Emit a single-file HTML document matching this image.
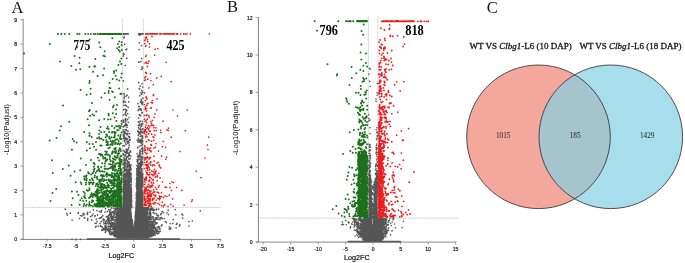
<!DOCTYPE html>
<html lang="en"><head><meta charset="utf-8"><title>Figure</title>
<style>html,body{margin:0;padding:0;background:#fff}svg{display:block}.ss{font-family:"Liberation Sans","DejaVu Sans",sans-serif}.sf{font-family:"Liberation Serif","DejaVu Serif",serif}</style>
</head><body>
<svg width="685" height="263" viewBox="0 0 685 263">
<rect width="685" height="263" fill="#fff"/>
<g id="pa">
<g stroke="#8a8a8a" stroke-width="0.5" stroke-dasharray="1 0.7" fill="none">
<path d="M23.5 207.6 H221"/>
<path d="M122.6 18.8 V239"/>
<path d="M143.4 18.8 V239"/>
</g>
<path d="M23.2 19 V239.5" stroke="#a8a8a8" stroke-width="1.4" fill="none"/>
<path d="M21 239.4 H221" stroke="#5e5e5e" stroke-width="0.8" fill="none"/>
<path d="M141.4 224h0M153 209.2h0M117.3 234.5h0M147 209.4h0M131.6 230.1h0M124.2 226.7h0M136.1 213.5h0M135 227.2h0M129.1 222.7h0M117.3 237.3h0M128.4 216h0M120.4 223.1h0M134.8 229.6h0M120.3 214.9h0M135.2 230.3h0M128.3 225.8h0M142.9 235.1h0M124.8 227.3h0M119 233.2h0M118.6 231.5h0M136.1 216.1h0M172.7 223.4h0M119.3 224.8h0M126 208.2h0M145.6 208.9h0M139.2 217h0M144.8 223h0M135.9 231.1h0M137.7 234.4h0M136.5 208.6h0M121.7 223.8h0M134.9 235.5h0M123 220.4h0M138.9 215.3h0M107.6 219.1h0M115 210.4h0M130.9 237.3h0M132.6 223.4h0M150 225.2h0M123.5 236.8h0M138.6 219.8h0M116.5 212.7h0M153.9 220.4h0M105.4 227.7h0M145.3 213.1h0M127.8 224h0M114.5 223.4h0M125.8 216.1h0M140.9 234.7h0M129 213.8h0M123.3 218.4h0M135.9 214.9h0M131.4 233.5h0M140.3 214.4h0M138.5 233.5h0M126.4 236.4h0M123.9 212.6h0M130.1 212.4h0M128.6 211.8h0M135.1 225.2h0M121 231.2h0M132.7 238h0M123.3 219.6h0M137.4 217.2h0M136.1 213.3h0M128.7 231h0M115.2 231.9h0M142.2 219.8h0M123.2 214.3h0M126.1 208.8h0M130.5 234.6h0M135.9 224.9h0M125.6 211.2h0M126 226.7h0M118 221.5h0M142.7 237.7h0M126.2 218.7h0M126.2 210.4h0M113.6 213.3h0M125.3 211.5h0M140.1 219.1h0M142.2 232h0M121.7 215.5h0M132.1 233h0M138 213.4h0M116.3 236.1h0M127 213.6h0M138.9 234.2h0M142.5 228.2h0M117 229.7h0M121.1 218.1h0M143.5 233.9h0M127.3 227.6h0M135.4 238h0M119.8 231.5h0M143.1 226.8h0M135.7 235.8h0M144.8 220h0M122.1 228h0M125.8 217h0M120 219.4h0M119.3 226.5h0M119.6 212.2h0M132.3 220.1h0M122.5 214.1h0M130.5 229.2h0M123.9 222.9h0M134.5 233.4h0M139 207.7h0M139 232.1h0M139.7 231.7h0M129.3 236.6h0M138.1 231.7h0M127.5 215.7h0M123 217.9h0M117.8 235.1h0M130.1 228.2h0M135 226.8h0M146.1 219h0M126 225.7h0M145 221.6h0M117.5 213.1h0M129.2 216.9h0M154.4 226.8h0M127.5 225.9h0M122.2 228.4h0M120.5 235.7h0M154.3 231h0M144 230.9h0M125.7 230h0M126.7 230.1h0M108.4 220.3h0M128.2 208.5h0M145.5 215.3h0M114.6 214.6h0M141.7 215.8h0M138 221.2h0M145.2 210.4h0M126 218.2h0M134.9 224.3h0M146.2 236.5h0M137 224.7h0M139.1 232.9h0M128.6 235.1h0M129.5 224.1h0M125.8 215h0M133.3 230.6h0M130.8 215.5h0M128.9 223.5h0M109.5 231.6h0M119.7 208.8h0M130.8 227.4h0M143.8 230.6h0M123.4 212.9h0M126.4 235.3h0M130.3 216.7h0M142 233.6h0M148.4 227.6h0M134.9 232.4h0M130.4 213.1h0M123.9 227.7h0M136.7 208.4h0M128.4 220.3h0M135.7 218h0M123.1 223.6h0M143 230.2h0M127.6 227.6h0M118.7 209.6h0M131.6 233.3h0M122 208h0M137.7 215.9h0M145.2 228.7h0M137.7 219.8h0M130.1 228h0M123.6 228h0M126.9 224.2h0M155.1 234.8h0M142.5 224.5h0M122.7 208.6h0M122.6 230.9h0M136.5 216.2h0M132.8 226.1h0M133.4 233h0M138.6 210.9h0M120.7 237.8h0M124.2 230.3h0M141.4 207.6h0M135.8 231.5h0M128.8 212.8h0M130.6 220.9h0M139 214.3h0M136.1 220.1h0M125.7 228.6h0M121.6 215.8h0M141.2 237.6h0M120.6 226h0M152.7 227h0M121.3 225h0M126.2 235.2h0M143.7 232.7h0M146.3 222.3h0M132.9 227.8h0M109.7 214.1h0M130.5 220.9h0M114.7 212.3h0M127 216.7h0M140.9 221.1h0M140.7 230.8h0M135.9 215h0M135.3 231.8h0M139.4 236.5h0M127.6 208.9h0M128.4 223.1h0M143.6 215.3h0M137.8 223.4h0M144.1 220.7h0M137.1 237.5h0M136.7 233.6h0M140.7 218.7h0M139.8 222.1h0M150.5 233.4h0M138.7 209.2h0M127.9 234.5h0M128.3 224h0M122.9 234.8h0M135.7 217.2h0M125.6 231.1h0M119.1 235.1h0M139.7 237.2h0M148 233.9h0M116.3 232.9h0M142.1 223.1h0M135.3 225.9h0M123.1 209h0M125.5 209.2h0M129.5 214.6h0M153.2 218.1h0M136 212.9h0M145.9 209.7h0M126.3 237.7h0M143.9 235.5h0M140.9 228.6h0M125.7 236.1h0M126.6 221.1h0M137.8 231.6h0M116.8 231.1h0M132.3 230.8h0M119.1 236h0M131.3 216.5h0M137.3 219.5h0M139.6 220.9h0M137.1 237.5h0M130.4 226.5h0M126.9 218.3h0M124 234.5h0M126.5 227.9h0M128.2 237.7h0M127.3 236.4h0M134.6 232.8h0M125.8 227h0M117.3 225.5h0M139.3 211.6h0M125.1 229.9h0M114.8 236.4h0M123.7 213.6h0M129.1 236.8h0M130.4 236.1h0M135.9 208.8h0M149.4 216h0M119.6 229.3h0M149.5 234.4h0M134.7 227.8h0M129.3 229.3h0M113.7 211.8h0M129.4 226.9h0M139.7 236.4h0M122.8 210.1h0M118.3 220.4h0M119 235.5h0M134.5 235.6h0M132.7 225.4h0M149.6 235.4h0M127.3 220.1h0M140.5 220.6h0M119.5 237.5h0M129.1 214.2h0M142.6 214.9h0M128.4 210.5h0M138 218.8h0M120.6 218.1h0M122.9 234.3h0M126.8 237.7h0M120.5 236.8h0M127 208.8h0M146.1 219.6h0M128.8 209.4h0M135.4 229h0M146.5 216h0M133 236.8h0M131.2 234.2h0M127.6 231.1h0M143.4 222.7h0M141.6 222.5h0M152.2 223.5h0M152.8 225.5h0M118.5 221.9h0M140 208.7h0M153.1 224.5h0M136.7 213.2h0M134.8 237h0M121.4 227.9h0M143.9 222.4h0M123 220.5h0M134.9 231.9h0M129.3 227.5h0M138 209.4h0M128 219.5h0M128.2 221.6h0M144.2 236.8h0M132.7 237.1h0M142.4 233h0M126.1 235h0M145.3 208.1h0M138.8 238h0M145.2 228.5h0M141.5 236.9h0M118.3 219.8h0M105.3 232.2h0M144.4 236.7h0M128 236.4h0M128.8 231.3h0M124.5 221.9h0M126.8 214.3h0M136.1 231.4h0M142 230.9h0M128.8 213.6h0M113.5 215.9h0M139.2 235.2h0M136.5 214.2h0M126.3 213.4h0M119.5 233.9h0M120.1 220.2h0M145.8 233.4h0M126.6 232.1h0M144.5 224.5h0M129.7 223.6h0M141.6 225h0M123.6 223h0M120 232.9h0M129.6 215.2h0M115.3 230.3h0M120.8 210.6h0M137.8 223.8h0M148.6 230.1h0M134.8 234h0M116.9 224.7h0M122.5 228.2h0M135.3 220.4h0M130.8 224.4h0M158.7 233h0M149 213.3h0M129.8 237.1h0M150.6 213.4h0M123.6 214h0M123.7 210.2h0M146.1 219h0M122.1 234.4h0M127 226.1h0M148.5 226.2h0M128.1 220.1h0M146.4 228h0M139.9 218.6h0M128.6 233.2h0M139.6 228.9h0M143.8 222.9h0M141.3 226.6h0M124.2 235.4h0M141.5 208.8h0M111.8 217.4h0M128.6 213.3h0M133 228.7h0M141.4 209.5h0M145.1 214h0M120.8 208.3h0M127.1 233.4h0M130.9 225h0M127.7 227.9h0M136.9 220.7h0M139.4 231.9h0M140.1 235.9h0M128.8 225.1h0M161.5 217.7h0M121.1 227.9h0M129 208h0M148.2 227.2h0M141.3 230.4h0M140.5 214h0M145.3 225.4h0M131 231.2h0M134.3 230.8h0M143 209.4h0M146.5 208.9h0M120.9 219.6h0M127.9 231.1h0M135.7 217.4h0M142.7 232.8h0M120.9 229.8h0M142.6 223h0M126.3 227.4h0M141.1 228.9h0M136.8 208.5h0M148.9 233.7h0M123.2 220.7h0M139.8 237.4h0M130.5 236.1h0M126.3 233h0M141.7 207.8h0M123.8 216.9h0M140.4 212.1h0M122.4 237.1h0M121.9 218.4h0M140.3 226.2h0M154.3 225.4h0M138.2 217.6h0M123.6 230.2h0M136.9 223.9h0M130 231.6h0M126.3 227.7h0M135.8 223.3h0M138.8 234.4h0M141.4 231.1h0M122.8 226.8h0M148.8 225.1h0M128.9 214.5h0M118 219.7h0M124.4 222.3h0M136.2 212.1h0M124.2 233.4h0M135.2 235.8h0M123.7 227.6h0M143.7 235h0M135.2 222.5h0M129.5 222h0M143.2 235.1h0M123.5 217.3h0M130.4 222.5h0M138.8 226.7h0M137.1 210.4h0M136.1 212.6h0M141.7 232.7h0M127.3 234.2h0M130.5 210.5h0M123.6 234.4h0M130.6 215.9h0M120.9 230.1h0M120.9 228.6h0M131.6 222.6h0M122.9 210.1h0M140.9 238.1h0M142.7 234.3h0M138.5 217.2h0M140.2 227.6h0M137.9 230.8h0M119.5 208.9h0M121.4 231.5h0M136.4 217.4h0M122.6 208.8h0M125.5 215.7h0M130.9 217.5h0M136.3 217.1h0M118.4 214.3h0M132.7 231.3h0M140.9 220.2h0M136.9 214.4h0M145.5 211.4h0M127.1 210.8h0M143.7 210.9h0M155.6 233h0M139.9 228.2h0M142.5 225.7h0M141.8 211.3h0M111.4 225.3h0M125.5 231.5h0M144.5 237.7h0M119.8 230.8h0M136.3 215.1h0M138.6 237.7h0M145.8 234.2h0M131.1 230.1h0M141.2 223.3h0M132.1 228.6h0M146.1 211.6h0M126.1 233.1h0M126.9 222.4h0M137.1 215.2h0M146.6 210h0M136.1 212h0M132.3 235h0M126 214.7h0M142.5 218.6h0M125.5 226.8h0M130 237.6h0M129.7 234.2h0M142.9 216.2h0M123.6 236.3h0M124 230.1h0M134.7 231.7h0M135.8 216.3h0M117.9 228.7h0M123.2 236.2h0M126 228.3h0M133.2 229.6h0M124.2 217.3h0M152.3 228.6h0M135.9 218h0M144.2 223.1h0M136.6 211.5h0M135.7 216.7h0M140 227.2h0M128.7 224.8h0M115 224.7h0M137.4 212h0M124.8 234.9h0M145.4 226.7h0M123.6 223.2h0M134.5 226.3h0M132.4 221.2h0M126.6 224.4h0M128.4 227h0M129.8 218.3h0M134.6 229.6h0M135.7 220.9h0M135.8 216.9h0M132.5 235.1h0M110.3 227.5h0M144.4 209.5h0M139.3 208.7h0M121.4 207.8h0M123.7 237.3h0M114.2 213.4h0M108.8 209.6h0M127.1 211h0M147.6 217.3h0M135.6 218.6h0M135.6 217.2h0M135.4 221.9h0M138.7 214.9h0M131.6 224.3h0M124.3 232.6h0M126.6 236.1h0M139.4 210.8h0M128 216h0M113 232.1h0M138.4 213.7h0M135.3 230.4h0M145.2 220h0M134.8 228.8h0M133 232.9h0M131.7 234h0M124.5 236.6h0M135.8 236.5h0M127.4 236.7h0M121.9 236.2h0M130.2 213.3h0M135.2 223.8h0M136.7 235.2h0M139.6 223.5h0M153.3 222h0M129.6 224.4h0M146.6 233.1h0M132.3 226.4h0M136.2 212h0M141 227.9h0M124.2 224.2h0M130.1 210h0M139.9 232.4h0M119.4 217h0M123.4 224.8h0M127.5 214.9h0M132.1 228.7h0M140.4 223h0M120 228.4h0M144.9 212.2h0M139.6 210.5h0M138.9 220.1h0M116.4 208.2h0M136.6 216.8h0M124.9 213.4h0M139.8 211.2h0M131.7 231.3h0M127.4 208h0M123.5 227.7h0M129.8 224.4h0M139.7 233.8h0M118.2 213.7h0M125.1 229.3h0M129.2 218.2h0M130.7 232.8h0M127.8 228.9h0M135 227.9h0M133.6 232.3h0M110.2 234.3h0M142.2 215.5h0M120.2 209.3h0M144.7 232.6h0M140.8 234.3h0M115.2 228.3h0M133.9 236.3h0M145.3 219.5h0M146.5 228.4h0M135.1 222.3h0M124.9 210.8h0M143.5 212.4h0M119.5 210.3h0M119.7 209.8h0M140.4 221.4h0M120.9 224.3h0M138.8 237.4h0M121.5 235.9h0M126.2 223.6h0M143.1 212.6h0M131.5 226.4h0M139.9 238h0M130.9 232.9h0M127.5 215.8h0M125.7 234.4h0M123.4 233.3h0M137 230.9h0M137.6 220.8h0M147.1 213.2h0M135.8 232.8h0M129.5 221.1h0M138 223.4h0M146.8 226.1h0M119.1 221.8h0M147.3 214h0M124.6 232.8h0M124.7 224.4h0M160.2 231.3h0M143.4 223.9h0M126.8 214.8h0M140.7 207.6h0M146 225.1h0M139.9 230.5h0M143.4 221.8h0M136.7 228.3h0M138.4 235.5h0M121.7 223.5h0M123 214.5h0M135.8 211.3h0M120.9 208.3h0M139.7 228.4h0M131.9 231.8h0M145.4 235.6h0M141.8 226.3h0M127.9 214.2h0M105.2 228.2h0M119.8 212.8h0M135.7 217.4h0M154 231.2h0M135.5 220.1h0M138.8 213.8h0M130.6 209.9h0M105 229.7h0M138.9 213.7h0M129.2 215.3h0M117.6 231.9h0M140 230.6h0M130.3 209.1h0M162 224.8h0M110.4 228.5h0M124.8 217.2h0M133.5 235.1h0M128.6 224.9h0M139.5 228.7h0M141.6 222.9h0M137.9 221h0M135.6 219.8h0M125.8 226.4h0M135.7 211.5h0M141.2 213.2h0M136.3 209.9h0M112.5 224.8h0M147.8 216.8h0M127.6 226.5h0M141.9 231.1h0M127.4 219.4h0M142.4 209.4h0M128.6 214.3h0M147.9 230.9h0M146.3 232.5h0M126.1 215.4h0M107.1 216.4h0M137 212.3h0M122.7 234.7h0M141.8 212.4h0M136.9 226.4h0M129 231.2h0M123.3 229.2h0M124.5 207.8h0M145.2 209.1h0M143.2 236.3h0M130.5 230h0M136.7 217.2h0M142.9 237.4h0M131 237.4h0M113.6 235.4h0M147 212.1h0M129.5 229.4h0M126.6 229.9h0M136 214.7h0M123.3 229.9h0M122.5 216.5h0M135.5 228.4h0M125.7 230.5h0M137.4 227.8h0M137.2 234.2h0M154.1 234.1h0M129 212h0M136.2 212.1h0M127.3 225.6h0M144 218.2h0M138.1 212.3h0M137.1 227.7h0M149.8 217.3h0M136.5 216h0M136 236.5h0M119.4 234.9h0M117.2 216.1h0M127.3 217.6h0M134.1 233.7h0M122.7 213.6h0M123.7 214.4h0M140.7 229.5h0M127.2 229.2h0M127 235.7h0M129.2 226h0M121.6 235.7h0M141.5 222.9h0M146.3 220.3h0M143 221.7h0M149.6 235.9h0M114.8 220.1h0M141.6 216.1h0M131.8 234.8h0M146 221.3h0M126.2 213.8h0M141.6 233.5h0M147.9 210.6h0M139.2 208.5h0M135.4 217.4h0M130 212h0M138.8 231.3h0M130.4 219h0M122.5 210.1h0M140.3 237.2h0M147.7 213.8h0M137.6 232.3h0M143.2 214.4h0M144.8 219.7h0M136 214.4h0M133.3 227.4h0M125.3 225.9h0M136.7 210.2h0M139.1 236.6h0M123.9 234.5h0M129 208.5h0M142.8 210.6h0M126.8 234.7h0M140.4 208.5h0M137.5 231.4h0M129.1 211.3h0M141.6 210.9h0M140.4 237.7h0M133.2 237.9h0M134.9 229.6h0M137.9 210h0M138.7 214.8h0M138.2 227.8h0M140.3 212.5h0M128.5 230.2h0M148.2 229h0M132.7 233.5h0M129.9 209h0M145.1 214.3h0M143.4 225.5h0M114.8 230.5h0M136.4 208.7h0M141.4 227.5h0M139.3 233h0M117.3 226.6h0M126.2 217.2h0M125.7 215.5h0M140.4 235.7h0M141.4 209.4h0M137.6 218.7h0M133.4 236.8h0M125.4 213.2h0M142.8 208.5h0M114.5 213.1h0M139.7 237.9h0M139.7 225.2h0M137.1 221.5h0M136.2 211.5h0M135.5 224.2h0M140.9 236.5h0M126.4 209.9h0M140.4 209.2h0M135.2 224.8h0M134.8 237h0M110.9 212.7h0M121 216.4h0M129.5 208.6h0M126.6 238h0M142.5 226.3h0M118.5 230.9h0M146.3 235.7h0M141.1 216.7h0M135.9 229.2h0M128.4 237.3h0M121.4 235.1h0M122 214.3h0M126 220.9h0M133.4 232.9h0M140 218h0M141 235.1h0M143.5 218.7h0M143.1 219.3h0M126.1 238h0M127.7 224h0M143.3 216.9h0M125.2 215.9h0M142.9 217.6h0M136.2 211.6h0M120.6 215.9h0M138.2 210.3h0M136 227h0M125 237.5h0M108.6 230.6h0M136.5 230.8h0M138.4 237.3h0M142.3 235.7h0M137.9 223.7h0M126.2 231.8h0M116.7 230.5h0M130.8 216.4h0M142.2 212.6h0M130.7 212.3h0M121.3 228.3h0M118.1 217.5h0M111.2 212.3h0M135.6 234.6h0M138.2 233.3h0M113.6 219h0M127.2 231.4h0M148.1 233.4h0M112.4 227h0M149.7 237h0M144.8 226.3h0M142.9 237.2h0M138.7 232h0M138.8 232.8h0M140.1 229.6h0M150.9 234.1h0M122.6 225.2h0M117.3 218.2h0M113.8 228.2h0M136.6 210.1h0M142.7 212.4h0M126.2 230.3h0M138.3 237.4h0M136.4 215.5h0M145.5 232.2h0M141 229.5h0M138 221.8h0M126.3 207.6h0M129.6 230.4h0M142.3 225.3h0M135.8 220.2h0M145.5 218.4h0M127.2 232.9h0M142.7 221.3h0M130.9 222.9h0M138 219.2h0M115.6 234.6h0M140.8 235.3h0M124.6 208.4h0M144 213.7h0M141.4 213.5h0M126.6 209.9h0M145.6 208.9h0M148.3 227.6h0M148.7 216h0M145 219.8h0M129.4 222.4h0M146.7 218.5h0M121.3 229.9h0M129.2 212.3h0M137.3 227.2h0M117.2 234.3h0M146.9 237.9h0M139.9 219.8h0M132.5 232.4h0M115.8 209.1h0M127 233.4h0M141.9 230h0M139.8 208.1h0M124.7 223.7h0M121.8 210.3h0M135.9 215.1h0M121.7 235.4h0M117.3 232.6h0M147.8 227.8h0M136.2 211.7h0M137.5 229.4h0M130.6 225.5h0M143 224.9h0M143.3 229.7h0M130.5 214.9h0M129.2 237h0M129.5 232.6h0M141.8 213.6h0M135.5 220.6h0M121.9 224h0M146.7 228.4h0M134 235.2h0M138.7 225.7h0M145.2 208h0M138.8 221.3h0M141.5 221.9h0M130.5 207.9h0M139.4 211.5h0M141.5 207.6h0M137.9 209.2h0M131.4 218.9h0M131.7 230.3h0M130 220.2h0M136.3 229h0M127.9 214.1h0M139.5 235h0M128.6 225.5h0M142.4 213.1h0M135.1 225.8h0M126.8 221.1h0M138.2 236h0M122.7 230.9h0M156.5 209h0M126.3 219.3h0M131.8 228.5h0M146.7 223.8h0M127.3 215.3h0M124.4 214.9h0M124 213.5h0M144.8 230.7h0M122.2 232.2h0M148.6 219.9h0M139.6 223.5h0M131.3 222.3h0M144.9 232.9h0M133.1 229.9h0M129.5 216.1h0M120.9 228.7h0M120.2 215.9h0M136.1 237.2h0M116.4 209.3h0M117.5 232.9h0M118.5 225h0M130.5 210.3h0M119.2 231.8h0M131.1 232.5h0M152.4 208h0M136.3 210.9h0M149.2 223.1h0M134.5 236.9h0M122.2 221h0M127 231.8h0M126 232.9h0M137.4 209.9h0M139.3 220.5h0M134.7 226.1h0M128.4 236.8h0M124.6 228.3h0M127.5 212.3h0M123.6 230.4h0M124.5 229.8h0M154.8 219.8h0M141.4 231.8h0M122.2 222.5h0M131 215.5h0M135.9 230.8h0M131.3 225.2h0M125.4 221.9h0M136.1 228.6h0M133.7 232.6h0M137.4 235.6h0M143 222.2h0M126.3 209.7h0M134.4 237.8h0M126.8 212.2h0M124 208.9h0M126.6 223h0M136.4 208.7h0M126.3 217.7h0M122.9 222.9h0M124.9 225.5h0M135.1 225.4h0M145.2 218.4h0M145.3 232.3h0M118.1 217.3h0M128.9 224.6h0M138.3 218.7h0M127.4 209.6h0M130.9 232.4h0M123.1 227.3h0M134.2 231.2h0M131.1 237h0M124 220.4h0M137.9 220.2h0M141.5 207.6h0M137.6 221.1h0M121.3 227.6h0M136.1 211h0M140.9 237.8h0M143.6 230.4h0M143.4 216.1h0M142.2 234.3h0M130.4 228.6h0M137.9 212.8h0M139.6 229.1h0M133.3 232.1h0M136.6 211.4h0M121.9 236.5h0M136.4 212.5h0M128.1 230h0M131.1 233.1h0M148.7 224.6h0M135.3 224.8h0M136.5 208.8h0M126.1 216.1h0M118.4 225.6h0M121.1 222.4h0M129.1 229.9h0M128.7 208.2h0M115.1 227.2h0M125.7 211.5h0M131.4 219.3h0M124.6 210.5h0M128.6 228.8h0M135 226.9h0M144.5 228.4h0M136.6 213.5h0M145.1 209.2h0M120.2 213.6h0M145 225.9h0M129.5 213.5h0M141.8 216.8h0M151 223.1h0M142.3 233.7h0M136.9 232.2h0M146.8 217.7h0M127.8 233.3h0M142.5 222.4h0M137 214.3h0M136.9 219.4h0M126.4 220.8h0M136.1 231.7h0M136.5 235.4h0M132.6 237.5h0M136.3 237.2h0M118.8 232.4h0M141.7 222.5h0M129.8 226.7h0M135.2 233.2h0M126.3 230.4h0M128.8 225.5h0M126 214.5h0M144.2 219.3h0M124.1 237.3h0M125.2 224.9h0M131 233.7h0M121.6 212.6h0M123.1 211.6h0M135.3 222.6h0M136.2 216.6h0M140 218.3h0M137.5 213.9h0M124 231.1h0M122.3 232.5h0M142.1 216.3h0M114.9 209h0M134.3 232.5h0M139.4 222.2h0M143.7 222.9h0M146 228.2h0M142.5 216.1h0M152.4 233.4h0M115.1 227.6h0M129.4 226.5h0M136.8 209.2h0M112.6 217.8h0M125 217.5h0M142.6 207.6h0M126 232.5h0M142.2 221h0M139.4 235.7h0M144.9 234.3h0M140.6 218h0M138.3 213.6h0M139.5 219.9h0M124.2 221.8h0M147.2 214.8h0M129 209.1h0M124.8 210.2h0M137.7 214.2h0M119.4 226.4h0M150.6 215.4h0M156.9 229.4h0M143.2 210.9h0M123.7 231h0M137.9 208.2h0M136 230.4h0M127.8 231.5h0M130 229.4h0M137.9 224.8h0M128.3 233.3h0M133.1 231.5h0M136.2 211.6h0M121.9 210h0M130.1 234.5h0M128.9 226.2h0M149.1 226.6h0M135.8 213.5h0M137.9 219.1h0M136.2 227.2h0M136 214.8h0M135.1 220.9h0M132.6 233h0M115.3 214.6h0M135.1 225.4h0M126.8 211.5h0M129.7 219h0M123.9 234.6h0M124.6 215.9h0M135.4 221.7h0M128.5 223h0M134.5 226.8h0M136.4 219.1h0M133.7 236.8h0M135.2 224.2h0M126.9 209.8h0M131.5 233.2h0M140.2 235h0M131.4 227.1h0M139.5 223.7h0M134.6 228.2h0M143.4 224.8h0M124.1 218.7h0M136.9 214.7h0M142.7 237.1h0M125.9 228h0M135.7 220.5h0M137.5 237.7h0M130.3 209.3h0M142.3 219.8h0M137.3 224.8h0M130.7 225.9h0M142.3 234.7h0M137.7 236.7h0M158 217.1h0M119.8 210.2h0M135.9 214.7h0M133.2 237.7h0M133.6 237.3h0M114.5 223.3h0M134.9 222h0M127.3 220.9h0M140 211.9h0M123 211.1h0M146.8 207.9h0M132.4 229.4h0M128 225.3h0M136.9 207.8h0M119.7 217.8h0M122.2 236.9h0M138.8 210.7h0M129.1 220.6h0M133.8 233.5h0M110.7 227.1h0M119.8 221.8h0M117.1 219.4h0M148.5 227h0M129.8 216.3h0M144.6 223.3h0M128.3 208.4h0M141.8 212.6h0M126.8 234.6h0M127.5 235.8h0M129.4 212.6h0M132.4 220.9h0M115.8 208.4h0M131.4 226.3h0M122.4 233.9h0M124.8 237.4h0M128.3 215.5h0M127.8 236.3h0M130.3 219.7h0M142.3 222.3h0M142.3 216.5h0M146.5 209.5h0M125.4 232.3h0M130.4 224.9h0M128.3 216.1h0M127.7 233.2h0M138.7 236.1h0M140 234.9h0M129.6 209.9h0M136 214.8h0M145.1 233.3h0M131.2 237.8h0M142.9 219.9h0M133.1 229.8h0M137.7 232.5h0M151.8 231.9h0M127.4 225.2h0M136.9 229.2h0M143.7 209.6h0M135.2 222.2h0M144.5 211h0M153.4 210h0M145.3 211h0M132.6 224.4h0M125.5 221.7h0M136.1 223.2h0M127.9 237.7h0M125.7 209.4h0M141.2 234.6h0M140.1 222.6h0M118.6 218.4h0M127.7 214.9h0M123.6 223h0M140 219.8h0M137.8 213.5h0M142.5 219.7h0M135.6 218.9h0M138.9 212.6h0M141.2 236.6h0M132.6 223.7h0M143.3 237.6h0M115.4 233.6h0M144.7 237.6h0M121.5 212.2h0M129.8 229.6h0M136.4 223.7h0M135.7 214.9h0M120.7 218.2h0M136.3 210.1h0M112.6 223.6h0M129.9 217.7h0M127.7 212.1h0M148.9 235.3h0M129.7 225.3h0M125.5 236.2h0M125.8 222.5h0M124.5 230h0M131 213.1h0M135.4 225.3h0M149.5 233.7h0M121.3 212h0M138.8 226.6h0M118.1 237.7h0M129.9 231.3h0M143.9 228h0M145.9 237.6h0M141.7 234.9h0M127.2 230.5h0M142.4 229.3h0M147.4 226.3h0M119.3 230.5h0M127.4 229.8h0M135.1 225.5h0M135.7 228.9h0M136.7 216.2h0M129.8 215.1h0M126.2 237.8h0M138.5 234.3h0M125.6 235.9h0M131.1 228.9h0M137.9 228.8h0M137.9 216.2h0M141.3 216.8h0M141.4 211.6h0M140 218.4h0M147.1 221.3h0M121.5 207.8h0M136 219.7h0M135.7 227.8h0M131 230.3h0M133.5 237.4h0M137.6 209.5h0M129 216.1h0M153.2 226.8h0M149.7 211.9h0M128 215.7h0M143.5 225.4h0M141.1 209.1h0M136.7 211.3h0M131.2 226h0M138.9 226.6h0M135.4 234.6h0M128.2 235.9h0M142.4 228.7h0M135.5 232.9h0M145.5 236.7h0M121.6 216.6h0M125.6 208.9h0M106.3 216.8h0M128.3 210.8h0M122.8 212.1h0M139.2 219.6h0M143 223.6h0M134.7 228.7h0M142.1 224.5h0M126.4 229.8h0M120.9 234h0M146.3 224.5h0M142.6 219.1h0M140.4 221.6h0M129 216.6h0M143.4 229.4h0M140 238.1h0M160 228.9h0M106.8 227.4h0M121.6 222.6h0M141.7 227.8h0M140.5 219.2h0M136.7 232.6h0M130.9 225.3h0M126.5 238.1h0M147.9 218.3h0M143.2 212.2h0M137.2 212.5h0M137.8 211.9h0M150.6 232.4h0M123.9 208.2h0M122.2 222.7h0M132.2 233.7h0M122.7 236.1h0M142.6 236.6h0M140.2 219.9h0M140.3 220.2h0M129.7 214.9h0M127 219.2h0M137.7 223.7h0M111.9 232.1h0M119.2 216.7h0M122.5 238h0M120.2 219.1h0M133.3 234.2h0M121.4 234.4h0M139.5 210.8h0M130.1 210.1h0M118.1 217.1h0M108 229.3h0M150.6 224.7h0M136.2 229.1h0M137.5 235.5h0M127.9 232.3h0M122.7 236.9h0M144 208.5h0M121 232.3h0M128.4 227.8h0M132.7 232h0M124.1 219.4h0M127 222.3h0M126.9 215.6h0M127.6 237.9h0M148.5 232.9h0M135.4 221.2h0M142.2 221.9h0M124.2 213.6h0M127 236.4h0M126.3 228.3h0M117.3 227.3h0M132 223.9h0M118.6 228.9h0M121.7 216.7h0M132.7 235.8h0M135.9 236.9h0M124.7 230h0M134.3 236.2h0M144.4 227.7h0M146.2 221.8h0M142.4 236.3h0M129.2 225.6h0M144.8 222.6h0M129.3 222.3h0M129.6 237.5h0M141.7 215.4h0M137 217.1h0M137.9 230.5h0M124.5 225.2h0M129.1 216.5h0M136.7 213.3h0M138.2 231.9h0M138.5 215.5h0M115.6 226.2h0M150.7 209.2h0M140.4 211.8h0M124.6 228.7h0M144.6 228.7h0M131 224.8h0M127.9 208.9h0M150.1 233.9h0M122.2 222.8h0M123.2 219.6h0M124.4 217.2h0M127 236.7h0M162.3 218.7h0M128.2 225.9h0M123 229.3h0M135.9 208.6h0M141.1 235.8h0M144.6 217.5h0M124.4 233.2h0M148.9 209.4h0M135.4 224.3h0M124.5 225.8h0M125.3 231.9h0M138.2 223.3h0M136.2 212.3h0M128.8 236.6h0M135.4 219.2h0M157.7 231.2h0M148 232.5h0M127.5 212.6h0M125.8 236.6h0M142.5 216.8h0M122 236.9h0M115.6 223.7h0M123.6 220.3h0M119.4 234.7h0M119.5 214.4h0M130.5 232.7h0M124.8 225.1h0M129.4 232.2h0M136.9 215.7h0M127.4 231.8h0M118.1 231.5h0M122.9 237.9h0M140.7 211h0M121.3 237.5h0M121.4 230h0M137.3 219.6h0M123.3 229.5h0M123.5 221.2h0M135.6 228.5h0M129.8 211.7h0M127.1 234.4h0M128.4 237.8h0M144.3 235.9h0M136.5 223.6h0M125.7 221.4h0M127.7 213.3h0M146 209.1h0M130.2 227.4h0M137 213.7h0M136.3 227.3h0M127.6 228.3h0M134.8 235.1h0M123.8 212.1h0M130.1 229.4h0M143.8 219.6h0M130.7 223.8h0M145.6 207.7h0M135.3 231.7h0M138.4 222.7h0M136 214.8h0M124.1 233.5h0M142.8 213.7h0M146.4 222.5h0M136.4 235.8h0M136.4 208.7h0M130.3 227.1h0M138.3 225.1h0M142.9 215h0M141.3 208.8h0M135.9 232h0M133.5 235h0M135.4 216.3h0M130.5 218.6h0M122.5 226h0M151.4 219.1h0M124.9 209.5h0M123.8 213h0M146.5 222.1h0M138.3 210.7h0M138.6 210.6h0M127.2 215.4h0M133 235.5h0M140.7 222.4h0M158.1 219.2h0M138.6 211.8h0M135 223.8h0M139.7 220.7h0M135.8 217.3h0M124.9 236.3h0M114.1 235.4h0M138.5 237.5h0M117.8 235.6h0M145.1 231.7h0M127.4 237.1h0M127.7 221.2h0M121.2 222h0M122.1 225.7h0M125.7 237.9h0M136 223.7h0M127.5 235.3h0M130.9 238h0M126.5 214.6h0M137.8 210.7h0M136.6 236.6h0M137.4 219.2h0M121.5 237h0M124.4 221.7h0M119.9 220.3h0M139.4 221.5h0M111.4 207.9h0M146.4 220.7h0M129.2 234.2h0M125.5 209.9h0M134.3 230.5h0M129 223.1h0M128.3 226.4h0M136.7 214.2h0M138.6 236.3h0M126.9 228.4h0M147.8 226.1h0M119.8 221.2h0M140.3 210.8h0M135.1 230.4h0M122 229.1h0M140.7 218.8h0M145.8 233h0M117.3 224h0M138.5 229.9h0M130.4 220.3h0M135.2 221.7h0M117.1 218.3h0M138.7 226.5h0M144.3 232.3h0M135.5 237.8h0M125.4 221.1h0M128.9 232.6h0M135.9 238h0M130.1 228.2h0M118.7 231.2h0M121.2 218.4h0M117.4 230.4h0M132.3 228.4h0M148.7 217h0M144.7 218.7h0M130 234.4h0M129.6 221.5h0M141 209.9h0M139.1 210.7h0M143.6 212.8h0M137 231h0M127.5 209h0M138.5 233.3h0M149.6 227h0M135.4 235.6h0M151.7 221.6h0M123.9 217.1h0M128.7 218.2h0M135.2 238h0M129.6 208.2h0M141.9 230.1h0M136.4 216.4h0M139.1 210.1h0M145.9 215.1h0M121 223.6h0M129.2 223.1h0M153.5 232.7h0M129 228h0M122.5 213.7h0M124.2 218.5h0M121.6 219h0M130 218.4h0M135.4 229h0M136.7 208.2h0M140.2 229.4h0M131 233.6h0M140.5 218.9h0M144.1 234.1h0M120.3 208.4h0M122.8 221.9h0M137.5 235.4h0M120 237.7h0M142.8 221.1h0M126.2 237.3h0M125.9 237.1h0M135 227.1h0M154.9 224.3h0M122 213.5h0M132.1 235.2h0M125 212.1h0M138.4 227.3h0M129.6 212.7h0M131.9 234.6h0M137.5 237.1h0M129.7 226.3h0M132.8 232.9h0M137.9 225h0M130.5 213.8h0M128.6 211.5h0M123.3 236.2h0M136.8 231.7h0M134.7 230.3h0M131.1 234h0M126 225.4h0M127.4 237h0M122.6 233.4h0M151.3 235.4h0M138.8 225.7h0M148.9 209.7h0M114.7 233.3h0M118.6 211.5h0M135.6 230h0M129.5 216.3h0M127.1 213h0M126.1 221h0M129 217.2h0M109.1 218.8h0M152.1 209.9h0M128.3 215.2h0M130 226.8h0M142.1 230.7h0M130.8 234.5h0M136.3 223.9h0M139.9 232.5h0M140.6 232.3h0M138.3 211.7h0M143 217.8h0M143.6 223.1h0M136.1 213h0M138.7 223.5h0M127.8 227.6h0M141 218.3h0M120.9 220.8h0M119.2 233h0M125.6 229.9h0M138.6 222.4h0M127.5 232.8h0M128.8 210.5h0M147 237.2h0M147.3 211.9h0M150.6 208.2h0M144.1 220.6h0M140.7 233h0M139.1 214.1h0M123.1 226.2h0M136.1 217.4h0M132.6 229.8h0M144.7 232.7h0M139.2 209.2h0M124.2 236.5h0M131 236.9h0M139.3 215h0M136.3 215.3h0M127.6 230.1h0M142.4 228.2h0M116.6 218.2h0M139.4 221.1h0M125 219.5h0M119.1 226.4h0M128.6 208.2h0M145.2 234.7h0M118.5 220.1h0M131.5 233.1h0M133.5 229.4h0M128.5 230.5h0M128 213.6h0M130.9 221.8h0M135.3 229.5h0M146.8 223.2h0M106.7 223.1h0M136 222.9h0M142 232.2h0M115.7 227.7h0M139.3 225.6h0M143.3 236.3h0M128.7 237.8h0M136 221.3h0M127 233.1h0M121.4 214.4h0M127.2 237.6h0M126 232.6h0M141.8 220.1h0M126.4 235.1h0M139.6 226.8h0M141.9 230.5h0M144.9 231.4h0M133.5 232.3h0M138.2 208.4h0M125 229.9h0M122.4 235.5h0M146.3 210.5h0M144.1 234.4h0M123.1 216.6h0M124.3 219.2h0M148.1 217.2h0M136.6 215.4h0M145.1 233.8h0M149.1 236.9h0M131 226.5h0M142.1 226.1h0M121.2 232.3h0M130.9 214.1h0M141.5 235.7h0M146.2 224.4h0M132.6 223.4h0M138.9 237.9h0M124.7 214.1h0M142.2 228.7h0M120.2 225.6h0M129.4 234.3h0M131.1 227.5h0M123.7 225.8h0M126.6 221h0M129.7 237.4h0M142.4 226.6h0M139.3 224.7h0M137 209.2h0M136.9 221.3h0M137.2 218.3h0M123.5 226.2h0M129.1 224.5h0M129 208.2h0M140.5 227h0M136.8 207.8h0M138.5 220.8h0M122.2 210.5h0M147.6 221.9h0M126.1 213.7h0M123.4 213.7h0M132.9 227.9h0M135.8 229.6h0M129.2 209.7h0M147.4 229.6h0M126.8 215h0M127.9 233.9h0M119.9 224.7h0M145.6 228.1h0M129 231.1h0M128.7 232.2h0M117.4 208.8h0M124.3 218.9h0M127.1 225.4h0M136.8 222h0M141.1 212.9h0M143 218.6h0M124.9 235.2h0M134.9 233h0M145.6 211.3h0M139.1 222.5h0M140.8 221.4h0M146.2 234.3h0M138.7 235h0M134.1 232.8h0M158.2 226.7h0M119.2 222.4h0M135.8 228.3h0M139.9 218.6h0M135 226.5h0M135.2 223.9h0M128.3 209.2h0M145.4 237.3h0M116.9 219.9h0M122.6 216.6h0M119.2 233.8h0M126 212.4h0M127.7 235.3h0M137.3 214.2h0M143.5 233.5h0M124.9 226.6h0M134.9 227.6h0M152.4 221.3h0M140.9 220h0M116.5 236.7h0M140.4 214h0M134.8 223.5h0M136.3 210.4h0M137.1 234.1h0M141.7 226.1h0M137 209.1h0M142.8 220h0M137.3 224.1h0M142.2 225.3h0M139 210.5h0M124.3 238h0M120.4 207.9h0M151.3 224.5h0M124.8 213.7h0M122.7 224.9h0M142.7 213.5h0M145.2 236h0M131.1 226.6h0M144.8 215.5h0M127.1 207.7h0M129 223.9h0M119 236.5h0M151 216h0M135.3 219.5h0M141 234.6h0M117.2 232.7h0M138.5 224.3h0M115 233.1h0M126.3 210.5h0M139.9 207.9h0M146.3 216.1h0M147.2 213h0M133.6 229.5h0M120.1 235.8h0M137.8 216.9h0M128.3 214.7h0M140.7 218h0M138.8 233.9h0M152.7 235.6h0M140.1 222.6h0M132.5 234.6h0M138.6 230.6h0M130.3 225.1h0M129.1 231.9h0M127.1 209.9h0M131.1 229.8h0M127.2 222.4h0M136.5 208.5h0M119.7 218.8h0M128.7 227.9h0M139.4 216.1h0M125.8 233.5h0M123 235.8h0M152.9 235.3h0M127.8 218.9h0M149.3 219.1h0M131.5 218.8h0M138.6 218.7h0M142 221.7h0M126.5 209.6h0M125.5 225.6h0M134.5 235.3h0M133 231.9h0M141.1 227.2h0M128.2 220.7h0M126.7 228.7h0M136.1 226.3h0M125.9 230.6h0M124.3 216.9h0M137 212.9h0M129.2 229.3h0M121.1 214.5h0M142.3 233.4h0M129.3 208.4h0M111.1 227h0M125.5 219.1h0M142.8 221h0M133.4 236.4h0M126.2 221.6h0M135.7 237.2h0M126.3 224.8h0M129.1 223.1h0M137.5 209.2h0M123.4 233.8h0M152.6 235.2h0M109.4 219h0M117.6 230.1h0M141.8 222.7h0M136.6 231.7h0M149.8 218h0M140.1 235.3h0M144.1 223.9h0M139.8 215.4h0M129.7 211.3h0M115.4 228.9h0M129.7 222.8h0M137.9 209.2h0M136 234.9h0M124.2 213.4h0M142.1 216.7h0M127.9 208.7h0M123.4 224.7h0M135.1 225.7h0M131.8 222.9h0M121.5 228.6h0M123.1 236.9h0M135.5 222.1h0M150.5 227.1h0M109.7 222.5h0M111.7 217.2h0M126 227.6h0M128.8 234.3h0M140.7 213.4h0M119.1 209.5h0M136.1 232.3h0M137 220.8h0M142.2 228.1h0M126.6 217.8h0M124.8 237h0M129.3 210.4h0M127.3 212.6h0M128.2 234.9h0M127.8 219.8h0M140.7 229.5h0M130.9 233h0M129.9 212.8h0M139.4 216.1h0M130 221.9h0M136.3 220.5h0M120.2 212.1h0M134.7 229.2h0M135.2 224.5h0M127.2 232.5h0M127.8 225.8h0M125.1 234.1h0M145.2 229.1h0M131.1 219.7h0M126.5 231.1h0M126.7 219.4h0M124.2 214.6h0M136.2 220.2h0M135.3 225.3h0M125.3 227.7h0M125.8 236.6h0M136.6 215.6h0M122.8 209.1h0M148 232.1h0M135.4 217.9h0M127.5 221h0M136.4 214h0M116.7 218.4h0M138.9 233.4h0M127.2 235h0M142.7 229.3h0M142.3 233.7h0M125.3 221h0M148.7 235.9h0M129.4 218.6h0M129.3 215h0M144.6 237.3h0M141.8 211.5h0M126.6 213.8h0M135.3 237.3h0M127.1 222.8h0M123.6 237.6h0M126.4 225.1h0M137.4 236.4h0M116.4 221.8h0M135.8 236.5h0M124.9 236.2h0M128.8 208.6h0M143.9 214.2h0M137.7 218.7h0M128.5 214.9h0M151.1 231.8h0M116.8 235.3h0M133.1 229.8h0M141.8 215.8h0M120.9 216h0M138 217.2h0M130.2 226.9h0M148.3 224h0M141.2 216.5h0M138.7 221.5h0M118 232.7h0M129.8 225.3h0M146.6 209.8h0M140.3 208.9h0M125.7 236.5h0M130.9 235.4h0M114.2 235.4h0M134.7 224.2h0M123.5 211.1h0M119.3 223.9h0M123 229.5h0M140.2 211.7h0M117.5 232h0M106.8 220.7h0M150.3 211.5h0M127.5 212h0M128.2 235.1h0M121.3 230.3h0M144.2 227.2h0M139.5 215.4h0M140.2 218.3h0M137.8 223.2h0M141.8 228.1h0M137.3 230.8h0M130.3 221.7h0M142.1 214.3h0M135.5 228.9h0M127.4 230.9h0M136.8 237.9h0M112.9 233.7h0M134.5 235.1h0M126 226.4h0M119.3 215.3h0M138.8 227.3h0M153.5 232.7h0M145.8 234.2h0M138.9 209.2h0M125.1 220.5h0M118.8 230.5h0M128.4 212.9h0M125.7 209.4h0M135.7 222.8h0M149.4 225.5h0M141.2 227.8h0M136.7 228.2h0M137.3 212.3h0M118.9 217.4h0M139.8 210.6h0M135.1 237.5h0M125.4 235.1h0M131.5 223.5h0M130.2 221.5h0M139.1 226.5h0M127.7 223.8h0M142.9 211h0M135.4 222.3h0M128.1 231.5h0M146.4 224.3h0M131.2 230.5h0M135.5 220.1h0M122.7 221.5h0M143.8 217.6h0M130.5 208.5h0M138.7 224.4h0M130.2 237.4h0M136.2 224.5h0M120.7 224.1h0M127.7 214.8h0M121.5 210.1h0M129.8 234.3h0M140 211.5h0M127.8 234h0M131.2 221.4h0M135.2 238h0M147.1 212.9h0M141.1 227.1h0M116.5 232.3h0M144.3 209.4h0M115.3 235.2h0M118.3 228.9h0M135.4 225.4h0M148.6 231.2h0M124.8 228.7h0M121.7 213h0M129.5 233.4h0M135 222.5h0M146.6 232.9h0M135.5 220.5h0M128.8 231.9h0M128.5 230h0M135.3 223.5h0M137.7 231.8h0M123.2 216.8h0M130.8 232.6h0M139.8 213.2h0M152.2 217.3h0M137.7 235.2h0M111.7 222.5h0M126.6 236.7h0M136.9 234h0M129.1 230.1h0M143.5 217.6h0M129.3 220.5h0M138.2 223.3h0M137.7 233.8h0M128 230.5h0M127 218.3h0M128.6 224.6h0M121.7 229.8h0M133.2 236.7h0M125.4 237.2h0M130.6 210.2h0M122.1 226.9h0M146.2 211.3h0M138 232.1h0M145.5 221.4h0M126.2 231.7h0M127.9 211.6h0M137.7 232.6h0M136.5 222.9h0M136.6 208.7h0M140.4 216.8h0M137.9 222.6h0M144 228.5h0M127.1 223.4h0M143.6 238h0M95.6 227.1h0M136.1 231h0M130.1 237.2h0M127.8 232.2h0M132 226.8h0M130.1 212.5h0M137.1 210.4h0M122 237.7h0M126.5 225.6h0M136.9 218.4h0M127 216.1h0M128.4 234.4h0M138.4 238h0M134.8 231.9h0M127 230h0M124.8 233.6h0M138.2 232.7h0M140.1 219.1h0M139 232.7h0M138 233.6h0M129.8 231.3h0M124.5 225.7h0M132 233.3h0M130.5 224.5h0M126 209.8h0M135.9 213.7h0M157.1 215.2h0M126.9 209.6h0M128 210.3h0M139.6 222.6h0M125.3 218.1h0M128.2 228.9h0M127.8 223.1h0M130.1 210.3h0M140.6 224.1h0M138 226.8h0M119.4 219.2h0M129 225.4h0M122.2 236h0M135.9 228.1h0M127.5 235h0M142 210.5h0M149.3 216.4h0M129.2 226.2h0M134.6 236.6h0M140.6 235.6h0M125.7 231.5h0M118.6 223.6h0M137.6 235.8h0M135.8 228.6h0M113.4 232.2h0M131.6 235.8h0M127.2 235.4h0M125.8 235.4h0M130.9 213.4h0M117.7 233.7h0M117.9 235.6h0M143.3 213.4h0M138.6 208.9h0M130.2 216.7h0M133.5 236.6h0M135.5 235h0M132.7 234.8h0M156.8 232.6h0M126.4 224.9h0M138.8 237h0M121.8 214.6h0M138.7 227.1h0M150.2 232.6h0M131.9 236.1h0M124.8 222.1h0M118.1 215.2h0M143 221.7h0M125.5 232.2h0M135.5 214.4h0M139.4 223.9h0M123.3 221.6h0M136.3 210.8h0M144.8 218.6h0M123.9 235.5h0M128.8 218h0M132.6 230.7h0M118.3 214.8h0M127.9 222.3h0M141.2 223h0M153.4 232.8h0M122.8 237.6h0M136.5 208.4h0M136.5 237.5h0M129.7 237.1h0M126.5 225.6h0M129 209.7h0M127.9 223h0M124.6 207.8h0M129.3 217.3h0M129.9 213.8h0M113.4 213.6h0M136.4 209.5h0M129.1 208.6h0M133.6 229.6h0M115 217.3h0M151.1 223.5h0M130.5 208.3h0M117.7 221.4h0M143.2 227.4h0M139.5 237.5h0M126.8 216.9h0M145.9 237.9h0M138.4 219.5h0M122.7 231.5h0M125.9 218.6h0M137.4 207.8h0M148.8 228.8h0M127.9 222.5h0M145.9 222.5h0M134.6 234.3h0M125.4 216.6h0M144.8 217.7h0M124 215.4h0M130.9 232.7h0M110.6 233.8h0M129.2 227.6h0M141.3 235.5h0M120.3 231.1h0M116.5 237.1h0M147.9 227.4h0M139.3 228.6h0M125.3 229.7h0M131.7 227.9h0M153.3 235.1h0M121.2 226.4h0M142 219.4h0M138.4 229.7h0M136.8 222.2h0M130.5 214.4h0M140.5 223.5h0M124 210.1h0M135.9 215.5h0M145.7 222.5h0M131.2 236.3h0M134.8 225.3h0M142.5 237.4h0M118.8 209.1h0M110.6 234.2h0M147 233.1h0M136.2 233.8h0M138.1 212.4h0M127.6 210.8h0M135.8 217h0M140.4 212.6h0M132 231.6h0M126.7 211.2h0M123.6 235.9h0M117.8 230.2h0M112.3 212.2h0M128 218.1h0M127.3 209.9h0M153.1 212.5h0M126.5 233h0M121.5 226.9h0M147.8 207.9h0M125.3 217.7h0M128.4 214.7h0M143.3 236.3h0M141.8 209.2h0M142.7 222.7h0M139.9 234.5h0M123.7 222h0M126.1 210.5h0M128 222.9h0M139.2 207.8h0M129 210.1h0M143.6 224.4h0M136.6 208.7h0M137.1 215.6h0M110.8 229.5h0M135.2 236h0M122.4 237.6h0M142.1 223.6h0M130.4 216h0M141.2 235.1h0M140.3 233.2h0M127 208.5h0M126 214.2h0M144.2 229.8h0M144.7 209.6h0M125.4 225h0M117.3 231.6h0M142.3 229.1h0M119.1 231.2h0M135.7 218h0M113.1 227h0M143.8 221.8h0M137.7 220.5h0M129.1 224.2h0M121.4 225.8h0M105.8 225.6h0M132.7 232.3h0M140.8 236.1h0M136.4 217.9h0M119.6 237.8h0M140.6 216.7h0M137.4 216h0M119.2 214.3h0M117.6 219.8h0M124.1 209.2h0M145.7 228h0M127 225.6h0M151.3 229.7h0M147.4 237.9h0M117.2 226.2h0M130.5 224.4h0M165.3 221.5h0M133.8 237.4h0M141.2 234.4h0M137.5 231.2h0M130.6 227.2h0M126.3 233.1h0M136.8 228.5h0M138.3 230.8h0M140.2 235.7h0M141.5 211.9h0M122.9 220.9h0M124.5 208.1h0M141.1 221h0M135.8 220.6h0M114.6 227.7h0M124.1 214.3h0M156.4 223.6h0M128.8 213.7h0M130.3 225.4h0M137.5 216.5h0M138.5 219.1h0M119.8 227.5h0M126.2 236.1h0M149.5 231.8h0M123.7 226.2h0M134.6 225.1h0M148.4 232.7h0M132.4 231.6h0M132.5 229.7h0M124.4 222.8h0M125.5 236.2h0M144.7 227.2h0M139.3 218.4h0M136.8 213.2h0M128.1 223.8h0M147 209.3h0M149.1 216.6h0M135.9 214.8h0M124.8 235h0M122.7 224.2h0M158.1 233.3h0M156.5 217.7h0M126.8 229.7h0M136.3 211.7h0M112.3 233h0M124.9 236.5h0M152.3 226.5h0M141.8 234.4h0M141.7 222.7h0M129.7 226.4h0M122.3 237.7h0M130.1 232.1h0M145.3 234.6h0M137.5 233.9h0M139.6 208h0M140 221.8h0M125.7 215.2h0M134.9 227.9h0M124 233.8h0M122.6 229.4h0M138.4 218h0M120.2 227h0M149.8 237.1h0M136 222.6h0M120.1 224h0M127 218.4h0M121.6 237.6h0M141.9 211.4h0M139.2 225.5h0M134.8 228.6h0M150.2 230h0M136.1 212.8h0M130.7 231.5h0M123.9 230.4h0M122.1 211.4h0M137.5 225.3h0M142.3 237.1h0M132.5 235.4h0M136.8 216h0M134.2 229.7h0M150.6 229.5h0M135.8 230.6h0M143.3 208.5h0M130.9 224.8h0M124.7 211.2h0M119 214.7h0M122.7 214.9h0M137.7 215.2h0M123 230.3h0M143 213.6h0M128.7 224.6h0M113.7 232.4h0M134.9 231.8h0M127.6 223.4h0M151 224.3h0M139.6 208h0M123 220.5h0M135.5 220.4h0M117.7 236.9h0M116.4 236h0M131.9 230.4h0M138.4 226h0M127 210h0M145.4 237.1h0M116.3 217h0M138.6 220.4h0M135.5 232h0M119.6 210.4h0M137.4 228h0M128.6 213.2h0M145 231.2h0M117.9 222.2h0M139.5 215.2h0M128.7 212.3h0M148.1 228.7h0M159.6 229.1h0M128.4 219.3h0M129.2 219.8h0M131.9 237.2h0M131 221.1h0M141.8 209.6h0M127.1 232h0M125.1 220.2h0M130.3 210.5h0M132.3 227.9h0M145.5 213.8h0M126.7 211.2h0M126.4 237.1h0M138.8 230.6h0M138.2 232.1h0M123.1 210.7h0M128.5 221.1h0M118.3 235.3h0M140.4 228h0M124.2 231.3h0M125.5 207.7h0M127.6 211.7h0M123.6 212.7h0M133.1 235.7h0M141.4 228h0M135.7 226.2h0M153.9 228.1h0M136.2 211.5h0M116.2 225.4h0M130.7 215.7h0M126.2 221.7h0M141.9 227.4h0M130.3 236.2h0M136.7 212.5h0M118.9 224.9h0M125 236.6h0M135.1 225h0M128.9 237.2h0M132.4 229.9h0M146.4 211.1h0M120 229.1h0M120.3 229.5h0M145.8 230.3h0M135.3 222.1h0M125.4 224.4h0M136.6 228h0M141.2 212.7h0M125.1 225.3h0M141.2 213.2h0M130.7 227.3h0M146.6 228.9h0M109.7 231.1h0M152.7 234.8h0M130.8 222h0M144.5 228.8h0M126.6 234.7h0M138 223.5h0M143.1 217.2h0M135.5 220.1h0M128.6 237.8h0M125.4 228.3h0M125.4 218.8h0M140.8 227.6h0M123.2 226.2h0M139.7 214.8h0M133.3 234.5h0M130.5 234.1h0M125.6 215.6h0M127.3 210.3h0M111.8 232h0M139.6 236.9h0M127.4 213.9h0M144.5 222.2h0M124.9 232.1h0M124.2 237.2h0M131.3 222.7h0M128.7 234.6h0M122.1 211h0M115.5 210.8h0M124.3 216.6h0M125.9 208.1h0M139.9 230.3h0M140.6 235.5h0M122.8 219.7h0M140.7 232h0M122.8 218h0M125.5 236.6h0M128.2 229.2h0M123.9 219.2h0M139.9 209.8h0M149.3 235.7h0M122.6 225.8h0M137.2 209.4h0M132.7 237h0M137.9 225.7h0M126.6 216.2h0M145 225h0M139.3 212.7h0M138.5 227.3h0M153.6 228.6h0M125.5 237.6h0M131.6 224.6h0M139.7 208.2h0M142.1 210.6h0M133.9 238.1h0M140.3 237.5h0M148.8 236.5h0M129.6 212.4h0M130.1 228.5h0M133.2 231.1h0M111.2 215.8h0M139 229.3h0M138.6 228h0M150.6 217.6h0M120.5 211.3h0M136.3 233.9h0M137.4 233.2h0M140.2 233.3h0M122 209.5h0M104.2 219.9h0M136 213.8h0M135.7 233.6h0M136.4 212.3h0M126 230.5h0M124.5 220.5h0M131.9 232.8h0M123.5 223.9h0M123.6 216h0M135.8 233.9h0M138.5 208.8h0M122.5 212.8h0M116.2 217.7h0M123 216h0M139.9 230.9h0M129.6 236.1h0M139.9 229.7h0M139.4 235.1h0M144.5 229.4h0M128.4 215.6h0M134.2 234.1h0M142.2 236.5h0M127.7 214.2h0M123.5 209.9h0M143.8 227.1h0M148.4 232.7h0M124.3 211.6h0M138.7 236.9h0M137.6 229h0M135.9 214.3h0M128.2 216.8h0M124.5 215.8h0M121.2 224.9h0M142.1 217.7h0M132.6 230.3h0M138.7 212.2h0M116.7 214.9h0M141.7 209.6h0M141.8 215.6h0M136.4 216.9h0M154.3 231.3h0M135.6 222.1h0M134.7 236.5h0M123.8 210.4h0M126.1 214.5h0M137.8 223.2h0M136.7 213.3h0M143.2 212.1h0M126.8 228.7h0M138.1 218.7h0M123.3 235.1h0M131 237.1h0M126.1 215.4h0M109.9 230.1h0M140.7 227.3h0M123.6 224.7h0M124.1 209.5h0M135.9 215.2h0M121.4 222.8h0M123.5 214.2h0M106.4 228.3h0M132.5 236.3h0M139.2 231.7h0M127.7 221.3h0M143.7 229.4h0M144.8 208h0M139.5 222.7h0M128.9 222.1h0M139.7 216.4h0M139.9 223.8h0M134.1 234h0M144.1 233.2h0M137.3 225.8h0M120.5 231.8h0M130.1 233.1h0M134.9 228.4h0M121.2 214.4h0M119.7 212.2h0M133.5 231.5h0M137.6 233.3h0M121.7 237.4h0M138.1 237.9h0M122.8 228.4h0M120 233.5h0M141.4 224.2h0M134.1 235.1h0M115.6 220h0M117 222.5h0M136.3 210.6h0M123.8 214.1h0M123.4 235.4h0M119 222.8h0M129.4 228.4h0M157.1 233.6h0M116.8 222.7h0M146.1 208.4h0M123.1 234.8h0M119.3 238h0M141.1 233.3h0M129.4 226.5h0M129.4 231.5h0M142.8 218h0M152.4 230h0M136.8 212.3h0M121 235.2h0M121 234.5h0M129.3 208.6h0M142.9 236.6h0M136.9 216h0M135.2 236.3h0M143.8 234.4h0M111.9 219.5h0M140.6 213.6h0M132.3 220.6h0M130.1 207.7h0M137.1 208h0M129.2 234.6h0M121.6 225.4h0M112.9 224.3h0M135.8 233.7h0M120.7 219.2h0M129.8 212.1h0M116.9 216.5h0M130.4 214.8h0M137.3 231.6h0M128 222.2h0M136.6 233.9h0M124.9 215.7h0M126.7 210h0M134.8 224.4h0M131.7 223.8h0M137.6 216.5h0M136.2 211.3h0M143 236.1h0M147.2 216h0M139 211.2h0M142.6 233.1h0M136.6 230.6h0M122.4 225.3h0M141.1 221.3h0M141.5 225.6h0M122.1 222h0M130.8 227.8h0M117.7 226.8h0M136.3 230.1h0M146.6 219.4h0M136.4 209.7h0M125.5 208.1h0M143.7 228h0M138.6 237.2h0M135.5 220h0M140.5 209.2h0M129.1 209.2h0M143 218.3h0M112.1 226.7h0M138.6 236.3h0M124.6 225.5h0M137 219.3h0M124.9 217.1h0M117.7 219.1h0M138.2 214.9h0M118.7 235.6h0M109.7 222.2h0M129.9 225.8h0M145.4 224.3h0M149.8 225h0M147 221h0M112.7 233.7h0M132.2 237.9h0M122.8 226.3h0M135.2 221.5h0M114 225.8h0M139 223.9h0M134.9 227.4h0M144.1 214h0M143.6 214.1h0M133.7 234.6h0M117.5 220.3h0M138.6 223.6h0M125.6 237h0M133.2 236.2h0M143.3 214h0M115.2 217.1h0M129.7 234.4h0M122.8 221.5h0M135.8 211.3h0M137.4 223.6h0M136.3 221.1h0M137.1 218.6h0M124.4 223.4h0M126.1 211.8h0M131.6 231.7h0M134.6 232.6h0M131.4 235.9h0M123.2 226.1h0M129 229.7h0M134.7 224.3h0M120.7 234h0M123.2 224.9h0M137.7 224.4h0M155.5 228h0M136 214.3h0M121.6 224.2h0M147.4 221.3h0M138.3 209.2h0M122.9 211.8h0M136.1 219.6h0M137.1 238h0M142.5 219.7h0M123.2 230.3h0M143.4 232h0M128.1 220.9h0M135.6 233.9h0M121.1 216.6h0M143.8 215.3h0M135 235h0M123.5 234.6h0M137.5 210.2h0M140.5 237.5h0M141.5 214.5h0M140.7 216.3h0M115.5 217.6h0M120.9 237.5h0M129.9 209.6h0M134.4 233.1h0M121.1 212h0M143 224.3h0M137.3 229.7h0M113.8 232.5h0M119.2 237.9h0M144.5 232.3h0M113.1 233.7h0M155.1 235h0M147.4 219h0M121.2 208.4h0M136.7 223.9h0M141.9 213.8h0M120.1 208.6h0M111.8 234h0M147 226.7h0M129.2 226.8h0M114.5 230.8h0M142.3 217.2h0M142.5 222.6h0M136.4 234.2h0M129.3 209.5h0M121.5 235.4h0M113.6 235.3h0M139.4 216h0M136.9 226.6h0M118 219.4h0M121.6 237.6h0M122.7 236.4h0M126.6 230.9h0M130.2 229.6h0M145.6 223.4h0M131.9 229.9h0M142.8 232.4h0M130.3 209.3h0M141.9 235.1h0M129.5 224.2h0M141.1 232.6h0M124.1 214.1h0M115.4 220.2h0M141.8 220.4h0M118.8 226.3h0M120.2 225.6h0M144.4 207.8h0M127.8 226.7h0M131.2 219.2h0M134.5 236.2h0M137 223.5h0M141.2 216h0M128.5 225.3h0M122.5 216.9h0M141.2 219h0M130.3 235.7h0M126.2 225h0M138.6 237.5h0M139.2 236.1h0M135.6 218.7h0M109.8 230h0M154.2 234.6h0M130.5 225.3h0M118.4 217.9h0M137.4 231h0M145.4 233.5h0M143.8 232.4h0M136.1 237.7h0M137 237.3h0M114.2 224.8h0M103.1 228h0M144.2 226.6h0M136.3 210.6h0M136 214.3h0M117.8 213.6h0M146.1 210h0M125.2 218.9h0M140 226.3h0M116.3 235.9h0M112.2 216.6h0M133.9 235.6h0M137 230.3h0M119.9 231h0M151.7 209.7h0M125.8 212.2h0M146 231.8h0M143.2 228.2h0M117.6 225h0M137 237.2h0M122.5 237.8h0M135.4 222.1h0M130.1 224.3h0M141.7 220.2h0M124.6 211.8h0M138 234.9h0M139.6 211.2h0M143.8 233h0M124.1 210.3h0M139.7 234.4h0M139.9 227.5h0M142.4 216.6h0M107.5 229.7h0M111.6 233.1h0M111.8 229.5h0M126.3 229.4h0M120.3 211.5h0M127.3 231.9h0M128.4 218.4h0M141.7 213.3h0M141.9 237.9h0M126.5 231.2h0M128.7 210.9h0M115 221.3h0M125.3 234.1h0M129.1 224.5h0M126.3 227.4h0M148.7 213.3h0M109.8 214.1h0M125.5 229.7h0M129.5 208.1h0M140.9 237.2h0M136.2 210.7h0M113.4 234.2h0M122 222.6h0M136.9 226.9h0M131.1 213.7h0M142.8 224.9h0M137.7 231h0M128.7 217.4h0M127.9 228h0M139.1 226.7h0M124.6 213.9h0M128.7 228.8h0M143 223.4h0M126.8 214.2h0M137 213.6h0M108.5 217.2h0M123.8 217.5h0M131.8 236h0M137.4 222.9h0M129.4 221.2h0M132.4 234.9h0M123.5 211.4h0M129.9 218.6h0M140 235.8h0M121.7 235.4h0M117 235.4h0M142.3 234.8h0M148.9 221.4h0M146.8 236h0M125 227.2h0M129 230.8h0M127.1 219.4h0M137.8 217.4h0M139.9 219.9h0M124.5 221.3h0M138.4 222.5h0M136.5 215.6h0M146.3 224.3h0M130.4 232.9h0M135.6 235.7h0M115.5 220.9h0M127.1 214.3h0M138.6 217.2h0M120.1 217.6h0M123.9 215.2h0M131.6 236.4h0M127.7 212.7h0M122 237.5h0M126.1 222.4h0M137.7 227h0M147 235.1h0M141.2 222h0M135.4 235.5h0M146.9 237.1h0M118.1 217.5h0M142.5 211.3h0M132.8 226.2h0M129.9 214.2h0M125.5 209.2h0M130.7 216.8h0M137 226.8h0M125.3 209.5h0M122.6 232h0M136.7 232.2h0M146.4 218.8h0M142.7 213.6h0M143.7 231.6h0M125.5 230h0M127.1 237.6h0M128.2 236h0M151.3 228.6h0M127.5 236h0M145.1 237.7h0M140.2 215.5h0M124 211.6h0M137.2 235h0M146.1 229.2h0M140 237.8h0M135.5 226.8h0M144.2 235.4h0M119.1 222.1h0M127 218.6h0M135.8 217.3h0M140.4 235.8h0M143.8 214.5h0M126 213.2h0M133.4 231.3h0M143.2 208.5h0M144.3 229.3h0M126.3 231.7h0M123 234.4h0M127.8 208.9h0M137 208.1h0M111.6 214.6h0M146.9 230.4h0M130.5 233.7h0M142.1 213.9h0M145.6 213.8h0M127.8 218.1h0M116.7 237.3h0M114.6 234.8h0M148.1 222h0M125.5 237.3h0M130.5 213.9h0M120.5 208.3h0M126.6 208.3h0M136.1 213.5h0M138.2 237.4h0M132.3 235.6h0M122.9 208.3h0M129.6 223h0M129.5 235.6h0M145.7 238h0M126.2 235.5h0M121.1 211.8h0M136.7 230.5h0M123.5 216.3h0M143.8 209.7h0M145.6 228.8h0M127.6 210h0M127.6 211.7h0M139.4 235.4h0M115.4 234.2h0M141.9 211h0M144.2 213.2h0M135.8 213.6h0M135.6 218.9h0M125.7 209h0M123.9 226.8h0M137 213.8h0M136.4 215.3h0M126.5 226.3h0M142.9 230.7h0M128.8 235.5h0M141.4 209.2h0M123.1 213.8h0M136.5 216.4h0M139.1 231.8h0M141.9 213.8h0M129.7 233.4h0M135.5 220h0M134 234.3h0M143.6 225.8h0M123.9 220.8h0M129.5 217.2h0M117.4 210.4h0M146.3 209h0M135.5 215.8h0M129.2 237.2h0M131.2 227.8h0M140.2 216.9h0M128.4 212.1h0M135.7 237.7h0M118.5 227.5h0M121.2 209.8h0M143 210.1h0M136.2 211.6h0M115.9 233.8h0M134.8 229.8h0M140 210.1h0M145.8 210.4h0M124.8 208.8h0M135.2 217.8h0M124.5 217.5h0M115.4 231h0M123 217.5h0M131.9 231.5h0M126.6 213h0M129.3 221h0M127.4 230.9h0M134.8 234.7h0M156.2 232.2h0M138.5 234.6h0M141.7 210.5h0M152.1 227.3h0M119.3 222.2h0M119.9 234.7h0M124.5 211.2h0M121.1 207.8h0M143.2 223.9h0M121.8 209.3h0M125.6 208.6h0M141.8 218.6h0M123.8 234.8h0M135.8 219.1h0M141.2 233.8h0M125.7 211.2h0M143.2 211.3h0M139.6 233.8h0M137.2 228.8h0M130.2 218.4h0M122.9 232.2h0M149.2 213h0M126.8 224.1h0M129.3 219.6h0M131 225.7h0M129.8 214.2h0M138.6 214.8h0M124.9 214.3h0M132.1 228.5h0M142.5 228.7h0M121.9 232.1h0M130.5 211.1h0M119.6 235.5h0M131 228.8h0M135.4 237.5h0M124.4 219.3h0M148.2 209h0M119.1 223.2h0M145.5 237.4h0M130.9 228.9h0M136.5 219.1h0M122.6 234.3h0M138.9 223.7h0M137.2 229.3h0M115.2 236.1h0M129.8 215h0M130.3 230.7h0M141.5 233.8h0M121 219.2h0M140.2 226.2h0M136.3 229.7h0M149 235.4h0M121 208h0M142.1 221.3h0M106.6 223.5h0M120.2 221.5h0M129.1 225.8h0M121.8 214.8h0M139.9 212.2h0M127.4 230.4h0M136.3 210h0M132 230.6h0M139.6 219.9h0M125.3 209.5h0M142.3 217.9h0M130.7 237h0M137.4 220.4h0M138.9 212.6h0M138.3 237h0M124.8 233.3h0M126.9 227.1h0M126.6 227.8h0M136.2 208.2h0M135 236.3h0M110.2 231.2h0M113.7 219.5h0M140.9 235.6h0M121.7 220.5h0M137.5 220.1h0M124.7 222.7h0M136.9 226.8h0M135.8 225.3h0M122.1 228.3h0M144.3 227.8h0M144.5 229h0M138.4 230.3h0M113.9 232.6h0M125.2 222.3h0M137.8 220.9h0M141.9 222.9h0M124.4 224.1h0M110.7 213.6h0M123 210.6h0M139.9 236.8h0M124.5 227.3h0M146.7 225.3h0M129.4 235.9h0M148.9 229.2h0M121.3 226.9h0M132.4 237.3h0M140.4 226.4h0M123.4 235.9h0M166.3 222.6h0M145.4 233.3h0M128.4 235.9h0M138.1 236.8h0M128.9 223.9h0M130.6 238h0M145.7 227.5h0M134.9 236.9h0M148 218.2h0M131 219.5h0M142.1 234.5h0M139.1 228.5h0M143.7 217h0M129.5 235.2h0M137.7 214h0M137.3 219.1h0M120 209.6h0M140.9 221.1h0M136.2 237.2h0M124.8 227.2h0M139.7 218.2h0M142.1 225.3h0M128.3 228.3h0M137.9 231.9h0M145.6 218.2h0M136.6 234.5h0M135.9 215.7h0M130.9 231h0M123.5 221.8h0M142.1 210.3h0M130.5 221.3h0M123.8 212.1h0M101.7 230.1h0M131.8 224h0M125.8 219.3h0M130.5 234.3h0M131.4 218h0M129.5 219.2h0M137.1 225.6h0M141.8 214.7h0M128.1 238h0M136.6 210.1h0M127 236.1h0M140.3 215.5h0M130.4 234.5h0M130 237.9h0M136.2 221.2h0M132.5 222.8h0M126.3 216.4h0M136 212.4h0M139.7 225.4h0M131.3 223.5h0M126.7 221.5h0M144.5 229.4h0M136 214.4h0M124.3 215.7h0M123.3 234.4h0M129.6 218.1h0M144.4 232.9h0M145 230.9h0M139.7 221.9h0M120.9 226.2h0M128.4 221.8h0M146 232.3h0M140.6 215.9h0M135.4 235.6h0M141.6 238h0M130.2 233.1h0M136.8 224.2h0M138 212.7h0M124.8 229.3h0M143.7 236.2h0M128 208h0M139.5 218.4h0M123.1 230.9h0M147.7 232.5h0M156 231.7h0M127.4 235.6h0M139.8 217.2h0M123.4 235.5h0M149.8 218.3h0M120 227.4h0M129 220.2h0M127.7 228.4h0M151 234.3h0M122 238.1h0M137.1 213.3h0M142.7 213.6h0M136.2 235.2h0M128.3 231.2h0M136.3 225.7h0M127.1 209.8h0M139.6 228.4h0M138.7 222.5h0M135.5 238h0M142.9 236.9h0M127.9 216.6h0M129.4 223.9h0M135.6 236.7h0M138.5 217.1h0M128.4 233.2h0M138.6 211h0M138.9 208h0M136.4 209.3h0M131.4 233.8h0M127.6 221.4h0M144.1 211.8h0M125.3 220.3h0M150 235.8h0M129.4 231.6h0M119.1 218.8h0M139.5 228.1h0M134.4 234.3h0M127.8 222.2h0M129.8 212.6h0M129.5 218.5h0M139.6 231.5h0M120.9 233.5h0M122.2 235.7h0M144.9 231.2h0M138.2 221.4h0M129.2 210.7h0M147.8 231.3h0M127.1 216.3h0M149.4 209.3h0M125.4 228.5h0M136.3 215.3h0M136.1 207.8h0M147.8 232.1h0M139.1 222.8h0M138.1 211.9h0M139.7 234.9h0M143.2 236.5h0M142.7 219.9h0M126.6 221.3h0M127.1 210.8h0M135.9 219.2h0M119.1 210.8h0M116.9 223.6h0M136.3 220.3h0M137.3 213.7h0M128.8 227.1h0M124.9 227.3h0M123.9 217.9h0M134.8 236.9h0M149.1 225.3h0M129 234.7h0M137 225.4h0M131.7 237.9h0M129.9 237.1h0M140.4 223.2h0M117.1 230.1h0M126.7 217.6h0M136.3 222.4h0M135.2 224.8h0M118.7 212.5h0M151.1 235.8h0M151.8 209.7h0M126.3 236.3h0M142.7 237.1h0M137.8 208.9h0M133.8 234.3h0M119.8 225.5h0M139.8 228.5h0M136.4 231.3h0M123.5 223.9h0M141.6 211.7h0M126.4 226.7h0M143.2 220.1h0M136.4 209.1h0M128.1 225.9h0M153.3 228.2h0M146.4 224.8h0M139.7 214.6h0M124 218.2h0M127.8 208.9h0M138.6 229.3h0M126.8 209.8h0M126.2 228h0M137.7 237.8h0M136.3 219.7h0M121.3 209.7h0M141.3 232.2h0M136.3 211.1h0M150.1 213h0M132.2 229.9h0M130.2 215h0M125.6 229.7h0M139.1 220.2h0M129 224.3h0M134 233.1h0M143.3 226.5h0M146.5 227.4h0M135.7 236.4h0M128.9 211.8h0M131.3 230.6h0M122.6 229.8h0M144.3 209.2h0M139.3 227.5h0M120.1 227.6h0M121.8 213.1h0M126.3 229.1h0M145.9 209.2h0M119.3 225.1h0M131.5 228.1h0M134.6 229.9h0M122.1 230.1h0M128.4 208.4h0M147.2 224.7h0M145.2 236.7h0M117.7 236.3h0M137.3 215.2h0M130.7 211.1h0M142.4 209h0M120 236.6h0M133.7 231.8h0M139.5 213.5h0M122.4 213.7h0M130.6 213.6h0M132.2 234h0M137.3 215.7h0M126.4 216.5h0M153.7 210.7h0M139.4 226h0M122.5 219.5h0M124.7 233.2h0M122.4 216.3h0M133.9 237.8h0M136.1 212.5h0M139.9 218.7h0M136.1 230h0M126 233.3h0M128 225.2h0M138.7 216.4h0M139.9 210.1h0M121.3 208.8h0M127.4 223h0M141.1 230.5h0M126.4 235.3h0M135.8 216.9h0M124.3 221.3h0M144.4 232.8h0M129.2 223.2h0M128 227.6h0M137.8 214.7h0M131.5 236.3h0M135.9 233.5h0M145.8 233.8h0M132.7 224.9h0M134.3 229.6h0M147.2 221.4h0M131.2 224.8h0M131.1 229.2h0M141.9 218.3h0M121.5 222h0M145.9 235.3h0M131.5 228.1h0M126.5 220.9h0M128.3 220.4h0M125.9 225.6h0M140.6 233.7h0M126.7 213.5h0M113.6 222.7h0M126.2 219.8h0M139.5 212.2h0M130.5 237.2h0M126.3 235.4h0M122.6 216.8h0M144.9 235.9h0M126.8 238h0M138.7 208.3h0M111.5 234.6h0M128.6 212.4h0M124.2 208.2h0M129.6 227.7h0M135.5 220.4h0M128.3 235.6h0M137.2 207.7h0M142.6 211.2h0M133.1 230.7h0M120.5 236.5h0M141.7 215.3h0M125.5 207.6h0M132.6 234.7h0M142.2 211.2h0M136.2 212.4h0M131.2 233h0M130.6 233.7h0M120.3 233.3h0M128.4 231h0M120.6 226.8h0M137.2 233.1h0M127.9 229.8h0M131.7 222h0M142.7 221.2h0M140.2 207.6h0M136 234.6h0M140.5 211.1h0M140.1 232.1h0M132.8 233.1h0M139.1 211.5h0M145.8 222h0M129.2 217.9h0M136.2 211.1h0M118.5 215.6h0M124.5 216h0M134.8 229.3h0M128.5 229.9h0M135.6 224.3h0M129.7 227.8h0M131 233.5h0M130.9 216.8h0M126.3 215.3h0M139.3 210.6h0M125.5 219.4h0M132.6 223.9h0M145.3 228.7h0M134.5 227.4h0M126.3 213.7h0M127.1 216.7h0M138.9 235.9h0M139.5 221.4h0M125.6 211.3h0M126.2 212.9h0M152.3 226.9h0M124.5 213.6h0M145.9 213h0M135.4 220.5h0M126.1 211.8h0M130.4 234.7h0M128.1 209.8h0M128.2 212.8h0M136.8 227.3h0M117.7 214.5h0M143.1 224.2h0M137.7 214.8h0M124.7 229.7h0M118.3 219.3h0M150.8 235.5h0M119.2 208.2h0M136.4 217.4h0M138.5 210.8h0M121.4 219.2h0M143.9 218.5h0M119.2 211h0M117.9 207.7h0M120.3 228.3h0M124.3 230.5h0M145.2 216.1h0M120.8 224.9h0M147.8 207.6h0M135.1 222.3h0M143.4 235.7h0M138.4 237.2h0M125.1 216.1h0M129.5 229.1h0M137.5 231.1h0M137.3 218.6h0M153.1 230.4h0M123.5 228.2h0M119.4 228.1h0M121.3 215.1h0M120.3 217.2h0M129.3 210.3h0M136.1 231h0M148.3 207.7h0M135.3 223h0M126.3 228.6h0M136.4 209.6h0M153.5 231.9h0M126.8 208.9h0M123.3 237.7h0M137.8 234.4h0M140 223h0M140.2 231.3h0M139 216.9h0M142.4 221.4h0M151.4 230.7h0M150.6 225.3h0M144.1 237.8h0M137.2 210.8h0M124.2 237.1h0M126.4 229.9h0M120.5 210.8h0M126.8 223.8h0M134.9 222.9h0M140.9 219.5h0M121.4 217.8h0M146.5 229.8h0M130.9 235.5h0M115.4 220.2h0M136.4 225.3h0M123.5 220.8h0M124.2 209.1h0M131.1 222.1h0M121.3 233.4h0M133.5 229.3h0M136.2 211.8h0M144.1 231.6h0M123.2 230.3h0M121.7 209.5h0M157.1 223h0M126.1 218.3h0M144.2 209.9h0M129.8 212.5h0M128.8 237.7h0M153.1 223.2h0M141 218.4h0M128.3 235h0M130.3 233.9h0M139.9 215.3h0M130.1 216.6h0M138.4 208.2h0M129.5 237h0M131.4 237.1h0M136.5 207.9h0M130 217.7h0M118.6 236h0M135.6 219.1h0M123.2 219.6h0M128.2 218.3h0M127.5 213.5h0M122.7 216.8h0M150.6 222.2h0M117.9 228.2h0M145.1 233.3h0M121.6 208.1h0M127.6 226h0M141.8 231.3h0M135.6 219.5h0M135.6 218.7h0M150.4 221h0M139.3 211.8h0M144.6 220.9h0M135.2 228h0M133.7 236.1h0M133.4 235.4h0M148.5 224.5h0M100.7 226.2h0M137.1 234.8h0M138.2 213.4h0M116.5 225.5h0M135.9 216.9h0M129.1 212.7h0M122.6 237h0M135.9 209.1h0M121.7 222.6h0M147.5 229.6h0M120.2 224.8h0M120.6 232.6h0M128.1 229.5h0M131.5 220.8h0M139.4 233.5h0M136.1 225.9h0M133.6 230.9h0M110.3 214.5h0M128.1 232.2h0M130.5 216.8h0M143 237.9h0M122.4 226.3h0M136.9 225.2h0M128.4 227.2h0M124.6 223.7h0M130.7 212.9h0M129.9 223.6h0M136 213.9h0M130.6 216.8h0M141.9 233.4h0M141 230.5h0M121.7 234.4h0M146.1 215.2h0M147.4 236h0M140.8 212.5h0M135.3 222.6h0M151.6 225.7h0M128.6 222.3h0M135.8 223.1h0M123.5 220.5h0M135.4 223h0M144.9 230.3h0M127.8 211.1h0M140.8 220.6h0M123.9 207.7h0M138.5 235.1h0M146.7 209.6h0M129.8 220.3h0M130.9 218.5h0M142.7 209.6h0M144.1 236.8h0M132.6 233.6h0M135.9 222.1h0M133.7 230.5h0M143.5 237.8h0M139.8 230.7h0M136.5 218.1h0M125.6 218.4h0M117.1 237.2h0M114.2 228.7h0M137.7 212.5h0M160.2 217.6h0M139.3 220.5h0M141.3 208.5h0M132.2 229.6h0M137.5 236.3h0M122.9 220.5h0M135.6 219.8h0M121.6 222.8h0M139 209.2h0M121.3 218.5h0M144.1 236.7h0M135.6 219.6h0M140.7 236.7h0M137.7 222.1h0M119.6 224.2h0M119.7 238h0M144.2 233.4h0M137.7 226.9h0M141.7 229.9h0M155.4 232.3h0M140.4 220.6h0M146.8 209.5h0M132 237.3h0M126.6 215.5h0M135.7 228.9h0M134.9 231.3h0M137.2 214.7h0M140.8 209.9h0M141.2 208.2h0M144.4 209.9h0M129.5 235.3h0M126.7 237.9h0M138.4 216.2h0M141.3 215.7h0M137 234.7h0M136.8 222h0M150.6 219.4h0M138.8 228h0M122.9 234.1h0M128.3 229.3h0M150.3 230.2h0M143 238h0M119.4 231.1h0M124.5 231.9h0M137.5 218.6h0M129.2 219.9h0M138.4 218.6h0M122.5 230.6h0M132.4 221.3h0M136.6 235.4h0M139.6 215.7h0M136.4 209.7h0M135.9 215.6h0M131.1 216.8h0M138.9 222h0M140 215.7h0M126.3 225.5h0M125.7 231.7h0M135.4 215.2h0M122.6 223.8h0M129.2 210.2h0M155 220.4h0M138.4 223.2h0M128.3 237.4h0M128 232.7h0M126.1 217.2h0M122.6 226.2h0M128.9 210.1h0M140.3 220.6h0M142.7 231.5h0M141.3 232h0M113.2 229.3h0M135.7 232.8h0M125.2 223.3h0M134.6 236.3h0M131.2 221.8h0M129.1 226.5h0M121.5 211.8h0M130.1 211.4h0M132.4 230.5h0M137.8 233.5h0M132.8 226.8h0M123.8 224.1h0M146.3 217.5h0M146.2 208.6h0M128.5 211.2h0M119.8 227.5h0M154.4 221.6h0M148.1 221.7h0M140.1 211.8h0M116.4 235.1h0M147.7 213.9h0M144.1 231.5h0M126.4 235.7h0M113.4 208.2h0M147.4 229h0M126.4 216.2h0M134.7 228.5h0M140.1 230.7h0M143.9 222.9h0M130.9 232.4h0M140 232h0M136.7 237.1h0M130.4 217.3h0M138.8 210.3h0M131.1 238h0M131 230.8h0M130 212.1h0M118.5 221.1h0M126.4 235.2h0M121.7 232.2h0M140.2 233.1h0M116.6 236.8h0M153.2 233.2h0M134.8 235.2h0M131.8 224.2h0M121 215.5h0M127.5 223.7h0M147.8 219.3h0M136.2 211.6h0M118.4 215.1h0M142 235.9h0M150.8 236.4h0M127.3 210h0M132.2 231.6h0M146.2 212.3h0M107.6 230.4h0M143.7 211.8h0M126.1 226.2h0M137.5 237.6h0M143.4 207.9h0M141.7 235.5h0M138.9 237.7h0M144.5 214.4h0M126.3 229.7h0M135.1 237.5h0M125 237.9h0M136.7 227.2h0M127.9 235.8h0M123.5 228.9h0M123.7 218.3h0M141.5 209.3h0M115.1 229.8h0M119.9 221.9h0M115.7 217.6h0M121.1 214.7h0M114.5 223.9h0M120.1 214.8h0M120.4 225.5h0M146 216.4h0M131.6 220h0M123.8 225.4h0M115.6 212h0M124.3 230.1h0M145.6 228.7h0M127.5 224.9h0M141.1 236.9h0M135.8 221.4h0M132.5 237.7h0M128 212.2h0M130 229h0M127.3 211.4h0M124.5 234.7h0M130.9 217.3h0M141.8 221.6h0M137.7 222.2h0M118.5 210.8h0M138.2 236.2h0M136.6 210.4h0M126.2 231h0M140.8 231.8h0M138.4 218.3h0M150.3 226.5h0M109.5 231.9h0M139.5 222.5h0M121.9 211.9h0M133.5 237.9h0M137.5 227.4h0M147.4 233.9h0M135.7 217.5h0M124.1 214.9h0M140.6 234.9h0M137.6 212.9h0M143.8 230.1h0M108.7 215.3h0M132.7 235.2h0M103.5 222h0M135.4 219.5h0M131.1 224.5h0M123.9 218.2h0M136.9 215.3h0M136.3 210.1h0M142.4 219.5h0M147 233.9h0M135.9 215.5h0M129.8 226.7h0M124.5 217.9h0M143.8 218.2h0M129.8 211.5h0M129.4 221.5h0M138.8 232.5h0M126.2 227.2h0M129.3 220.4h0M131.4 222.1h0M142.4 233.5h0M122.4 213.6h0M121 221.8h0M125.9 221.9h0M125.2 233.1h0M124.3 224.6h0M139.9 231.3h0M127.1 229.4h0M150.4 228.5h0M141.7 220.9h0M132.2 228.3h0M129.5 211h0M139.2 216.1h0M151.4 208.2h0M137.2 220.7h0M122.9 226.5h0M132.4 227.7h0M169.2 229h0M123.4 217.7h0M129.3 230h0M133.1 237.7h0M126.4 210.6h0M146.3 232.3h0M125.7 236.1h0M130.2 216.5h0M138 215.4h0M138.4 215.4h0M129.4 220.6h0M134.2 237.6h0M131 223.2h0M105.5 208.7h0M140 225.7h0M134.9 230.5h0M130.3 222.5h0M141.4 220.1h0M114.4 229.5h0M144 215.3h0M126.2 213h0M122.3 237.7h0M121.7 235.9h0M136.7 224.3h0M125.8 236.9h0M140.2 233.4h0M119.8 212h0M143 207.6h0M129.1 213h0M151.7 232.8h0M137.3 214.3h0M127.8 221.7h0M128.5 207.7h0M113.3 229.6h0M128.8 211h0M119 237.8h0M125.8 232.7h0M150.3 210.8h0M122.1 224h0M138.5 233.1h0M138.1 217.8h0M129.4 229.9h0M130.6 221.5h0M125.7 227h0M152.1 234.7h0M138.7 236.8h0M142 210.6h0M117.1 212.1h0M130.4 225.6h0M121.3 232.2h0M144.3 235.1h0M128.3 209h0M124.6 223h0M133.7 238h0M135.5 220.3h0M130.3 215.9h0M148.7 230.1h0M141.5 208.3h0M134.9 236.9h0M139.2 235.6h0M128.4 221h0M118.7 225.5h0M132 228.4h0M111.1 217.2h0M141.1 210h0M127.4 212.4h0M115.2 216.8h0M134.7 230.7h0M159.7 226.8h0M125.5 233.9h0M129.6 211.9h0M137.8 218.6h0M121 221.9h0M149.3 236.1h0M127.9 212.8h0M136.3 234.8h0M141.3 224h0M129.7 209.8h0M140.2 228.7h0M117.3 225.6h0M120.2 209.5h0M135 230.5h0M125.7 225.8h0M126.3 228h0M132.3 227.2h0M139.2 226.5h0M144 207.9h0M149.6 214.2h0M148.7 237h0M142.3 220.8h0M124 237.9h0M123.7 236.4h0M121.1 221.7h0M128.3 220.4h0M135.9 234.1h0M153.3 226h0M125.9 228.6h0M139.8 217.7h0M127.7 226.8h0M132.4 227.9h0M117.5 213.6h0M155.3 217.9h0M136.2 235.6h0M135.3 223.1h0M134.3 232.6h0M118.9 231.3h0M142.1 220.7h0M137.8 212.2h0M143 228.7h0M149.3 223.4h0M142.7 236.5h0M128.1 215.3h0M130.9 234h0M119.5 227.5h0M158.5 227.9h0M120.2 223.7h0M146.7 230.4h0M124.9 225.3h0M137.1 226.2h0M135.5 220.7h0M124.2 218.2h0M143.2 223.3h0M141.3 216.4h0M136.4 211.1h0M143 225.7h0M153.7 235.1h0M123 215.6h0M128.7 225.6h0M121.2 215.1h0M125.9 212.6h0M131 236.5h0M130.8 227.5h0M135.5 216.5h0M150.1 225.4h0M142.8 225.9h0M129.5 225h0M139.3 208h0M128 232.2h0M144.3 234.3h0M128.5 215.6h0M130.6 213.1h0M118.7 237.2h0M127.9 220.7h0M150.5 212.4h0M110.5 216.4h0M132.5 234.7h0M126.7 234.2h0M127.5 226h0M145.9 228.2h0M125.2 234.1h0M117.9 223.7h0M130.8 233.6h0M131.6 236.5h0M139.6 224.6h0M144.9 209.7h0M140.6 234.6h0M141.8 233.3h0M125.9 224h0M124.2 209.4h0M136 225.8h0M138.5 233h0M141 221.9h0M138.2 229.8h0M126.9 235.5h0M125.4 220.2h0M144.8 226.4h0M140.9 209.1h0M114 227h0M138.3 234.6h0M137.3 229.7h0M124.4 225h0M119.9 230.7h0M141.3 226.7h0M137.6 217.6h0M120 215.6h0M131.1 221.4h0M144.6 224.9h0M128.2 235.6h0M148.3 218.9h0M118.6 232.4h0M144.8 216.5h0M128.9 209.1h0M123.4 212.6h0M129.4 231.2h0M141.5 225.5h0M119.8 226.1h0M143.2 215.5h0M139.9 226.9h0M108.8 226.4h0M136.2 221.5h0M144.5 222.1h0M125.1 213h0M110.6 209.9h0M140.6 212.5h0M142.1 207.9h0M147.4 221.9h0M122.8 227h0M122.2 217.6h0M126.3 212.1h0M144.6 217.4h0M122.9 221.8h0M133.4 234.3h0M117.1 217h0M145.6 210.7h0M131.9 225.6h0M136.2 212.1h0M164.4 218.5h0M143.6 231.4h0M138.8 208.2h0M135.8 216.4h0M129.1 208.3h0M118.1 220.8h0M141.4 216.4h0M130.3 231.2h0M130.1 223.4h0M116.7 227.7h0M144.7 218.3h0M136.4 209.6h0M135.2 222.5h0M127.5 238h0M138.9 230h0M141.9 223.1h0M139 214.7h0M122.1 221.6h0M114.2 232h0M130.7 220.8h0M138.2 211.8h0M108.4 221.8h0M123.5 212.9h0M126.9 223.2h0M133.2 236.8h0M142.7 208.5h0M128.1 237.2h0M142.2 231.1h0M128.6 219.5h0M141.9 214h0M125.9 232.9h0M130.7 212h0M141.3 217.7h0M132.7 236.2h0M108.6 224h0M128.1 211.4h0M137.5 226h0M136.2 212.3h0M121 233.1h0M126.5 212h0M139.8 217.9h0M142.5 237.6h0M137.7 235.8h0M125.1 216.6h0M123.2 213.1h0M154.3 226.6h0M120.8 231.4h0M143.1 208.5h0M136.1 212.9h0M138.5 207.7h0M136.6 234h0M129.3 224h0M139.7 236h0M123 218.5h0M128.5 227.3h0M134.7 236.3h0M104.2 229.7h0M144.5 210.7h0M129.2 211.8h0M128.2 209.1h0M122.2 211.2h0M129.6 223.2h0M118.1 223.8h0M121.6 221.5h0M124.7 215.6h0M132.1 233.3h0M130.9 226h0M124.8 227.5h0M126.2 214.8h0M138.5 237.2h0M124.3 219.8h0M148.5 235.9h0M138.7 223h0M125.1 232.7h0M119.9 208.3h0M133.2 235.1h0M142.8 229.8h0M133.4 233h0M133.1 231.6h0M117.9 218.5h0M140.9 236.7h0M121.1 220.4h0M147.2 223.7h0M132.6 237.2h0M146.1 209.4h0M139.1 224.8h0M110.5 234h0M130.4 223h0M138.4 227.9h0M147.6 235.8h0M129.5 215.2h0M137.7 211.5h0M116.5 217.8h0M134.6 225.7h0M128.9 213.5h0M139.1 237.7h0M131.3 232.8h0M129.2 221.7h0M130.9 233.5h0M138.8 219.2h0M146.4 224.8h0M141.1 213.8h0M142.3 208.2h0M121.5 237h0M119 216.6h0M120.5 236.9h0M121.7 223.2h0M138.1 228.7h0M130.5 225h0M128.6 216.4h0M157.7 233.9h0M128.9 220.1h0M141 211.8h0M136.2 211.4h0M121.5 224h0M116.5 219.5h0M126.2 234.5h0M137 233.1h0M138.2 208.3h0M146.7 237.4h0M138.3 210.7h0M152.1 230.1h0M125.3 223.3h0M125.5 232.3h0M141.5 236.2h0M129.7 212.3h0M143.3 220.1h0M146.9 211.8h0M137.2 220.1h0M128.6 217.2h0M106 231h0M130.2 238h0M136.3 236.2h0M120.4 212.7h0M137.9 237.5h0M135.9 236h0M135.2 235.8h0M143.4 236.8h0M148.9 229.3h0M122.7 221.2h0M129.8 210.5h0M136.6 234.1h0M150.6 236h0M136.4 208.8h0M140.2 234.9h0M135.3 216.5h0M136.4 210h0M136.1 227.1h0M143.3 208.1h0M139 230.1h0M143.3 234.2h0M135.6 212.4h0M129.5 219.3h0M132.4 230.4h0M144.3 237.3h0M134.5 230.5h0M118.4 220.3h0M138.2 222.1h0M121.1 231.2h0M110.6 225.2h0M131.6 229.3h0M151.6 235h0M141.3 219.8h0M139.2 223h0M124.4 212.1h0M122.2 214.3h0M122.1 227.3h0M127.8 215.6h0M124.9 220.4h0M136.3 210.5h0M135.1 232.6h0M123.2 230.4h0M138.1 224.9h0M109 231.7h0M126.2 221.8h0M126.7 227.6h0M124.7 216.5h0M129.1 214.3h0M130 236h0M136.2 207.7h0M137 215h0M116.6 216h0M142 232.1h0M137.2 231.7h0M143.8 211.8h0M148.6 236.8h0M151.6 233.9h0M145.2 221h0M132.7 232.3h0M147.2 223.7h0M135.3 223.4h0M129.1 227.4h0M136 214.5h0M152.4 231.7h0M143.2 216h0M135.3 227h0M136.3 210.9h0M124 234.5h0M142.9 232.5h0M96.1 223.4h0M134.4 233.1h0M129.5 230.3h0M126.7 227.9h0M141.4 215.2h0M129.2 218h0M146.6 215h0M120.7 222.7h0M155 228.5h0M126.9 234.8h0M140 209.2h0M126.9 220.3h0M127 233h0M133.1 230.2h0M140.5 222.1h0M127.4 225.5h0M125.3 237.2h0M127.4 230.2h0M120 222.1h0M120.9 214.1h0M134.8 233.5h0M141.6 232.3h0M141 226.8h0M132 230.7h0M135.7 213.4h0M108.6 221h0M124 232.8h0M127.7 224.6h0M137.2 223.7h0M137.3 231.4h0M130.6 221.2h0M135.9 215.4h0M155.7 230.2h0M123.8 230.4h0M133.5 234.5h0M127.9 229.9h0M125.7 215.1h0M128.5 216.3h0M136.3 210.2h0M124.9 227.8h0M152.9 234h0M130.9 234.2h0M130.3 223.9h0M149.5 235h0M146.9 217.8h0M146.1 230.4h0M144.1 225.1h0M114.2 226.2h0M127.1 228.2h0M128.7 213.1h0M124.5 237.3h0M145.7 211.8h0M143.1 236.1h0M123.4 235.3h0M118.2 233.4h0M118.3 212.4h0M121.1 208.3h0M134.1 234.4h0M138.9 222.9h0M126.4 221.3h0M148.3 233.2h0M129.2 217h0M136.9 225.6h0M120.6 232.1h0M129.4 232.1h0M120 220.3h0M132.9 237.4h0M140.4 214h0M129.3 214.4h0M130.4 222.9h0M145.6 237.6h0M127.5 217.9h0M143.8 228.2h0M136.1 236.7h0M125.8 230.1h0M123.6 227.6h0M134.9 235.3h0M141.2 209.4h0M130.1 226.6h0M120.5 214.1h0M126.8 221.2h0M142.2 228h0M136.3 223.9h0M129.7 224.1h0M131.6 228.1h0M154.1 233.2h0M109.9 212.8h0M120 224.2h0M143.4 224.2h0M139.5 225.9h0M137.2 226.8h0M124.4 210.5h0M141.2 210.2h0M124.6 216.5h0M126.4 237.2h0M123.4 227.9h0M138.5 218.3h0M120.5 222.7h0M138.4 214.1h0M126.7 230.9h0M139.3 212.4h0M127.8 230.3h0M148.7 225.4h0M129.4 231.7h0M130.1 216.6h0M126.8 234.5h0M126.2 214.6h0M130.6 218.1h0M134.2 233.5h0M117.8 215.8h0M124.7 236.5h0M135 226.5h0M124.6 213.9h0M131.9 231.7h0M140.7 220.9h0M141.5 224.5h0M146.1 238.1h0M138.4 226.7h0M144.4 207.7h0M115 235.8h0M125.9 234h0M121.9 237.8h0M126.2 223.3h0M140.1 231.4h0M131.6 237.2h0M111.5 233.6h0M152.8 234.5h0M141.2 218.8h0M133.3 235.3h0M126.8 209h0M122.9 224.2h0M121 230.3h0M121.5 210.9h0M139.4 215h0M116.7 228.8h0M138.8 221.6h0M144.4 220.1h0M129.9 209.8h0M143.1 208.8h0M139.6 216.8h0M132.7 234.4h0M131.3 221.3h0M151.3 235h0M150.5 225.9h0M120.8 215.9h0M136 213.8h0M116.7 228.4h0M128.6 230.9h0M144.4 217h0M135.9 210.7h0M125.3 213.5h0M140.4 218.3h0M140.1 228.4h0M139.3 229.9h0M142.1 216.2h0M136.2 219.2h0M135.8 237.8h0M138.3 224.1h0M139.3 208.3h0M158 227.6h0M122.6 208.9h0M123.4 214.1h0M123.2 222.7h0M113.2 232.6h0M122.4 224.7h0M121.5 209.2h0M140.5 238.1h0M141.9 228.9h0M117.8 229h0M129.4 214.2h0M117.2 236.8h0M124.2 231.9h0M136.3 210.8h0M128.1 215.7h0M129.1 231h0M144.6 215.2h0M137 210.2h0M124.2 208.5h0M123.6 208.2h0M117.1 223.1h0M130.1 235.7h0M144.7 223.6h0M143 234.3h0M128.4 223h0M119.7 236.5h0M125.8 217.7h0M115.6 235.8h0M105.3 227.2h0M110 212.1h0M132.8 235.8h0M123.2 233.1h0M115.5 227.9h0M139.2 229.1h0M138.8 214h0M146.2 236.5h0M131.3 226.7h0M124.4 214.1h0M138.8 214.8h0M121.3 210.5h0M127.2 237.6h0M141.8 207.8h0M120 227.3h0M130.3 210.9h0M126.7 207.9h0M118.8 226.3h0M148.1 223.9h0M119.2 225.3h0M124.3 207.6h0M129.6 224.3h0M141.8 218.8h0M135.8 226.5h0M123.8 217.1h0M123.1 217.9h0M138.9 216.9h0M129.9 222h0M129.3 225.4h0M131.6 230h0M135.1 223h0M128.5 222.8h0M143.8 220.8h0M153.9 234.6h0M122.5 235.9h0M127.4 216.5h0M139.7 216.3h0M136.1 235.2h0M126.6 215.6h0M123.4 209.3h0M125.2 209.3h0M139 222.4h0M141.3 234.8h0M123 215.1h0M135.3 223.8h0M121.6 210.9h0M143.9 223.1h0M128.3 233h0M126.2 235.5h0M121.2 237.7h0M138.1 211.3h0M141.1 210.3h0M117.4 235.8h0M142.8 218.4h0M123.9 230.6h0M127.3 211.9h0M124.5 208.7h0M142 225.9h0M151.3 227.1h0M125 211h0M142.6 231h0M128.4 211.3h0M146.8 209.1h0M135.2 232.7h0M126.8 227.5h0M146.7 215.8h0M134.6 232.1h0M137.1 218.1h0M142.1 226.6h0M127.5 208.7h0M137 212.4h0M137.6 209.4h0M137 221.7h0M116.7 216h0M132.3 231.7h0M141 217.6h0M141.5 235.4h0M128 230.7h0M135.6 218.7h0M126.2 212h0M126.5 233.8h0M120 231.4h0M134.1 236.1h0M140.9 237.8h0M134.7 231.2h0M140.3 225.9h0M134.7 237.2h0M136.3 234.8h0M135.7 218.4h0M135.8 212.3h0M121.1 237.3h0M129.2 215.8h0M122.1 230.2h0M121.1 227h0M148.4 209.1h0M124.4 228.8h0M121.8 233.4h0M101 212.2h0M131.3 232.8h0M131.4 220.4h0M112.8 220.2h0M130.2 234.4h0M138 214.7h0M121.7 219.7h0M142.3 236h0M130 216.5h0M137.5 228.4h0M123.9 229.1h0M135.8 216.3h0M138.4 237.4h0M140.1 215.3h0M126.2 221.7h0M126.7 217.4h0M143.2 215.5h0M126.2 212.4h0M126.4 212.6h0M131.8 230.9h0M122.3 222.5h0M143.1 223.4h0M118.4 216.9h0M125 213.8h0M137.7 228.3h0M131.1 222.7h0M122.1 220.8h0M139.5 234.9h0M137.3 211.2h0M135.4 222.1h0M123.2 235.2h0M136 232.1h0M111.1 234.7h0M141.3 230.5h0M139.4 234.6h0M116.6 214h0M118.8 215.8h0M122.7 231.3h0M130.6 222.5h0M148.4 231.3h0M129.4 237.7h0M144.8 228h0M137.5 218.8h0M130.6 221.5h0M122.5 222.4h0M142 226.6h0M138 215h0M120.2 209.1h0M125.1 236.4h0M145.4 235.6h0M124.4 217.5h0M141.4 215.3h0M136.4 224.5h0M136.8 235.1h0M129 229.4h0M132.7 225.3h0M144.5 219.3h0M139.7 228.6h0M105.4 221.5h0M123.9 216.5h0M143 218.2h0M119 231.6h0M127.7 233.1h0M124.3 222h0M143.6 212.6h0M122.9 208.7h0M138.8 235.4h0M138.2 216.7h0M150.5 230.7h0M138.5 231.5h0M134.9 223.3h0M136.9 209.9h0M132.2 230.7h0M131.7 235.3h0M141.9 229.8h0M112.9 228.7h0M122 211.4h0M137.2 219h0M146.7 217h0M135 226.4h0M128.4 222.5h0M128.6 216.3h0M117.6 237.1h0M136.5 213h0M142.7 217.1h0M140.8 237.3h0M138.1 217.9h0M144.8 228.6h0M131.1 236.5h0M138.7 217.6h0M135.7 218h0M123.3 220.4h0M129.8 230.1h0M132.3 235.2h0M148.3 233h0M136 227.3h0M134.6 230.9h0M146.7 227.8h0M117.8 230h0M119 210.2h0M131.8 224.4h0M138 211.9h0M136 235.8h0M138.3 214.6h0M137 215.1h0M111.2 218.8h0M131.3 226.2h0M123.1 211h0M141 217.7h0M140.7 225.6h0M122.8 211.2h0M127.6 207.7h0M122.5 218.9h0M149.9 228.8h0M137.3 235.2h0M148 229.9h0M142.4 209.8h0M131.4 222.2h0M135.6 229.7h0M121.7 213.4h0M132 226.8h0M129.4 217.9h0M124.3 207.8h0M117.4 219h0M137.8 216.8h0M123.2 230.9h0M105 212h0M128.6 228.4h0M142.7 217.6h0M144 236.9h0M136.5 226.6h0M126.2 217h0M132.3 232.4h0M137 223h0M123.4 221.6h0M123.4 218.6h0M124.8 222.3h0M129.8 226h0M130 229.8h0M124 223h0M135.9 235.8h0M133.2 231.3h0M140.1 211.3h0M117.6 235.3h0M145.6 224.7h0M113.3 211.3h0M136 214.3h0M137.9 231.7h0M142 226.5h0M138.7 230.1h0M153.1 230.5h0M129.5 229.8h0M118.8 211.2h0M111.2 212.7h0M127.6 222.5h0M128.8 222.3h0M118 225.7h0M140.4 217.9h0M141.7 214.4h0M135.1 226.1h0M135.9 215.4h0M120.7 209.2h0M137.4 218.7h0M142.9 215.9h0M128.2 236.2h0M129.2 231.8h0M121.5 229.7h0M138.2 228.1h0M123.4 215.9h0M135.7 234h0M121.1 232h0M127.7 225.1h0M136.8 213.3h0M129 225.7h0M131.1 215.1h0M127.7 229.4h0M118.7 227.3h0M140.9 225h0M112.6 232.3h0M128.1 229.4h0M138.8 229.4h0M128.4 221.8h0M135.7 235h0M121.6 215.7h0M137.8 216.1h0M144.2 218.4h0M134.5 230.3h0M120.3 212.6h0M124.6 229.2h0M148.4 229.3h0M139.7 234h0M128.3 237.2h0M126.9 219.5h0M134.8 225.2h0M132.7 232.4h0M140.6 228.3h0M136.4 226.1h0M138.1 231.6h0M149.2 231.4h0M128.5 236.4h0M118.4 233.5h0M126.8 237.9h0M143.9 228.4h0M133.1 234.2h0M128.7 224.2h0M128.3 209.6h0M113.6 224.2h0M131.7 227.3h0M122.1 210.7h0M147.7 222.3h0M123 222.5h0M122.3 231.6h0M126.1 212.2h0M139.2 207.7h0M120.4 236.4h0M133 229.3h0M122.8 212.7h0M157.7 230.6h0M140.9 216.7h0M130.1 217h0M128.8 219.8h0M136.3 229.4h0M118.8 219.3h0M135.2 220.3h0M146.5 217h0M117.8 227.4h0M120.1 220h0M118.4 237.8h0M135.2 236.7h0M126.6 233.4h0M134.2 236.6h0M145.3 225h0M137 217.5h0M128.7 237.9h0M143.7 222.2h0M120.2 214.5h0M126.9 224.7h0M140.7 217.5h0M130.5 212.6h0M152.3 225.9h0M115.9 235.8h0M122 232.9h0M132.7 237.6h0M133.5 231.4h0M141.6 213.1h0M137.3 220.1h0M139.9 215.3h0M139.2 214.6h0M122 219.1h0M129.6 230.4h0M127.5 227.2h0M153.8 228.3h0M134.1 233.4h0M142.7 217.6h0M130.9 235.3h0M136 216.8h0M138.6 220h0M125.2 211.6h0M126.3 227.8h0M137.5 212.7h0M137.8 214.4h0M143.6 224.5h0M127 218.4h0M141.3 228.3h0M144 237.6h0M128.4 221.6h0M125 230.3h0M125.4 215.5h0M137.1 238h0M111.1 233h0M147.1 231.3h0M112 225.4h0M124.2 216.5h0M127.2 210.7h0M131.6 225.8h0M125.1 213.7h0M119.1 219.3h0M128.3 235.1h0M149.9 234.1h0M130.6 231h0M141.6 211.2h0M121.8 238h0M138.2 238h0M146.8 212.6h0M135.7 215.9h0M122.8 212.8h0M143.2 217.7h0M144.2 214.2h0M144.4 236h0M128.9 221.8h0M131.1 228.8h0M128.5 223.2h0M127.4 230h0M108 229.5h0M139 233.7h0M131.6 235.6h0M116.4 227.7h0M139 213.4h0M116.9 221.9h0M137.3 230.5h0M139.5 210.8h0M146.7 228.5h0M117.6 226h0M129.5 215h0M137.1 227.1h0M123.3 231.7h0M140.4 227.4h0M126.7 222.8h0M142.6 210.6h0M135.9 215.9h0M141.7 211.2h0M138.3 224h0M126.1 225.2h0M135.5 227.2h0M137.8 234.2h0M137 213.7h0M143.3 236h0M137.9 230.7h0M143 232.6h0M125.7 222.3h0M145.4 221h0M138 231.3h0M128.7 233.9h0M133.8 232.3h0M123.2 229.4h0M125.7 227.8h0M141.1 214.9h0M141.9 210.8h0M129.4 219.3h0M111.7 234.5h0M122.8 225.5h0M139.9 225.3h0M137.4 211.3h0M137.4 229.8h0M121.8 217.2h0M128.4 214.8h0M136.2 223.9h0M137.9 224.6h0M128.3 235.4h0M130.6 236.8h0M136.9 208.5h0M125.1 222.3h0M122.7 231.4h0M139.3 214.3h0M133.8 237h0M121.3 209.5h0M145.1 234.1h0M145.6 208.1h0M138.5 230.6h0M129 210.7h0M134.5 237.3h0M137.6 234.8h0M127.7 237.4h0M136.8 230.8h0M124.4 216h0M131.8 234.5h0M118.7 235.1h0M126.6 217.4h0M128.5 222.4h0M110.4 233.9h0M133.3 230.9h0M136.4 216h0M139.6 222.8h0M138.3 209.5h0M135.9 215.4h0M121.3 216.5h0M143.5 214.1h0M129.8 236.3h0M114.5 228h0M123.5 214h0M130.3 230.5h0M136.2 226h0M135.5 220.4h0M147.2 235.6h0M118.5 217.9h0M129.8 227.6h0M120 211.8h0M121.4 224.7h0M143.3 237.5h0M131.2 216.1h0M148.8 218.1h0M143.3 209.3h0M141 214.1h0M139.8 222.2h0M124.8 215.1h0M126.8 233.4h0M128.6 210.8h0M125.8 215.6h0M130.8 224.5h0M152.1 235.6h0M136.7 227h0M129.4 228.8h0M127.4 219.1h0M136.5 208h0M146.3 230h0M136.3 209.9h0M128.4 218.4h0M147.9 234.3h0M128.7 218.6h0M123.7 222.6h0M126.7 231.2h0M127.6 235.1h0M123.8 234.2h0M135.6 212.1h0M148.7 225h0M130.4 222.2h0M117.4 216.6h0M137.1 233h0M139.4 231.9h0M125.2 215.2h0M124 230.2h0M140.9 234.6h0M150.8 214h0M128 230.3h0M154 233h0M147.6 220.1h0M137.3 231.6h0M129.2 234.8h0M114 230.5h0M136 220.2h0M122.9 230.6h0M145.9 236.3h0M128.8 224.5h0M143.6 230.7h0M126.4 234.5h0M139.3 224.1h0M128.5 229h0M141.2 221.9h0M121.1 216.1h0M126.4 225.3h0M124.8 212.4h0M111.4 220.6h0M109.7 233.2h0M113.3 217.7h0M109.4 223.4h0M94.8 216.1h0M102.8 230h0M109.3 231.8h0M108.9 230.7h0M103.4 219.1h0M93.1 214.1h0M67.4 214.9h0M102.6 230.1h0M104.2 228.7h0M105.9 225.2h0M87.5 214.3h0M100 223.2h0M78.3 212.7h0M101 211.1h0M110 226.4h0M111.8 223.7h0M101.3 221.4h0M110.2 223.5h0M94.9 216.3h0M90.1 212h0M90.5 216.5h0M105.2 223.2h0M100.9 217.9h0M109.5 211.3h0M101.9 226.9h0M87.8 218.6h0M97.5 214.9h0M96.3 219.1h0M72.1 220.1h0M108.2 226.1h0M97.1 221.4h0M81.9 215.9h0M107.1 222.9h0M112.8 216.8h0M108 218.1h0M108.1 216.7h0M108.1 229.4h0M101.7 210.6h0M100.5 217.6h0M105.8 226.3h0M107.3 211.3h0M101.8 216.9h0M93.3 209.8h0M113.1 222.6h0M87.2 213.8h0M111.3 223.3h0M79.5 218.5h0M102.8 215.6h0M100.4 225.4h0M66.8 213.3h0M80.5 215.5h0M104.2 219.7h0M110 229.6h0M99.3 211.5h0M113 219.3h0M112.5 223.5h0M109.5 214.9h0M104.9 226h0M95.1 215.6h0M111.9 225.2h0M84.8 218h0M104 223.8h0M110.1 220.6h0M83.9 213.3h0M95.2 223.3h0M84.3 217.5h0M70.4 213.2h0M87.6 220.2h0M106.8 227.4h0M65.3 209.2h0M92 215.7h0M87.7 212.4h0M106.3 229.2h0M99.2 218.3h0M98.2 226.1h0M108.4 220.3h0M103.2 219.9h0M108.5 228.4h0M108.1 229h0M96.9 210.5h0M113.3 212.8h0M91.7 219.9h0M103 229h0M111.4 226.7h0M103.1 219.4h0M106 221h0M83 213.9h0M96.1 226.3h0M109.5 218.3h0M78.3 213.3h0M83.8 214.9h0M156.9 219.2h0M182.6 218.1h0M152.7 230.1h0M169.2 227h0M158.4 215.5h0M176.8 224.2h0M153.4 219.3h0M179.4 226.1h0M152.5 224.6h0M158.6 209.2h0M152.9 222.6h0M179.9 224.7h0M156.2 209.8h0M162.2 211.5h0M182 214h0M161.2 213.4h0M151.5 233.5h0M170.7 227.9h0M151.7 236.2h0M156.6 230.8h0M154.6 213.3h0M155.3 219.6h0M155.4 223.2h0M170.1 223.5h0M158.9 231.5h0M156.3 222.6h0M155.8 227.6h0M167 212.8h0M168.5 214.6h0M160.7 214.6h0M168.2 210.2h0M175.2 209.6h0M160 218.1h0M154.7 221.3h0M177 223.4h0M176.3 224.3h0M159.9 219.7h0M154.8 221.1h0M154.4 213.5h0M156.5 213.7h0M161.7 225.8h0M188.9 226h0M176.1 227.8h0M155.4 229h0M152.9 216.6h0M158.9 232.6h0M163.4 212.7h0M175.9 214.8h0M154.2 209.7h0M153.5 225.7h0M161.3 217.9h0M155.2 223.2h0M170.4 229.1h0M173.2 219.6h0M182.8 215h0M200.3 210.8h0M192.3 221h0M188.9 221.5h0M76 239.3h0M72 239.3h0M80.6 239.3h0M142.3 201.4h0M140.1 181.4h0M130.9 169.2h0M124.7 181h0M124.9 200.8h0M139.4 156.2h0M142.5 195.9h0M127.4 190.4h0M138.4 170.3h0M139.9 201.1h0M131.4 200.8h0M138.6 157.6h0M126.1 189h0M138.9 177.4h0M128.6 187.3h0M136.8 204.9h0M139.8 207.1h0M142.5 199.5h0M127.9 192h0M141.2 185.8h0M136.8 177.4h0M140.5 199.1h0M124.8 152.1h0M129.4 190.9h0M124 198.8h0M139.2 203.7h0M142.5 182h0M141.2 187.9h0M141.3 196.6h0M140.2 196.9h0M141.7 206.3h0M141.2 204h0M126.6 173h0M141.8 200.3h0M126.4 205.3h0M131.3 202.2h0M126.8 202.4h0M139.3 177.4h0M139.8 185.1h0M127.7 206.2h0M127.1 176h0M140.7 162.3h0M127.4 151h0M124.7 206h0M136.9 193.8h0M136.9 182.3h0M140.1 202.9h0M129.7 167.7h0M140.1 203.4h0M141.2 193.3h0M125.9 178.8h0M126.3 189.1h0M124.3 194h0M124.6 188h0M128 171.3h0M142.3 194.8h0M130.9 206.7h0M127.6 163h0M137.4 199.8h0M138.6 202.1h0M125.2 183.4h0M141.9 189.9h0M130.8 195.4h0M125.4 181.6h0M137.8 196.3h0M140.4 196.7h0M136.4 203.1h0M139.9 191h0M129.9 197.8h0M142.4 202.9h0M139 191.6h0M137.5 205h0M126.2 190.4h0M125.4 195.2h0M141.5 175.2h0M127.7 199.9h0M141.1 160.1h0M124 193.8h0M127.7 197.8h0M123.4 180h0M142.7 193.1h0M138.6 207.1h0M130.7 165.8h0M137.3 196.9h0M138.4 204.3h0M142.4 192.3h0M126.4 199.1h0M142.8 178.4h0M137.3 204h0M129 158.9h0M137.3 196.9h0M130 198.3h0M128.3 197.6h0M140.7 198.8h0M128.1 162.7h0M123.4 174.5h0M141.4 168.4h0M124.1 183h0M130.7 194.6h0M129.3 197h0M128.6 136.4h0M141.7 196h0M141.5 183.9h0M139.8 175.9h0M141.7 169.9h0M129.3 186.2h0M141.7 199h0M136.7 196.2h0M128.4 174h0M139.6 194.7h0M124.2 161.9h0M128.6 207.1h0M141.1 169.1h0M138.7 189.2h0M139.6 175.2h0M128.9 200.4h0M140.3 186.2h0M131.3 179.6h0M126 153.3h0M140.5 128h0M124.6 197.2h0M138.7 198.8h0M123.9 160.2h0M123.4 127h0M128.8 172.4h0M126.8 169.3h0M136.9 171.1h0M128.4 192.3h0M141.3 185.6h0M124.2 184.7h0M124 181.7h0M139.1 192h0M131.5 206.2h0M138.9 177.5h0M140.9 194.4h0M138.2 207h0M125 189.4h0M126.9 196.5h0M127.1 185.9h0M137.1 206.1h0M141.5 198.5h0M128.5 163.5h0M125.4 191.9h0M140 205.3h0M127 172.6h0M141.6 165.3h0M140.4 153.8h0M129 163h0M126.5 203.6h0M124.1 177.9h0M125 175.6h0M136.2 198.6h0M131.7 207.5h0M124.3 201.9h0M126 139.7h0M141.9 206h0M141.9 145.5h0M142.4 204.2h0M141.7 206.5h0M124.9 202.8h0M124 204.9h0M141.3 201.8h0M129.2 202.6h0M141.3 203.1h0M130.9 195.1h0M140.9 192.4h0M125.3 206.4h0M128.6 185.9h0M137.5 204.4h0M123.8 167.3h0M138 206.2h0M131.2 174.6h0M136.5 184.1h0M141.6 160h0M138.3 205.6h0M137.2 206h0M138 181.1h0M124.9 190.3h0M140.4 198.8h0M138.4 206.3h0M141.9 206.5h0M141.7 194.6h0M128.2 198h0M131.6 204.5h0M125 206.3h0M123.9 205.2h0M141.9 192.4h0M129.2 199.3h0M141.8 163.4h0M140.4 200.2h0M140.2 206.7h0M130.2 201.6h0M139.5 200.1h0M128.1 187.3h0M141.2 197.5h0M129.8 205.9h0M127.8 205.8h0M124.8 193.7h0M142.6 176.7h0M140.5 187.2h0M130.5 191.8h0M141.7 191.7h0M141.5 181.7h0M125.6 166.4h0M131 173.7h0M123.6 163.6h0M123.7 179.2h0M130.1 201.2h0M142.2 197.5h0M139.1 181h0M131.1 205.2h0M129.8 206.8h0M140.6 172.7h0M142.6 197.8h0M142.6 181.4h0M127.5 185.5h0M138.8 171.9h0M124.8 131.5h0M129.5 201.7h0M138.7 195.2h0M126.7 192.4h0M125.4 176.7h0M126.2 158.4h0M131.6 201.3h0M126.6 192.5h0M142.7 147.8h0M136.3 204.8h0M139.1 185.5h0M131.3 189.1h0M128.2 186.2h0M137.9 178.6h0M137.6 156.4h0M141.2 202.4h0M131.2 187.7h0M142.1 132h0M140.8 175.3h0M124.3 192.7h0M137.8 142h0M129.5 206.5h0M139.8 179.8h0M127.6 202.4h0M131.6 206.9h0M139.4 188.5h0M128.4 165.5h0M142.1 204.4h0M137.9 198.7h0M130.9 179.9h0M137.4 195.1h0M138.3 190.8h0M138.1 186.1h0M126.8 196.5h0M128 149.7h0M130.2 186.9h0M137.3 197.2h0M129.3 153.1h0M142.4 206.3h0M141.2 176.3h0M141.7 206.4h0M131.3 207.4h0M128 203.1h0M126.9 206.9h0M127.7 205.9h0M131 202.6h0M129.4 198.5h0M127 171.3h0M125.4 165.9h0M138.9 183.2h0M140 197.3h0M141 190.4h0M123.9 178.7h0M141 199.6h0M138.6 179.6h0M130.4 197.9h0M129.5 205.1h0M126.3 194.3h0M129.5 152.8h0M123.8 184.4h0M130.4 187.1h0M129.7 204.4h0M137.5 196.3h0M137.9 202h0M139.3 197.1h0M123.4 186.2h0M141.8 206.1h0M127.8 183h0M139 177h0M126 193.3h0M126.3 201.8h0M141.2 201.5h0M128.3 178.2h0M130.1 192.1h0M142.3 205.4h0M136.7 174.1h0M136.3 195.4h0M128 196.3h0M126.8 160.1h0M136.5 206.9h0M140.2 182.7h0M137.9 204.3h0M138.2 170.4h0M126.7 198.5h0M125.1 198.2h0M138.6 198.3h0M125.2 201.7h0M125.5 187h0M131.1 177.9h0M137.1 169.4h0M140.6 188.8h0M136.8 168.7h0M137.1 171.4h0M129.1 184.1h0M128.7 190.5h0M124.4 197.1h0M141.4 199.5h0M140.8 131.6h0M137.3 206.6h0M130.9 173.2h0M125.7 206.1h0M128.9 201.1h0M130.8 205.1h0M141.8 201.5h0M142.7 192.9h0M140 202.2h0M131.5 205h0M129.1 195.8h0M128.8 191h0M125.5 162.2h0M141.5 203.8h0M130.5 185.5h0M141.8 204.7h0M128.1 179.3h0M136.2 206.5h0M138.6 192.4h0M130.3 176.2h0M139.1 201.1h0M129.5 205.2h0M140.6 191.9h0M139.6 201.7h0M141.7 195.4h0M128.3 161.9h0M127.9 201.4h0M130.2 173.4h0M142.3 191.6h0M141.2 142.9h0M130.3 192.9h0M125.7 192.5h0M130.9 205.2h0M137 181.3h0M129.4 155.2h0M131.7 207.5h0M138.3 193.9h0M123.3 206.3h0M130.3 207.5h0M142.1 206.3h0M140.1 150.2h0M124 202h0M129.2 201.4h0M124.2 182.8h0M136.2 202.2h0M129.4 188.1h0M125 183.8h0M136.9 186.8h0M138.3 201.5h0M129.1 205.7h0M128.9 186.3h0M124 202.3h0M125.6 143h0M136.7 184.7h0M131.3 190.5h0M138.2 198.6h0M138.1 194.8h0M125 205.1h0M140.6 195.6h0M138.1 204.8h0M136.6 203.3h0M125.3 139.7h0M124.4 206.6h0M137.1 205.9h0M129.4 202.2h0M139.2 178.4h0M127.1 189h0M123.3 153.7h0M142.5 185.4h0M141.3 204.3h0M126.2 205.3h0M136.8 181.5h0M125.1 192.4h0M124.4 169.9h0M127.3 176.1h0M125.8 194.3h0M129.8 190.2h0M131 181h0M131.2 203.3h0M142.5 206.2h0M142.2 207.2h0M141.4 203.3h0M130.4 203.2h0M129.8 203.8h0M129.6 193.1h0M137 177.7h0M142 193.8h0M129.1 201.2h0M128 173.8h0M126.2 200.9h0M131.4 198.7h0M138.6 203.6h0M130.9 201.6h0M127.8 207.1h0M125.3 182.6h0M142.2 206.8h0M140.4 196.6h0M130.2 191.8h0M137.2 198.2h0M137.2 172.5h0M137.5 198h0M139.3 200.9h0M141.5 165.1h0M140.4 196.3h0M127.3 156.8h0M130 186.2h0M123.9 190.8h0M138.3 200.1h0M129.6 195.1h0M128.8 207h0M123.3 130.1h0M128.8 147.3h0M140.4 200h0M130.2 199.3h0M138.7 190.5h0M137.6 180.7h0M130.9 197h0M142 191.6h0M138.8 204.5h0M129.2 207.5h0M123.6 202.7h0M126.2 194.1h0M130.9 188.2h0M137.3 198.4h0M139 187.4h0M141.2 145.6h0M127.7 192h0M139.7 195.9h0M140.3 194h0M138.7 204.2h0M128.4 197.8h0M130.5 199h0M127.8 205.2h0M123.9 201.8h0M140.3 186.2h0M128.6 195.8h0M130 180.6h0M142.1 202.4h0M126.9 206.8h0M129.5 203.3h0M139.9 198.6h0M142.5 205.4h0M123.7 188.1h0M127 195.5h0M127 197.3h0M126.9 198.7h0M127.2 167.4h0M123.3 182.5h0M127.8 180.7h0M142.6 180.6h0M130.7 201.7h0M125.1 200.6h0M138.1 204.8h0M142.3 201.8h0M141.2 202.3h0M142 184.4h0M128.9 200.1h0M131.2 190.9h0M141.1 189.3h0M138.3 207h0M126 179h0M130.3 193.6h0M128.8 203.8h0M139.8 186.8h0M140.8 198.6h0M140.7 206.5h0M130 206.7h0M139.9 192.4h0M137.1 191h0M137 182.9h0M125.8 203.2h0M139.5 192.1h0M140.9 194.6h0M140.2 200.1h0M128.4 181.1h0M138.9 188.2h0M129.4 140.2h0M125.2 200.5h0M129.4 183.3h0M139.7 189.5h0M139.5 204.8h0M131 202.8h0M140.7 130.3h0M124 186.3h0M142.3 199h0M129.5 204.6h0M128.4 202.1h0M126.5 185.4h0M139 200.4h0M126.3 195.8h0M128.1 131.3h0M126.5 152.5h0M126.9 139.7h0M139.5 202.4h0M127.1 203.6h0M126.1 200.8h0M126.8 199.6h0M126 197h0M127.2 139.5h0M125 189.7h0M138.3 204.1h0M137.7 190.8h0M138.7 166.5h0M137.2 203.5h0M139.6 203.1h0M130.9 195.6h0M124.9 189.9h0M125.7 189.2h0M130.1 187.5h0M130 167.5h0M125 194.7h0M136.4 202.6h0M129.2 201.9h0M124.9 203.1h0M131.1 192h0M123.7 176.5h0M141 192.2h0M130.2 206.9h0M137.4 207.1h0M130.7 206.5h0M141.4 196.7h0M123.9 190.5h0M123.5 197.4h0M137.8 172.4h0M124.3 174.6h0M126.9 201.7h0M136.8 186.6h0M129.8 198.8h0M130.4 198.4h0M141.1 179.6h0M125.3 206.7h0M141.9 202.5h0M130.4 195.4h0M141.7 170.3h0M140.2 185.5h0M137.9 178.6h0M127.4 164.1h0M136.6 179.7h0M142.6 195.2h0M127.7 202.1h0M128.8 205.2h0M127 198.8h0M142.1 201.8h0M141 166.3h0M129.9 193.1h0M127.9 153.3h0M130.4 203h0M139.5 194.8h0M124.3 173.8h0M131 193.6h0M142.7 153.1h0M124.6 203.6h0M129.6 189.7h0M127 141.7h0M126.7 205.4h0M137.5 190h0M125.1 202h0M141.3 126.3h0M140.8 207.2h0M123.3 207.5h0M138.8 190.6h0M127.8 204.4h0M127.9 195.7h0M141.3 156.8h0M125.9 189.1h0M137.2 200.6h0M123.8 200.5h0M140.1 198.8h0M140.3 199.1h0M142.6 181.2h0M129.3 193.5h0M137.6 166.6h0M140.1 202.5h0M142.4 178.4h0M136.8 201.4h0M130.9 193.7h0M125.7 188.9h0M126.4 194.6h0M128.1 193.6h0M125.3 197.7h0M142.7 184.8h0M136.8 195.5h0M126.4 202.9h0M126.1 138h0M128.4 171.2h0M130.7 206.1h0M131.4 200.7h0M126 188.5h0M127.9 191.9h0M128.3 203.4h0M141.5 199.7h0M131.4 203.1h0M131.6 206.5h0M140.5 162.6h0M138.1 197.7h0M128 206.3h0M127.1 195.8h0M141.1 194.8h0M139.8 180.6h0M141.9 193.4h0M130.4 186.3h0M127.8 204.6h0M140 189.7h0M141.1 195.4h0M125 177.5h0M129.2 145h0M127.3 190.9h0M123.6 199.1h0M128.6 203.7h0M136.6 206.5h0M128.3 206.3h0M137.3 200.7h0M141 186.2h0M123.5 186.6h0M141.9 204.1h0M140.8 205.2h0M142.8 186h0M129.1 206.4h0M126 169h0M139.9 189.5h0M126.5 196.1h0M127.7 182.3h0M142.4 202.8h0M137.3 188.8h0M141.6 148.6h0M127 205h0M127.9 196.1h0M129.5 197.4h0M139.6 159h0M127.1 134.8h0M123.7 190.8h0M137.9 202h0M127.5 187.6h0M142.2 206h0M128.2 201h0M126.9 198.4h0M123.7 163.7h0M141.4 196.2h0M142.5 183.4h0M125.4 169.3h0M124.6 199.2h0M140.9 197.2h0M138.5 202.6h0M124.4 203h0M139.1 189.9h0M127 157.4h0M125.6 194h0M141.4 206.2h0M139.5 198.9h0M129.2 193.3h0M123.4 155h0M127.7 152.8h0M129.5 198.2h0M123.4 202.7h0M140.5 151.8h0M136.4 186.7h0M136.7 206.1h0M139.2 198.1h0M140.7 194.7h0M139.7 196.6h0M137.2 206.8h0M126.8 203.6h0M130.3 199.5h0M142.2 205.8h0M139.5 196.3h0M124.1 198.9h0M142.1 207.2h0M140.4 176.9h0M138.9 201.5h0M129.2 172h0M129.1 204.7h0M140.9 198.9h0M126.6 169.9h0M131.2 201.1h0M137.3 199.3h0M123.7 198.5h0M141.5 206.7h0M124.6 206.9h0M129.8 172.6h0M139.7 125.4h0M129 201.4h0M141.5 156.5h0M126.1 196.4h0M129.2 179.2h0M124.4 201.1h0M128 192.2h0M142.6 198.4h0M130 205.3h0M126.2 197.8h0M138.8 184.4h0M141.3 201.6h0M140.5 189.4h0M138.1 180.4h0M125.1 199.8h0M126.3 181.5h0M139.3 207.3h0M136.8 174.8h0M130.8 207.1h0M123.6 206.2h0M140.6 195.6h0M130.1 198.7h0M138.8 164.4h0M137.4 188.1h0M129.4 190.1h0M140.2 203.7h0M127.4 200.7h0M142.3 181.8h0M130.6 204.2h0M141.2 185.1h0M140.7 196.8h0M142.8 203.6h0M127.3 161.3h0M127.3 203.7h0M128.8 203.9h0M141.4 166.2h0M123.3 180.9h0M140.7 176.1h0M136.5 204.9h0M141.3 204.3h0M123.5 202.4h0M139.1 186.5h0M130.2 191.7h0M124.7 193.3h0M141.7 201.3h0M123.6 200.7h0M127.3 203.1h0M139.5 152.2h0M124.8 200.2h0M140.6 195.9h0M138.6 207.4h0M138.1 190.7h0M129.7 206.6h0M137.8 173.8h0M136.4 192.8h0M129.2 203.9h0M136.9 205.9h0M125 187.4h0M128.3 188.5h0M138.4 207h0M125 200.1h0M128.6 197.8h0M129.3 199.7h0M142.4 200.1h0M126.5 207.4h0M137.6 187.1h0M137.4 174.4h0M127.8 206.7h0M136.5 183.2h0M139.7 194.6h0M142.3 183.2h0M129.6 165.4h0M125.3 174.6h0M129.8 181.2h0M141.3 196.5h0M141.7 198.8h0M142.5 183.8h0M141.3 180.8h0M140 202.1h0M137.2 197.8h0M129.4 181.6h0M127.7 192.3h0M127.2 185.7h0M138.6 206.6h0M126.8 205.8h0M124.8 167.5h0M139.2 199.3h0M125 206.1h0M138.8 206.1h0M125.5 192.1h0M123.7 204.1h0M142.6 203h0M140.2 192.9h0M138.2 205.5h0M136.1 203.9h0M128.9 184.9h0M139.7 207.2h0M140.5 190.5h0M126.8 172.4h0M137.1 207.2h0M139.3 199.8h0M138.4 202.1h0M142.7 197.8h0M129.7 206.5h0M123.8 205.1h0M123.6 181.5h0M126.5 201.5h0M139.1 155.1h0M140.4 180.5h0M142.2 199.8h0M141.1 200.8h0M125.6 176.4h0M130.2 205.9h0M142.7 196.5h0M139.6 188h0M138.7 174h0M128.7 165.9h0M141.2 197.2h0M129.3 164.4h0M129.3 177.3h0M124.5 158.9h0M139.1 187.3h0M139.8 191.8h0M126.6 207h0M126.1 196.2h0M128.4 182.9h0M137.4 180.9h0M125.5 180.7h0M140 175.3h0M123.5 192.6h0M124.6 165.5h0M131 184h0M130.4 178.3h0M124.2 183.9h0M123.8 196.5h0M125.5 180.9h0M141 193.8h0M142.7 183.3h0M129.2 165.8h0M131.4 191.6h0M130.7 197.6h0M137.4 192.3h0M123.3 203.6h0M124.4 191.6h0M137 195.7h0M129.2 201.4h0M142.3 206.6h0M136.7 203.8h0M142.7 207.3h0M141.7 194.7h0M136.6 186.3h0M138.6 197h0M125 199.9h0M128.7 198.7h0M142.3 176.1h0M123.2 191.7h0M129.7 190h0M139.3 204.5h0M136.8 204.8h0M131.2 189h0M142 206.2h0M142.8 157h0M127.3 202.7h0M128.3 204.4h0M123.9 206.6h0M126.1 152.1h0M139.3 190.8h0M139.2 169.8h0M131.4 207.2h0M136.7 179.8h0M128.8 189.6h0M140.4 191.7h0M142.2 206.3h0M142.3 154.1h0M136.1 206.1h0M140.8 205.5h0M137.6 188.9h0M141.6 169.5h0M141.1 196.2h0M137.5 203.4h0M126.2 204.3h0M141 180h0M136.9 204.9h0M123.7 196.5h0M130.1 195.4h0M126.4 205.2h0M128.6 202.9h0M129.7 193.5h0M137.8 198.7h0M139.1 200.7h0M127.6 195h0M126.4 169.2h0M141.5 202.9h0M128 188.5h0M141.2 200.6h0M137 207h0M142.5 195.2h0M142.5 183.4h0M129.1 142.6h0M141.7 141.7h0M124.6 193.4h0M130.6 194.3h0M139.7 154.7h0M124.1 206.6h0M127.1 201.1h0M125.4 201.9h0M141.6 206.2h0M130.5 199.5h0M136.9 202.5h0M123.7 194.6h0M123.5 188.2h0M139.9 173.8h0M142.7 151.2h0M137.5 178.9h0M137.9 179.9h0M130 199.2h0M136.7 184.4h0M139.6 202.2h0M141.5 140h0M128.5 182.2h0M128.4 195.6h0M139.6 206.8h0M123.6 198.4h0M124.1 179.7h0M128.1 166.5h0M137.3 204.9h0M138.5 201.8h0M136.2 202.7h0M136.8 177.8h0M128 195.7h0M139.7 172.4h0M139.2 181.6h0M127.2 191.2h0M124.6 190.9h0M130.4 197.7h0M136.8 171.6h0M124.8 190.3h0M129.5 190h0M142.4 204.5h0M138.3 188.9h0M126.1 149.3h0M141.6 206.5h0M140.3 193.5h0M138.4 201.9h0M137.4 183h0M140.2 194.1h0M138.1 200.4h0M140 185.1h0M125.2 189.4h0M141.9 202.1h0M128.4 176.3h0M128.6 189.7h0M130.4 199.1h0M137 189.9h0M137.3 189.2h0M127.2 200.9h0M128.3 186.7h0M140 203.8h0M129.3 205.8h0M130.4 185h0M138.8 193.3h0M123.4 175h0M129.5 201.6h0M129.7 190.1h0M124.4 182.3h0M141.8 196.8h0M124.9 160.5h0M137.2 198.9h0M141.4 174.6h0M141.2 140.3h0M126.8 190.1h0M123.8 195.9h0M141.9 201.9h0M131.2 195h0M129.5 192.7h0M124.5 194.6h0M126.7 151.8h0M130.2 205.6h0M137.3 193.5h0M142.2 197.3h0M130 204h0M137.9 181.1h0M137.9 204.1h0M127.9 207.4h0M139.2 198.7h0M139.5 178.9h0M127.1 205.6h0M124.1 132.4h0M130.5 194.6h0M126.6 149.8h0M142.4 196.5h0M140.6 191.7h0M127.4 206.5h0M139 191.7h0M137.2 198.6h0M137.2 192.2h0M141.8 195.4h0M140.7 205.3h0M125.2 202.4h0M124.5 196.4h0M126.4 201.3h0M139.2 183.3h0M138.5 199.3h0M142.1 201.9h0M138.1 200.4h0M124.4 140.5h0M123.5 205.1h0M128.2 198h0M126.2 171.9h0M139.9 207.1h0M126.4 202.9h0M129.5 166.5h0M124.2 195.2h0M141.2 183.7h0M137.2 161.6h0M123.2 172.1h0M137.2 180.1h0M139.8 201.6h0M140.8 156.3h0M136.6 180h0M136.9 203.6h0M141.9 182.1h0M129.3 197.8h0M141.5 202.7h0M123.6 196.9h0M130.1 191.4h0M131.1 207.3h0M128 169.5h0M128.6 180h0M138 204.1h0M136.2 202.5h0M140.9 189.3h0M129.2 201.1h0M136.7 188.8h0M129.6 169h0M124.9 183.8h0M139.6 199.3h0M137.7 179.7h0M124.5 196.1h0M123.8 196.6h0M130.8 206.6h0M126 183h0M126.3 183.7h0M126.6 201.3h0M141.4 178.3h0M137.6 130.8h0M123.6 163.4h0M130.6 155.9h0M140.2 177h0M140.8 202.2h0M137.8 166.2h0M130.3 167.4h0M141.3 199.3h0M137.9 180.5h0M137.7 206.1h0M141.7 204.2h0M138.3 202.5h0M142.4 195.5h0M137.3 201.9h0M131.4 203.1h0M131 207.4h0M136.8 205.9h0M137.4 198.9h0M131.4 194.4h0M138.6 203.1h0M138.2 204.4h0M127.7 204.5h0M141.6 188.3h0M139.7 174.2h0M123.3 164.4h0M124.4 188.9h0M139.3 197.4h0M137 199.1h0M124.9 197.9h0M123.6 198.1h0M125.6 183.6h0M126.7 173.6h0M137.3 180.1h0M136.7 203.9h0M137.1 197.5h0M137.6 189.3h0M140.4 203.4h0M141.7 207.5h0M136.4 197.4h0M140 201.8h0M128.6 156.6h0M123.6 195.1h0M139.5 205.2h0M137.1 171.1h0M139.4 205.2h0M140.2 201.8h0M128.2 195.4h0M141.7 203h0M125.6 194.7h0M140.9 187.4h0M127.4 205.8h0M123.4 205.5h0M137 174.2h0M141.1 164.2h0M139.2 200.7h0M140 178.6h0M142 207.5h0M138.3 203.2h0M131 164.8h0M130.2 192.5h0M141.3 198.7h0M141.3 185.6h0M130.8 179.6h0M129.5 187.2h0M140.8 186.4h0M139 180.9h0M127.1 199.8h0M129.1 199h0M141.8 207.5h0M124.1 159.8h0M130.7 203.7h0M142.5 192.6h0M140.6 165.3h0M126 201.5h0M127.2 205.7h0M141.9 142.2h0M129.8 174.1h0M130.9 188.3h0M138.5 180.2h0M127.4 189.1h0M131.3 200.2h0M123.8 190.4h0M140.7 161.7h0M141.5 204.9h0M141.5 198.2h0M142.1 129.5h0M140.1 142.3h0M124.8 205.9h0M142.7 205h0M126 187.9h0M139.7 203h0M138.3 203.4h0M126.6 175.2h0M140.4 173.5h0M128.7 201.6h0M127 127.3h0M124.9 187.8h0M127.8 197.3h0M137.1 172.3h0M140.3 201.7h0M126.2 151.3h0M127.6 169.5h0M138.3 135.4h0M141.5 183.8h0M139.4 201h0M137.3 176.1h0M139.8 201h0M140.2 197h0M127.5 185.3h0M142.3 205.9h0M129.3 163.8h0M139.6 154.1h0M126.7 156.9h0M138.1 171.2h0M129.5 192.1h0M138.6 202.4h0M130.7 206.4h0M139.8 206.4h0M137.5 195.5h0M141.5 190h0M141.7 206.6h0M136.6 185.4h0M137.6 184.5h0M126.9 187.6h0M129.1 197h0M137.8 194.6h0M125.4 163.7h0M137 199.9h0M127.9 196.4h0M128.7 180.5h0M136.7 200.3h0M138.6 201.9h0M137.1 173.5h0M131 202.6h0M137.7 189.5h0M127.6 161.2h0M138.9 203.9h0M141.4 141.6h0M136.9 165.3h0M141.1 192.1h0M138 182.7h0M140 186h0M127.4 207.3h0M123.5 194.9h0M142.6 150.2h0M142.8 196.4h0M129.7 200.2h0M142 187h0M137.7 200.2h0M129.1 183.7h0M137.7 201.7h0M123.6 200.9h0M137 196.7h0M140.5 164.9h0M131.4 203.1h0M137.9 179.8h0M125.1 185.2h0M124 195.6h0M127.1 188.5h0M140.8 205.9h0M136.8 188.4h0M141.9 206.7h0M130.6 199.3h0M129.2 177.4h0M138.6 176.8h0M138.3 187.7h0M140.2 174h0M137.1 187.1h0M136.6 185.5h0M124 191.9h0M141.4 184.1h0M127.9 204.6h0M136.5 183.5h0M141.5 204.1h0M123.7 201.4h0M137.5 203.4h0M141.6 186.9h0M123.6 195.2h0M123.6 205h0M129.3 171.5h0M126.5 191.1h0M141.9 195.3h0M130.4 205.4h0M131 203.9h0M137.3 204.2h0M123.8 203.5h0M127.8 184.5h0M138.3 200.4h0M129.2 199.1h0M127.7 188.7h0M124.4 184.8h0M136.5 202h0M127.5 201.3h0M141.1 199h0M128.7 207.5h0M127.6 204.8h0M126.9 194.6h0M126.7 198.5h0M138.2 205.5h0M138.9 176.6h0M141.1 206.4h0M139 193.7h0M127.7 188.1h0M138.7 201.9h0M139.2 170.4h0M139.4 155.7h0M137.8 205.8h0M131.2 206.8h0M130.7 206.6h0M140.5 183.4h0M136.2 204.9h0M124.2 203.4h0M140.1 201.2h0M124.8 181.9h0M129.4 169.2h0M125.6 201.9h0M136.7 205.5h0M123.7 192.7h0M124.5 199.7h0M138.4 193.1h0M126 177.7h0M141.6 181h0M127.3 193.6h0M129 161.8h0M126.9 204.8h0M137.8 187.6h0M126.4 191.7h0M141.8 199.2h0M129.2 196h0M141 177.7h0M136.9 203h0M131.4 190.3h0M139.3 203.3h0M142.4 196h0M123.8 203.9h0M137 204h0M137.5 200.6h0M139.3 169.1h0M125 173.6h0M124.4 168.1h0M142 187.3h0M137.5 185.3h0M138.5 174.9h0M142 204.3h0M137.5 205.7h0M127.9 194.8h0M128.2 205.9h0M124.5 187.3h0M141.8 206.1h0M128.3 197.6h0M138.9 141.7h0M139 203.8h0M125.7 182.3h0M142.4 194.9h0M123.9 178.5h0M141.3 190.7h0M138.6 187.7h0M129.1 188h0M125.1 205.9h0M139.2 199h0M140.3 133.8h0M123.6 126.3h0M141.5 162.1h0M123.7 193.2h0M137.1 153.7h0M140.9 189.8h0M141.6 195h0M141.7 183.9h0M128 191.2h0M140.7 172.4h0M136.6 192.5h0M129.9 207.5h0M139.3 207.1h0M128.6 201.8h0M131.4 200.2h0M138.8 191.2h0M130.2 158.6h0M127.4 194.7h0M138.7 199h0M123.8 203.3h0M140.4 203.2h0M138.8 167.7h0M125.9 182.7h0M139.4 184.5h0M138.8 175.3h0M129.2 140.2h0M126.6 204.6h0M142.6 174h0M126.6 201h0M130.9 176.1h0M129.9 204.3h0M138.6 183.5h0M141.7 205.2h0M123.3 206.9h0M127.7 202.5h0M140.2 193.4h0M137.6 194.1h0M127 196.4h0M140.1 197.6h0M140.2 136.4h0M124.1 171.4h0M137.1 174.1h0M127.6 202.2h0M124.6 207.5h0M129.7 167.4h0M136.4 197.3h0M126.2 166.2h0M141.7 200.1h0M126.1 144.6h0M124.9 165.4h0M130.2 192.3h0M138.2 200.9h0M137 200.9h0M125.3 205.3h0M139 190.6h0M137.6 147.7h0M126.8 189.6h0M128 200.9h0M126.2 170.3h0M141.9 197.1h0M131.1 203.4h0M142.1 190.7h0M127.8 189.6h0M125.2 201.6h0M129.1 196.2h0M140 180.9h0M141.5 196.9h0M125.9 189h0M126.3 200.7h0M128.5 176.2h0M139.2 204.2h0M126 203.7h0M142 169.6h0M130.6 188.3h0M128.7 206.3h0M137.7 175.4h0M123.8 191.7h0M124.3 185.3h0M137.8 168.5h0M140.7 184h0M130.2 196.3h0M138.4 157.6h0M138 184.3h0M140.4 191.6h0M130.6 151.8h0M141.7 170.2h0M128.7 202.4h0M136.7 206.6h0M124.4 195.4h0M126.5 201.9h0M130.9 201.7h0M137.2 183.1h0M141.5 202.2h0M141.6 197.9h0M125.2 205.1h0M130.8 201.2h0M130 192.8h0M137.1 183.4h0M129.1 194.9h0M140.3 199.1h0M127.3 125.2h0M136.6 201.5h0M125.1 187.9h0M127.3 187.9h0M124.6 195.2h0M125.1 202.6h0M136.1 206.8h0M142.3 198.5h0M140.1 198.3h0M142 149.2h0M129.6 200.1h0M138.3 138.3h0M124.5 185.1h0M136.6 198.5h0M129.1 201.5h0M128.5 203.1h0M129.5 202.3h0M142 169.2h0M126.3 182.1h0M137.1 188.4h0M142.2 199h0M125.7 186.4h0M137.4 161.9h0M138 207.3h0M139.7 188.8h0M125.3 204.9h0M139.2 146.6h0M124.1 193.5h0M138.9 166.5h0M124 201.9h0M136.8 186.9h0M141.2 171.9h0M137.8 207.5h0M128.2 197.8h0M140.4 195.2h0M127.9 204.5h0M127.2 205.9h0M125.1 156h0M138.4 156.7h0M123.3 194.7h0M141.5 206.3h0M123.9 164.8h0M137.4 202.8h0M139.7 206.1h0M139.8 203.6h0M128.1 203.9h0M127.1 204.3h0M140.9 198h0M140.9 198.8h0M138 201.8h0M131.4 204.6h0M129.7 198.6h0M136.2 201.8h0M137.3 196.6h0M130.7 180.1h0M141.5 194.5h0M140.8 185.4h0M137.2 172.5h0M137.8 199.5h0M137.1 182h0M127.3 202.5h0M124.7 204.2h0M131 202.1h0M139.5 132.2h0M123.9 132.1h0M131 192.3h0M142 181.4h0M126.2 197.5h0M128.8 192.3h0M137.1 207.4h0M140.2 189h0M129.2 204.6h0M138.7 196h0M125.3 193.3h0M128.2 183.4h0M142.8 194.9h0M123.3 198.9h0M142.6 164.3h0M136.3 194.4h0M139.3 189.8h0M126 173.8h0M127.8 193.4h0M130.8 206.8h0M141.3 182.3h0M130.1 186.7h0M138.2 205.3h0M128.9 206h0M128.7 177.6h0M123.8 191.5h0M127.2 176.5h0M140.2 174.6h0M131.3 200.8h0M142.2 164.1h0M142.7 193.4h0M127.9 200.4h0M140.2 156.4h0M138 206.7h0M125.8 184h0M130.9 206.7h0M139.8 166h0M140.6 198.6h0M140.1 207.5h0M136.7 192.4h0M141.3 201.3h0M128.6 198.2h0M129 193.5h0M137.9 192.8h0M124.3 196.6h0M129.7 186.2h0M137.6 205.9h0M124.5 200.9h0M129 207.3h0M124.6 155h0M127.2 200.6h0M125.7 196.4h0M127.7 200.2h0M139 191.3h0M139.1 204.7h0M129.9 174.5h0M136.3 197.3h0M126.8 169.4h0M140.9 205.6h0M123.3 145.7h0M126 193.4h0M139.3 201.8h0M137.5 183.3h0M140.6 134h0M123.2 189.8h0M124.1 201.7h0M127 180.3h0M130.1 139.9h0M123.4 176.5h0M124.7 196.1h0M124.1 186.1h0M141.5 176.3h0M139.1 202.6h0M138.5 189.9h0M140.6 202.6h0M131.2 179h0M138.2 191.5h0M130 202.8h0M125.2 179.5h0M140.4 188.1h0M137 199.9h0M124.7 190.3h0M141.2 157.3h0M138.7 196.7h0M137.7 194.9h0M137.8 168.2h0M136.5 185.2h0M127.3 201.9h0M124.1 200.5h0M137.7 203.3h0M131.4 204.6h0M142.1 151.6h0M123.6 192.8h0M128.8 173.1h0M138.2 193.1h0M136.6 193.2h0M126.5 203.1h0M127.9 186.1h0M125.8 206.1h0M136.5 200.8h0M128.5 186.9h0M142.4 200.6h0M130.1 186.1h0M141.2 177h0M138.1 159.6h0M127.6 178h0M130.8 205.5h0M131.5 192.3h0M138.9 202.3h0M127.2 202.6h0M137.9 161.1h0M124.7 174.8h0M130.4 205.9h0M126.1 178.9h0M137.2 200.7h0M141.6 195.2h0M128.3 187.8h0M130.5 204.5h0M129.2 196.7h0M138.4 195.6h0M128.6 182.9h0M140.6 191.1h0M131.1 206h0M125.1 206.5h0M126.4 206h0M137.1 202h0M127.8 165.6h0M139.6 189.7h0M136.9 195.8h0M130.3 179.6h0M138.3 156.1h0M125.2 170.3h0M128.5 206.1h0M131.5 194.4h0M129.5 197.6h0M138.9 183.4h0M131.2 182.2h0M142.6 149.2h0M125.9 200.1h0M131.2 185.2h0M127.2 174.6h0M137.9 163.3h0M128.1 199.2h0M124.2 200.5h0M125.8 182.8h0M128.9 169.6h0M129.4 201h0M136.9 198h0M124.4 169h0M137.2 197.2h0M136.3 202.5h0M130.3 184.8h0M140.6 197.3h0M136.8 206h0M131.2 207.1h0M128.8 177.3h0M127.2 188.9h0M137.4 197.4h0M138.5 192h0M129.5 179.5h0M123.5 190.9h0M124.6 163.5h0M127.1 205.2h0M128.1 148.8h0M124.7 198.9h0M128.7 185.4h0M138.5 189.3h0M129.1 205.6h0M124.1 194.2h0M137.4 196.7h0M136.5 204.3h0M124.2 205.5h0M126.9 191.3h0M142 200h0M128.9 193.7h0M137.4 188.4h0M127.9 183.5h0M138.5 202.8h0M137.1 195h0M123.8 203.6h0M139.9 177h0M130.1 150.9h0M123.9 157.6h0M131.2 197.3h0M125.7 206.4h0M126.3 186.7h0M131.6 196.4h0M139.6 207h0M124.9 195.5h0M130.9 176.1h0M127.8 204.7h0M127.8 143.3h0M130.2 186.2h0M131.7 201.1h0M124.4 204.9h0M142.3 206.6h0M139.1 183.7h0M128.7 202.7h0M129.5 194h0M141.5 204.5h0M142.5 159h0M124.1 206.8h0M130 197.9h0M127.6 199.2h0M128.7 205.7h0M126.6 187.9h0M139.3 163.9h0M127.2 202.4h0M130 206.4h0M141.8 204.4h0M142.6 200h0M137.5 178.3h0M141.8 189h0M128.9 187.7h0M141 145.6h0M126 159.9h0M130.3 178.1h0M138.8 194.4h0M137.8 198.5h0M142.7 204.9h0M142.3 204.8h0M128.9 200.5h0M129.3 197h0M128.6 206.6h0M140.3 207.5h0M138.4 187h0M139.6 195.1h0M125.9 193.8h0M128.4 175.4h0M128.9 166.8h0M128.8 190.1h0M142.3 206.7h0M136.2 206h0M124.9 198h0M140.1 183.2h0M129.2 201.5h0M137.4 178.3h0M127.7 194.5h0M128.6 185.6h0M136.6 207.2h0M139.5 167.6h0M140 189.6h0M129.4 191.6h0M137 174h0M124.7 204.1h0M139.9 200.6h0M140.5 193.6h0M136.9 207.2h0M123.5 197.6h0M139.9 166.4h0M127.8 181.9h0M124.6 190.3h0M141.3 173.7h0M139.2 184.5h0M136.8 188.2h0M137.1 192.3h0M127 205.5h0M126.9 194.6h0M129.3 168.6h0M130.7 184.9h0M136.7 198.2h0M127.3 172h0M125.6 192.4h0M124.7 207.4h0M123.4 150.5h0M129.2 195.9h0M141.9 174h0M139.3 163.1h0M128.9 204.7h0M136.5 178.9h0M129.9 189h0M123.5 167.9h0M140.1 200.1h0M131.2 204.8h0M141.6 182.9h0M137.8 206.9h0M142.7 184.6h0M137.2 173h0M129.8 202.4h0M142.5 202.8h0M138.2 205.2h0M138 175.9h0M138.4 199.9h0M127.9 204.5h0M137.8 190h0M141.5 207.4h0M140.2 199.6h0M139.1 204.7h0M137.7 186.5h0M128.1 177.3h0M131 203.8h0M142.4 204.7h0M138.4 181.2h0M130.9 168.2h0M127 176.2h0M123.8 199.1h0M130.7 204.9h0M128.8 207.1h0M127.8 206.8h0M126.7 203.7h0M128.8 204.4h0M137.1 189.3h0M140.9 206.6h0M137.4 176.4h0M140.2 188.8h0M141.7 161.3h0M129.6 168.1h0M130 194.4h0M142.7 192.8h0M140 159.7h0M142.7 204.2h0M139.3 200h0M127 207.2h0M142.2 158.1h0M130.9 199.6h0M138.1 200.2h0M128.5 153.7h0M123.3 207h0M142.8 201.2h0M139.5 169.5h0M141.3 196.1h0M140.2 166.3h0M136.8 205.2h0M141.5 205.9h0M139.2 206.5h0M141.2 204.2h0M137.3 204h0M130.7 170.4h0M127.2 197h0M142 138.7h0M129 192.9h0M142 201h0M139.2 188.9h0M136.5 186.1h0M141.7 178.7h0M124.4 198.1h0M137.7 171.8h0M130.9 194h0M139.4 205.5h0M140.7 168.4h0M142.4 197.7h0M126.4 187.5h0M128.1 175h0M140.6 192.8h0M141.5 191.9h0M140.3 167.2h0M128.9 190.4h0M140 193.2h0M128.5 205.1h0M127.2 201h0M138 160.5h0M142.1 203.1h0M140.6 177.6h0M125.4 206.1h0M124.5 199h0M138.4 181.7h0M131.2 200.3h0M136.7 183h0M137.1 191.2h0M124 150.7h0M123.4 194.3h0M141.6 207.2h0M129 206.2h0M128.5 190.8h0M140.2 196.3h0M130.7 176.2h0M139.3 182.3h0M124.1 176.1h0M138.1 190.2h0M128 173.7h0M138.8 194.4h0M139.8 201.7h0M128.4 198.8h0M126.8 207.2h0M136.5 197.1h0M140.2 190.2h0M129.7 173.5h0M128.4 201.8h0M129.2 199.5h0M130.7 197.8h0M142.3 204.9h0M137.7 181h0M130.2 198.2h0M142.6 162.2h0M136.2 204.9h0M124.1 191.1h0M128.2 205.8h0M126.6 164h0M130.4 206.6h0M138.9 182.3h0M139.4 207.4h0M127.5 196.9h0M124.9 203h0M141.9 203.3h0M130.5 188.8h0M136.8 193.1h0M126.9 191.5h0M128.1 185.2h0M128.6 201.1h0M124.3 195.9h0M140.7 196.6h0M141.8 179.9h0M138.5 197.8h0M139 204.5h0M125.6 200.3h0M141.5 191.3h0M127.3 173.7h0M125.1 206h0M124.8 197.8h0M140.6 207.2h0M126.3 202.4h0M126.2 201.4h0M128.1 169.8h0M141.7 200.1h0M129.3 186.9h0M130.9 201.9h0M127.3 189.4h0M137.5 205.7h0M128.9 203.3h0M137.1 193h0M138.4 168.7h0M124.4 168.9h0M129.2 163.8h0M138.6 205.3h0M141.3 203.8h0M137.3 207h0M129 204.3h0M124.4 193.4h0M139.1 207.2h0M130.6 196.9h0M138.3 185.1h0M125.5 203.7h0M123.6 205.7h0M129.9 206.9h0M129.6 167.1h0M129.2 145.2h0M128 194.6h0M138 191.8h0M127 193.5h0M130.6 204.5h0M131.3 202.6h0M138.6 182.6h0M139.2 189h0M137.9 191.4h0M140.2 177.4h0M130.4 195.2h0M129.5 207.4h0M142.4 191.6h0M127.6 199.4h0M129.9 191.9h0M138.4 200h0M139.3 203.9h0M124.8 199.6h0M137.1 207.1h0M124.4 205.6h0M140.2 163.4h0M129.6 181.6h0M140.4 171.3h0M125.7 203.4h0M140.4 196h0M131 203.2h0M127.8 198.9h0M138.1 171.2h0M123.7 202.8h0M124.3 207.2h0M142.4 180.9h0M126.5 199.3h0M129.7 206.1h0M125.4 187.4h0M128.3 184.3h0M139.3 198h0M139.8 198.2h0M127.3 205.1h0M136.8 184.8h0M127.3 193.1h0M138.9 200.8h0M137.7 186.7h0M124 134h0M127.5 174.9h0M130.7 203.7h0M141.5 207.4h0M140.2 207.5h0M131 191.6h0M136.8 196.6h0M126.8 201.7h0M129.6 200h0M140.6 186.3h0M142.4 173.7h0M140.3 198.9h0M130.8 204.6h0M138.5 187.8h0M142.4 202.4h0M139.2 188.5h0M142.7 174.6h0M124.4 145.8h0M123.8 178.1h0M131.7 206.2h0M136.6 179.2h0M139.7 188.7h0M139.5 177h0M124.6 200.4h0M140.1 202.3h0M142.1 171.8h0M125.7 154.8h0M124.8 138.1h0M138.5 172.9h0M129.8 196.7h0M127.3 192.9h0M140.4 188h0M126.2 158.8h0M138.7 204.9h0M129 154h0M130.4 197.6h0M139.3 177h0M127.4 204h0M127.2 206.3h0M136.6 194.5h0M139.5 201.5h0M140.5 168.1h0M129.1 188.2h0M124.4 194.3h0M140.9 203.4h0M128.6 205.5h0M128.7 181.2h0M130.8 181.7h0M130.6 196.9h0M128.8 201.7h0M139.2 198.2h0M126.8 188.9h0M140 199.5h0M129.7 200.3h0M130.1 194.9h0M142.1 200.6h0M141.4 207.5h0M140 201.8h0M137.2 201.1h0M124.5 141.4h0M138.8 202.9h0M126.3 204h0M141.7 202.8h0M142 206h0M129.5 179.7h0M123.4 182.4h0M126.1 206h0M136.8 179.7h0M126.2 182.8h0M136.8 205.9h0M126.9 204.3h0M137.8 205.6h0M128.3 190.2h0M140.8 198.8h0M141.1 190.5h0M137.2 201.6h0M141.8 195.4h0M126.7 197.6h0M141.3 204.7h0M139.2 207.2h0M138 201.3h0M124.2 184.1h0M141.7 125.2h0M129.1 207.3h0M141.8 195h0M125.7 188.3h0M128.5 170.6h0M129.7 200.8h0M138.7 198.3h0M138.7 190.9h0M141.7 204.8h0M131.4 196.2h0M129.4 191.3h0M139.8 207.2h0M130.8 187.3h0M137.3 206.2h0M129.5 203.8h0M126.3 129.7h0M137.2 159.9h0M127.4 203.4h0M140.4 194.7h0M126.3 185.2h0M136.7 192h0M123.8 201.7h0M126.6 201.1h0M141.6 184.1h0M139 201.4h0M131.4 204.7h0M139 190.7h0M142 194.8h0M126.3 197.9h0M129.6 176.3h0M129.6 203.1h0M139.4 179.7h0M129.8 175.7h0M141.7 203.9h0M141.5 203.4h0M140.1 181.9h0M141.3 207.2h0M124.9 203.1h0M128.5 201.9h0M140.1 192.8h0M138.9 206.9h0M140.7 201.5h0M125.8 200.7h0M124.9 196.6h0M140.2 169h0M129.8 195.6h0M141.8 194.3h0M128.9 158.9h0M127.8 156.3h0M142.4 144.2h0M137.9 191.4h0M139.2 204.6h0M131.3 202.4h0M140.7 202.5h0M128.8 155.1h0M129.8 170.9h0M142.4 201h0M140.2 187.3h0M142.2 200.9h0M129.1 203.2h0M126.8 192.2h0M141 158h0M138.3 157.4h0M142.1 183.9h0M128.8 181.3h0M123.4 201.7h0M123.2 198.3h0M137.7 193.1h0M126.2 190.7h0M124.8 198.4h0M139.1 200.4h0M130.5 202.4h0M137.4 184.9h0M141.3 197.6h0M126.7 166.5h0M127.3 203.5h0M124.7 205.2h0M138.6 174.2h0M136.6 203.3h0M138.7 192h0M140.8 61.6h0M126.6 106.2h0M138 103.7h0M126.4 115.4h0M141.7 58.5h0M141.4 69.4h0M127.6 88.9h0M140.2 34.9h0M123.6 138.1h0M140.3 139.5h0M124.6 132.8h0M142.4 140.8h0M142.5 138h0M126.1 133.8h0M125.6 133h0M139.9 140.9h0M138.3 110h0M139.2 122.3h0M126.8 49h0M124.2 37.2h0M127 138.3h0M138.7 62.2h0M124 93.7h0M142.8 132.4h0M142.6 87h0M123.5 120.6h0M141.4 131.9h0M138.1 110.5h0M141.6 45.5h0M142.4 138h0M126.7 58.2h0M123.2 120h0M142.4 132.9h0M138.5 132.2h0M139.9 139.9h0M142.7 102.2h0M141.8 90.5h0M124.1 94.1h0M140.3 121.1h0M142.6 68.3h0M142.4 137.4h0M127 95.2h0M140.9 93.1h0M142.7 98.2h0M123.5 115h0M142.4 91.9h0M138.3 125h0M142.6 123.5h0M139 133.9h0M142.6 92.5h0M123.8 102.6h0M123.8 38h0M141.9 34.1h0M141.7 94.3h0M138.6 109.7h0M125.5 102h0M140.1 140.2h0M126.1 110h0M123.7 109.7h0M124.7 136.1h0M139.4 42.8h0M124.7 44.3h0M140.3 86h0M138.8 82.6h0M124 34.6h0M142.5 141.6h0M126.1 49.7h0M142.2 112.6h0M128.4 141.6h0M126.2 125.5h0M125.4 109.3h0M125.5 112.4h0M123.8 137.1h0M127.7 133.5h0M140.8 102.4h0M123.7 138.5h0M142.1 66.9h0M124.1 98.4h0M139.6 89.1h0M142.1 83.6h0M124 54.2h0M140.8 141.1h0M138.9 61.9h0M139.1 125.5h0M123.2 122.3h0M124.5 141.5h0M125.2 65.5h0M141 109h0M139.3 34.9h0M137.3 140.1h0M123.5 80.9h0M138.1 140.2h0M123.4 55.9h0M141.7 140.9h0M139.4 88.4h0M123.4 53.7h0M142.7 128.5h0M123.4 109.8h0M139.1 49.5h0M138.2 131.7h0M139.9 128.9h0M124.2 96h0M141.2 135.8h0M141.6 103h0M138.8 125.6h0M142.4 103.2h0M126.3 134h0M124.6 136h0M125.5 118.7h0M123.4 101.6h0M140 124.2h0M138.5 127.6h0M140.7 115.6h0M125.7 121.6h0M125.8 138.7h0M138.3 121.8h0M138.8 106.7h0M129.6 136.9h0M126 96.3h0M126 120.2h0M141.5 102.5h0M139.9 95.7h0M142.3 104.6h0M125.4 113.4h0M129 117.5h0M123.3 135h0M124 100.8h0M125.3 114.6h0M128.2 107.4h0M141.8 113.1h0M129.4 137.9h0M141.1 132h0M129.5 133.8h0M139.9 115.4h0M125.3 119.7h0M128.6 97.4h0M124.8 126h0M124.8 125.2h0M138.3 131.6h0M127.7 113.6h0M126.9 133.7h0M139.9 133h0M124.5 132.7h0M141.8 124.6h0M128.7 101.9h0M124.2 97.8h0M138.8 118.1h0M139.1 129h0M125.4 105.1h0M142.4 135.9h0M124 122h0M139.1 106.6h0M123.8 134.5h0M124.2 135.9h0M138.9 109.3h0M125.1 129.6h0M139.9 108.7h0M141.9 123.6h0M140.9 109.9h0M123.9 105.3h0M125.8 123.5h0M127.6 119.5h0M141.4 110.4h0M126.3 111h0M139.4 114.7h0M125.7 119.1h0M128.2 122.3h0M127 130.6h0M141.4 99.7h0M126.8 110.4h0M126.2 124.3h0M141 100.9h0M142.3 121.3h0M140.4 102.1h0M123.5 131.6h0M124.6 33.9h0M125.8 33.9h0M142 33.9h0M127.5 33.9h0M124 33.9h0M125 33.9h0M128.1 33.9h0M140.6 33.9h0M123.9 33.9h0M127.9 33.9h0M140.1 33.9h0M142.1 33.9h0M141.8 33.9h0M141.5 33.9h0M126.6 33.9h0M126.1 33.9h0M127.3 33.9h0M126 33.9h0M125 33.9h0M126.6 33.9h0M127.8 33.9h0M126.6 33.9h0M140.1 33.9h0M127.4 33.9h0M124.1 33.9h0M143 33.9h0M125.3 33.9h0M126.7 33.9h0M123.8 33.9h0M125 33.9h0M126.5 33.9h0M139.8 33.9h0M127.7 33.9h0M142.6 33.9h0M124.1 33.9h0M141.6 33.9h0M141.9 33.9h0M127.7 33.9h0M127 33.9h0M127.9 33.9h0M125.8 33.9h0M140.8 33.9h0M141 33.9h0M141.3 33.9h0M139 33.9h0M125.6 33.9h0M124.7 33.9h0M128.1 33.9h0M142.5 33.9h0M127 33.9h0M127.5 33.9h0M140.1 33.9h0M125 33.9h0M125.8 33.9h0M142.8 33.9h0M139.2 33.9h0M143 33.9h0M138.8 33.9h0M125.3 33.9h0M127.6 33.9h0" stroke="#555555" stroke-width="1.7" stroke-linecap="round" fill="none"/>
<path d="M108.8 200.7h0M104.6 203.4h0M90.1 148.2h0M95.7 172.8h0M98.1 167.2h0M119.8 192.2h0M101.1 179.5h0M106.1 187.9h0M119.2 188.6h0M101.4 200.7h0M114.1 159.2h0M118 188.6h0M104.1 192.6h0M114.9 151.7h0M106.1 192.5h0M112.7 191.2h0M111.9 195.7h0M100.7 206h0M98.4 186.3h0M119.5 184.5h0M100.4 199.6h0M113.4 197.6h0M120.7 203h0M96.7 192.2h0M110.6 198.8h0M119.1 153.3h0M119.9 138.4h0M119.9 206.5h0M79.6 204.8h0M117.2 182h0M103.1 196.6h0M108.6 202.1h0M116.7 195.8h0M113 152.2h0M108.7 201.2h0M100.5 180.8h0M109.2 200.5h0M113.6 197.1h0M97 183.6h0M118.6 187.8h0M113.6 196.9h0M102.5 206h0M119.7 204h0M100.6 204.2h0M94.8 205.8h0M110.3 202h0M101 206h0M80.8 158.4h0M118.1 186.3h0M101.7 202.4h0M97.3 191h0M108.8 179.4h0M119.2 192.3h0M120.7 190.9h0M115.2 194.2h0M101.6 179.9h0M114.2 201.9h0M117.4 192.7h0M102.4 198.8h0M113.2 161.9h0M100.5 206.2h0M100.4 183.5h0M113.5 205.1h0M105.9 196.7h0M85.8 184.6h0M111.7 181.3h0M102.3 171.3h0M108.1 184.7h0M97 195.1h0M92.2 200.2h0M99.9 197.4h0M106.6 180h0M105.6 192.3h0M104.4 193.2h0M120.5 200.7h0M118.6 205.2h0M120.7 199.7h0M111.5 201.9h0M101 205.6h0M105.1 205.4h0M98.9 205.2h0M107.3 159.5h0M116.3 201.2h0M119.7 206.1h0M111.5 196.3h0M120.5 199.8h0M99.9 206.7h0M90.4 196.6h0M99 202.1h0M89.1 205.7h0M103.3 180.9h0M106 161h0M99.2 197.9h0M117.9 198.7h0M120.7 164.3h0M116.1 201.4h0M117.3 205.8h0M99.1 133.9h0M91.7 195.4h0M99.5 138.8h0M110.2 181.8h0M103.6 184.7h0M115.3 179.6h0M100.9 196h0M110.7 180h0M104.1 180.2h0M106.5 200.3h0M102.1 198.3h0M84.8 193.3h0M92.7 195h0M90.6 196.8h0M113.6 161.9h0M98 205.1h0M120.9 200.6h0M109 185.6h0M112.9 187.8h0M108.2 199.4h0M117.8 157.5h0M119.5 188.2h0M111.2 203.2h0M96.7 190.3h0M102.2 183.9h0M101.4 175h0M101.9 175.4h0M103.5 206.5h0M114.1 165.9h0M92.9 197h0M109.9 192.4h0M111.3 204.5h0M104.3 187.7h0M115.6 206h0M118 205.4h0M102.5 186.7h0M121.2 181.5h0M95.6 195.2h0M95.5 192.1h0M120.1 199.1h0M110.3 205.8h0M104.6 204.1h0M106.1 203.2h0M97.5 206.5h0M112.7 193.6h0M99.1 160.5h0M119.8 160.8h0M120.5 198.4h0M105.3 151.6h0M100.6 196.7h0M101.5 190.1h0M109.7 157.1h0M102 186.4h0M103 188.9h0M114.1 185.2h0M105.6 204.6h0M96.8 200.4h0M118.9 192.7h0M114.9 191.6h0M107.6 206.6h0M118 206.3h0M107.6 168.7h0M105.6 137.3h0M109 199.8h0M107.8 197h0M100.8 185.6h0M121.6 198.3h0M106.5 153.6h0M96.8 191.3h0M111.8 198.5h0M114.5 201.4h0M101.2 187.5h0M99.8 192.8h0M106.9 194h0M96 204.9h0M119.8 164.1h0M120.7 184h0M114.1 191.4h0M105.3 203.2h0M109.9 199.7h0M99.6 200.4h0M100.3 200.1h0M115.6 201.9h0M117.6 187.3h0M103 156.7h0M84.7 176.2h0M83.5 191.8h0M118.3 205.6h0M120.9 151h0M115.6 192.2h0M118.1 185.3h0M98.1 196.4h0M98.4 201.7h0M106.1 191.1h0M112.5 201.3h0M119.4 159.5h0M113.6 182.6h0M111.6 203.7h0M90.1 197.3h0M99.2 206.1h0M98.3 190.5h0M100.9 187.1h0M86 205.7h0M117.3 183.7h0M118.1 205.8h0M97.8 200.7h0M101.7 204.4h0M101 181.1h0M98 189.4h0M116.4 191.6h0M101 205.3h0M96.3 184.2h0M99.1 206.2h0M103.5 204.7h0M120.9 171.3h0M118.2 195.7h0M115.8 190.8h0M112.9 161.3h0M110.9 200.9h0M89.4 204.2h0M98.5 170.2h0M107.3 204.8h0M101.2 154.2h0M112.5 199.8h0M120.1 194.6h0M84.6 195.4h0M118.4 178.1h0M116.7 180.1h0M97.4 179h0M108.2 197.5h0M114 206.3h0M121.7 205.4h0M112.1 175.6h0M106.7 173.1h0M95.7 196.3h0M120.5 168.9h0M107.5 203.6h0M116.1 176.3h0M99.4 171h0M96.7 192.2h0M111.1 192h0M99.2 180.2h0M120.7 204.8h0M100.2 201.8h0M119.6 197.1h0M114 179.7h0M86.9 150.4h0M113.7 195.6h0M101.9 205.3h0M114.6 156.2h0M117.9 197.2h0M113.1 196h0M116.5 202h0M96.4 183.8h0M99.5 199.4h0M86.7 178.6h0M89.2 203.9h0M121.1 190.1h0M115.9 170.3h0M120.5 204.2h0M119.1 176.1h0M121.7 179.6h0M102.3 203.1h0M120.9 205.8h0M98.4 190.7h0M114.4 202.1h0M115.2 196.4h0M90.8 194.7h0M119.7 203.4h0M94.2 163.3h0M116.2 185.9h0M90.4 182.5h0M108.9 187.6h0M119.8 158.6h0M86.1 182.5h0M119.6 198.7h0M109 206.5h0M103.3 158.5h0M102.1 200.9h0M102.3 206.5h0M117.5 177.4h0M102.7 201.8h0M114.8 135.7h0M120.6 135.1h0M117.2 188.7h0M100.1 202.2h0M94.8 204.1h0M96.8 203.8h0M103.8 197.8h0M116.9 184.7h0M99.1 187.2h0M117.4 200.3h0M101.3 197.6h0M117.1 196h0M111.9 142h0M116.8 195.4h0M97.5 189.1h0M94.5 204.3h0M88.2 172.3h0M96.2 204.9h0M114.6 205.7h0M116.1 186.2h0M121.6 204.1h0M113.4 205.2h0M120.9 205.8h0M103 187.6h0M100.1 205.3h0M101.4 200.3h0M120.8 190.7h0M111.2 188.8h0M108.2 186.4h0M84.2 196.8h0M114 204.8h0M84.1 204h0M103.1 205h0M102.5 171.4h0M114 183.5h0M99.1 203.8h0M117.2 172.4h0M98.8 204.2h0M102.7 184.4h0M115.6 197.5h0M104.1 206.2h0M112.4 200.7h0M101.1 183.9h0M104.8 194.3h0M119.6 178.3h0M107.2 183h0M102.2 192.9h0M111.5 203.8h0M99.7 204.8h0M81.8 198.2h0M111.5 202.9h0M100.1 188h0M99.3 201.4h0M89.4 184.2h0M117.3 201.3h0M108.7 199.9h0M81.5 184h0M97.5 190.5h0M100.6 205.3h0M99.2 200.3h0M115.2 196.1h0M107.7 205.8h0M97.5 204.2h0M93.6 163h0M97.9 204.8h0M115.7 148h0M109.3 201.1h0M105.1 154.8h0M97.9 186.3h0M121 195.8h0M115.9 175.3h0M97.2 176.8h0M105.3 205.1h0M109.1 181.3h0M115 197.3h0M107 195h0M86.7 204.5h0M109.8 159.2h0M114.6 183.6h0M114.5 175.8h0M115.3 206h0M114.9 133.7h0M121.4 186.8h0M121.3 184.2h0M115.7 203.8h0M110.4 175h0M99.7 197.7h0M115.4 199.5h0M120.9 199.3h0M99.4 182.5h0M103.1 204.9h0M117.3 206.3h0M90 180h0M99.9 199.5h0M94.2 195.3h0M110.5 203.5h0M112.2 168.4h0M97 205h0M98.8 199.4h0M92.1 178.8h0M116.1 169.8h0M107.7 203.8h0M111.3 203.4h0M117.6 181.4h0M103.4 205.8h0M119.2 184.9h0M113.4 199.7h0M112.2 194.8h0M121 186.4h0M108.8 180.6h0M100.6 199.8h0M108.8 154.8h0M101.7 189.5h0M110.7 196.3h0M120.8 181.1h0M102.4 195.6h0M113.9 205h0M102.7 205.3h0M100.4 171.6h0M105.1 187.4h0M112.3 199.4h0M100.9 175.6h0M92.7 183.2h0M97.5 195h0M119.3 180.3h0M97.7 192.5h0M99.3 181.6h0M93.8 166.7h0M120.3 187.2h0M92.7 173.2h0M109.6 197.1h0M92.5 195.8h0M100.3 154.2h0M118.8 205.5h0M113.9 176.5h0M107.3 190.7h0M104.6 186.4h0M108.5 174.4h0M117.1 201.2h0M117.4 188.7h0M98 200.3h0M98.5 169.5h0M112.8 205.2h0M101.8 201.6h0M103.6 204.1h0M110.9 175.2h0M97.3 197.2h0M98.7 204.6h0M100.8 201.7h0M97.5 200.1h0M121.4 202.3h0M111.1 204.7h0M100.9 183.7h0M119.4 164.1h0M106.3 203h0M89.3 189.9h0M112.5 151.9h0M116.6 200.4h0M102.5 200.8h0M96.7 191.8h0M121.4 202.8h0M121.5 189.8h0M91.6 193.3h0M111.6 137.3h0M94.6 168.8h0M120.8 186.5h0M118 192.8h0M117.6 204.2h0M114.1 173.4h0M113.3 177.7h0M118.2 179.5h0M107.7 143.5h0M101.1 167.1h0M112.4 198.4h0M105.7 160.1h0M104.4 171.8h0M117 185.2h0M107.8 194h0M119.1 182.7h0M114.5 149.3h0M111.8 132.5h0M111.5 166.7h0M119.9 173.7h0M110.9 181.4h0M119.7 193.4h0M116.3 192.3h0M107.1 187.6h0M118.1 178.5h0M110 138.7h0M103.2 196.6h0M120.6 197.4h0M109.4 192.4h0M112.8 144.1h0M121.3 172.6h0M107.2 189.9h0M114.6 180.7h0M119.9 206.6h0M108.3 148.2h0M120.5 203.6h0M120.9 181h0M109.3 191.1h0M118.9 195h0M100.3 183.9h0M97.2 196.3h0M121.1 197.2h0M121.6 178h0M96 141.9h0M111.4 176.9h0M121.4 139.1h0M98.1 166.6h0M112.2 197.7h0M99.6 182.4h0M104.4 195.3h0M105.4 157.9h0M119.9 197.8h0M104.2 198.3h0M113.5 205.5h0M119.2 179.6h0M107.2 174.1h0M120 200.8h0M119.1 203h0M112.7 199.2h0M101.6 145.6h0M113.4 203h0M114.5 186.3h0M106.6 204.7h0M104.3 191.3h0M109.7 205.1h0M102.5 175.8h0M117.6 184.6h0M107.2 191.3h0M119.4 201.7h0M120.3 156.6h0M97.4 193.3h0M102.2 195.2h0M97.8 203.1h0M113.8 137.4h0M104.7 168.7h0M86.3 200.7h0M107.6 196.2h0M118.7 151.3h0M120.8 162.1h0M110.1 193h0M118.2 200.6h0M114.7 196.1h0M101.5 185.8h0M113.4 201.3h0M117.3 202h0M114.9 156.9h0M108.7 205.7h0M118.2 186.4h0M119 177.7h0M108 145h0M112.7 167.5h0M114.5 181.6h0M106.6 144.9h0M78.4 195.1h0M112.3 145h0M108.7 202.2h0M112 202.4h0M111.3 195h0M117.6 198.7h0M86.6 175.4h0M119.9 159.8h0M118.1 174.3h0M120.5 149.2h0M112 203h0M107.3 185.4h0M99.4 179.9h0M112.5 202.5h0M104.3 119.1h0M83.6 206.1h0M115 170.8h0M117.8 194.1h0M121.5 175.5h0M112 196.5h0M100.6 155.6h0M111.3 204.7h0M119.1 195.7h0M118.9 199.6h0M102.8 203.8h0M118 126.4h0M98.8 200.9h0M97 170.9h0M97.2 198.6h0M114.1 206.2h0M115.7 142.8h0M120.3 166.8h0M114.4 193.3h0M105.2 202.3h0M107.7 126.7h0M120.5 183h0M96.9 205.4h0M89.4 188.2h0M50.6 201h0M115.3 179h0M107.3 154.8h0M110.3 191.3h0M112.4 152.7h0M80.3 200.3h0M101.7 204.6h0M114.3 194.4h0M100.1 205.8h0M120.2 192.8h0M109 191.6h0M112 203.6h0M120.7 163.3h0M118.4 198h0M115.1 195.6h0M93 180.3h0M103.9 200.8h0M107.3 202.8h0M104.7 166.2h0M115.5 201.3h0M102.5 178.6h0M101.5 138.7h0M87.9 190.8h0M120.9 173.7h0M56.2 189h0M116.4 192.6h0M95.7 186.1h0M101.8 205.5h0M103.2 199.7h0M116.2 151.1h0M98 157.7h0M120.3 136.7h0M100.3 145.4h0M99.4 130.6h0M118.3 188.1h0M107.8 199.6h0M117.7 188.8h0M107.7 203.1h0M96.4 206.2h0M93.2 200.9h0M118.8 205.9h0M118 170.8h0M114.2 166h0M109.9 198.6h0M117.9 189.8h0M116.1 126.3h0M89.1 173.5h0M118.3 199.4h0M98 184.8h0M118.5 176h0M100.6 202.3h0M112.6 198.8h0M110 193.2h0M115.3 163.8h0M114.4 194.8h0M113 165.9h0M77 191.7h0M120.9 143.3h0M119.5 185.6h0M115.4 159.8h0M115.9 151.9h0M94.5 177.2h0M113.5 168.1h0M119.3 202.4h0M85.3 198.3h0M102.5 176.4h0M109.5 201.9h0M105.9 188h0M113.1 198.6h0M84.8 179.8h0M107.4 197.3h0M104.5 185h0M117.3 130.3h0M109.9 147.6h0M86.6 180.2h0M99 197.9h0M113.5 197.5h0M107.3 195.9h0M112.8 163h0M94.1 146.8h0M118.9 150.3h0M112 126.1h0M111 191.9h0M118 189.7h0M108.6 200.5h0M112.1 183.3h0M108.6 129h0M120.4 171.4h0M118.2 163.1h0M96.1 149.7h0M107.6 191h0M89 198h0M118.2 195.1h0M119.7 190.5h0M115.7 194.1h0M106.8 202.4h0M120.4 187.5h0M99.1 120.3h0M102.8 196.2h0M104.8 180.3h0M120.8 180.6h0M96.6 204.4h0M114.1 205.2h0M104.8 163.6h0M109.5 201.6h0M112.8 170.1h0M115.3 166.8h0M118 196.5h0M92.9 173h0M119.5 144.4h0M103.1 202.7h0M91.9 178.5h0M108.5 168.8h0M119.7 180.9h0M112.3 205.5h0M105.3 198.3h0M106.7 205.4h0M120 203.5h0M91.1 174.4h0M113.3 199.2h0M120 185.6h0M109.6 192.9h0M115.9 206.4h0M117.8 195.5h0M116.4 180.3h0M116.6 184.6h0M115.8 175.1h0M113.1 200h0M121.4 196.1h0M118.2 198.8h0M120.9 174.7h0M114.8 178.2h0M118.2 154.6h0M118.5 192h0M106.8 176.5h0M112.7 196.2h0M119.6 189.6h0M94.9 175.4h0M104.2 179.4h0M112.7 132.2h0M89.5 202h0M103.9 191.5h0M114.4 127.9h0M117.3 172.2h0M119.2 206.1h0M121.1 198.7h0M105.3 186.3h0M114.6 148.9h0M106.3 134.4h0M99.1 153.9h0M84.1 176.6h0M120.6 188.9h0M121.5 169.4h0M109.1 132h0M121.6 161.3h0M113.3 188h0M115.5 149.2h0M115.3 156.7h0M84.3 178.7h0M117.4 184.6h0M110.2 144.7h0M112.1 173.5h0M103.6 201.2h0M121.2 200.5h0M111.5 190.3h0M109.3 196.7h0M120.5 187.1h0M84.5 197.6h0M117.1 172.9h0M102.9 199.9h0M107.1 134.9h0M107.7 204.3h0M118.2 175.4h0M121.5 162.1h0M111.7 201.6h0M121.4 196.2h0M119.9 184.6h0M89 182.5h0M106.9 194.7h0M102.2 163.3h0M114.2 186.1h0M121 174.1h0M92.8 184.3h0M105.8 205.2h0M112.9 180.2h0M120.6 196.4h0M121 173.3h0M121 125.9h0M119.7 165.2h0M115 144.1h0M105.9 196.1h0M102.4 154.9h0M117.3 188h0M121.6 204.9h0M105.3 195.2h0M119.9 196.7h0M106.8 151.7h0M96.2 194.3h0M114.6 137h0M117.6 189.9h0M108.1 205.1h0M118.6 182.9h0M109.9 202.8h0M117.6 153.5h0M115.1 205.2h0M118.8 190h0M109.1 163.9h0M118.7 197.2h0M85.9 165h0M116.9 163.4h0M52.4 192.9h0M94.3 193.9h0M115.2 165.1h0M98.5 193.3h0M119.9 204.5h0M93.7 182.5h0M114.5 196.8h0M105.8 174.8h0M111.9 203.8h0M112.4 200.2h0M112.8 165.1h0M119 194.9h0M121.2 156h0M117.5 139.2h0M115.5 173.9h0M110.2 167.9h0M98.5 196.7h0M118.1 187.7h0M106.7 191h0M119.7 200.9h0M104.1 205h0M118.1 203.6h0M103.4 194.1h0M111.6 205.6h0M109 175.5h0M104.1 206.4h0M116.3 157.7h0M72.7 198.2h0M84.2 132h0M103.1 175.3h0M118.7 166.1h0M103.3 139.9h0M119.1 185.7h0M110.8 201.4h0M100.2 190.6h0M105.6 161.6h0M107 194.7h0M115.5 203.8h0M113.5 192.4h0M121 173.4h0M118 188.8h0M91.9 202.2h0M121.6 159.7h0M118.5 130.1h0M89.5 133.2h0M110.6 199.2h0M91.1 182.4h0M104.1 176.3h0M120.1 165.7h0M106.9 203.6h0M107.2 198.7h0M111.9 173h0M121.6 173.6h0M104.1 202.3h0M117.4 155.8h0M80.7 182.5h0M120.3 197.9h0M120.2 205.3h0M111.3 190h0M110.2 156h0M70.6 175.7h0M114.5 167.9h0M114.6 190.3h0M121.6 191.6h0M108.7 180.7h0M111.3 203.8h0M94 169.6h0M110.8 188.6h0M96.4 205h0M119.6 173.1h0M110.5 161.3h0M71.9 191.5h0M106.3 140.1h0M119.7 200.3h0M115.1 204.4h0M106.3 142h0M113.1 169.7h0M115.4 170.8h0M119.9 193.5h0M86.8 142h0M102.9 206.1h0M118.1 193.1h0M112.8 151.3h0M113.7 141.9h0M116.5 176h0M108.1 119.4h0M112.9 141h0M112.9 176.9h0M120.3 205.6h0M92.8 206.3h0M106.3 160.5h0M111.7 144.1h0M113.4 167.4h0M121.2 198.2h0M108.2 195.2h0M111.9 153.8h0M111.1 182.5h0M120.6 189h0M116.3 204.6h0M111.6 204.8h0M119.1 176.9h0M120 202.2h0M93.6 194.1h0M119.6 206.3h0M119 199.9h0M115.3 198.3h0M85.9 176.7h0M121.6 206.2h0M116.3 206.1h0M114.3 148.7h0M90.9 160h0M115.4 152.9h0M114.4 131.9h0M121.6 200.3h0M108.7 200.1h0M117.8 195.3h0M90.9 205.4h0M93.9 171.2h0M98.9 199.2h0M107.7 197.9h0M121.6 182.5h0M116.8 199.5h0M114.8 183.6h0M119.1 201.2h0M110.4 183.1h0M108.3 195.7h0M107.9 199.2h0M116.5 195h0M110.9 164.5h0M74.5 171.5h0M105.9 199.2h0M112.8 185.1h0M119.8 187.3h0M115.8 152.7h0M106.5 188.1h0M117.6 205.5h0M114.6 197.1h0M97.3 206.4h0M116.5 190.2h0M117.5 177.6h0M115 205.1h0M97.8 205.6h0M96.5 177.6h0M114.9 170.2h0M120.4 200.8h0M120.4 173.6h0M86.8 190.2h0M118.7 168.7h0M100.6 200.7h0M118.1 205.2h0M115.8 205.4h0M113.6 191.5h0M107.1 190.2h0M98.6 200.1h0M119.4 192.1h0M111.4 185.5h0M109.5 202.8h0M98.1 184.4h0M112.9 158.4h0M120 170.8h0M114.3 186.5h0M119.7 148.3h0M104.8 158h0M116.9 191h0M89 197.9h0M120 200.7h0M105.8 168.7h0M119.7 198.6h0M115.8 139.5h0M121 201.9h0M100.4 205.8h0M107.5 174.6h0M114.6 174.1h0M113 196.4h0M115.1 193h0M119.2 195.8h0M119.7 162.8h0M121.1 188.8h0M101.8 191.9h0M120.7 193.7h0M118.1 198.8h0M110.8 161.1h0M80.2 170.3h0M120 167.9h0M121.6 188.8h0M109.3 204.8h0M111.4 202h0M115.8 197h0M116.5 203.6h0M118 178.6h0M99.1 169h0M107.9 191.3h0M112.2 185.1h0M120.6 164.8h0M94.6 164.5h0M72.7 138.9h0M121 193.2h0M115.6 75.7h0M80.6 90.1h0M109.5 82.9h0M89.4 66.7h0M119.8 128.1h0M114.1 71.2h0M90 115.7h0M77 47h0M116.7 79.5h0M93 71.8h0M121.7 42.2h0M121.7 73.6h0M119.1 88.5h0M112.9 107.3h0M118.7 143.3h0M121.3 58.4h0M94.3 66.5h0M121.6 132.5h0M114.8 97.2h0M89.3 135.8h0M117.3 143.9h0M121.3 64h0M116.1 109.5h0M89.7 135.8h0M60.1 61.5h0M119.2 125.7h0M94.1 115.6h0M120 61.6h0M95.3 58.9h0M108.5 113.8h0M110.7 141.1h0M86.6 94.8h0M63.1 105.5h0M107 128.5h0M101.3 132.3h0M87.6 119.2h0M97.6 76h0M103.5 55.8h0M79.3 63.3h0M99 137.2h0M96.3 111.4h0M118.4 64.9h0M89.4 144h0M121.6 123.7h0M117 105.1h0M89.7 109.9h0M119.3 80.4h0M118.7 141h0M114.2 73.1h0M121.7 50.1h0M99.3 42.5h0M107.8 141.7h0M89 125.3h0M91.8 103.1h0M121.7 45h0M89.6 81.1h0M100.6 127.1h0M112.3 38.2h0M61 126.2h0M101.4 97.6h0M120.4 94.1h0M112.1 91.4h0M119.2 41.5h0M92.8 144.1h0M90.7 88.8h0M121.2 77.4h0M80.3 69.2h0M95.2 66.3h0M92.4 114.6h0M112.9 113.2h0M109.3 137h0M108.5 93.1h0M89.6 39.5h0M114.9 140.5h0M120.3 128.1h0M119.3 47h0M104.7 93.2h0M104.9 56.2h0M89 111.3h0M112.4 132.1h0M118.7 49.9h0M112.1 142h0M114.6 117.4h0M119.8 51.5h0M104.3 132h0M117.2 48.3h0M90.5 93.9h0M109.6 99.8h0M76.6 142.4h0M117.9 44.1h0M100.3 47.3h0M121.4 93.8h0M74.6 55.9h0M112.8 91.9h0M59.7 130.4h0M103.1 75.2h0M113.7 105.4h0M104.1 68.4h0M116.4 121.1h0M97.1 138.3h0M110.5 119.3h0M89.4 83h0M116.1 114h0M79.6 57.7h0M110.4 88.2h0M107.2 136h0M109.3 138.2h0M116.2 70.4h0M112.7 79.1h0M108.8 115.3h0M91.7 136.9h0M69.3 121.7h0M109.6 87.9h0M115.7 132.5h0M104.7 51.2h0M121.5 120.9h0M99.8 138.6h0M121 139.1h0M118.3 135.5h0M108.7 91.1h0M24 53.4h0M49.8 44.1h0M71.4 66.1h0M76 69.7h0M51.9 160.3h0M56.5 138h0M83.2 201.1h0M49.6 140.5h0M71.9 149.7h0M52.8 172.9h0M68.7 165.4h0M71.6 205h0M88.4 173.3h0M62.8 169.1h0M75.7 182.3h0M73.9 141.3h0M100.5 33.9h0M119.2 33.9h0M102.2 33.9h0M103.2 33.9h0M120.2 33.9h0M114.2 33.9h0M115.8 33.9h0M117.4 33.9h0M119.6 33.9h0M112.4 33.9h0M118 33.9h0M111.8 33.9h0M107.6 33.9h0M111.4 33.9h0M111.3 33.9h0M110.3 33.9h0M106.8 33.9h0M104.6 33.9h0M111.3 33.9h0M109.8 33.9h0M104.6 33.9h0M117.4 33.9h0M115.2 33.9h0M121.4 33.9h0M109.5 33.9h0M111 33.9h0M108.5 33.9h0M108.8 33.9h0M113.2 33.9h0M104.9 33.9h0M118.7 33.9h0M121.5 33.9h0M100.3 33.9h0M114.7 33.9h0M104.1 33.9h0M109.9 33.9h0M118.9 33.9h0M118.3 33.9h0M100.7 33.9h0M106.6 33.9h0M119.1 33.9h0M99.8 33.9h0M112.4 33.9h0M105.5 33.9h0M119.6 33.9h0M102.8 33.9h0M105.9 33.9h0M106.9 33.9h0M100.6 33.9h0M116.6 33.9h0M110.3 33.9h0M103.5 33.9h0M115.5 33.9h0M99.7 33.9h0M103.8 33.9h0M111.5 33.9h0M107.1 33.9h0M107.9 33.9h0M108.3 33.9h0M105.6 33.9h0M97.8 33.9h0M95.5 33.9h0M93.8 33.9h0M90.9 33.9h0M88.1 33.9h0M85.2 33.9h0M79.5 33.9h0M77.3 33.9h0M69.3 33.9h0M64.7 33.9h0M61.3 33.9h0M57.9 33.9h0" stroke="#1c701c" stroke-width="2.0" stroke-linecap="round" fill="none"/>
<path d="M145.3 182.5h0M151.4 195.7h0M145.8 202h0M160.1 177.9h0M149.2 163.3h0M184.1 205h0M149.1 148.3h0M158.8 173.3h0M149 200.6h0M164.2 205.1h0M155.8 127.8h0M145 201h0M144.9 202.9h0M144.8 148.3h0M151.7 185.6h0M149.9 202.7h0M152.3 165.8h0M153.3 171.7h0M159.5 204.4h0M181.8 190.4h0M154 148.1h0M154.5 173.8h0M160.9 132.6h0M144.6 150.6h0M145.2 179.9h0M147.7 158h0M150.6 148.1h0M147.9 170.1h0M149.2 159h0M160.2 196.3h0M157.8 198.5h0M147.9 193.7h0M147.1 196.6h0M144.8 184.5h0M159.6 166.7h0M146.9 128.6h0M171.3 137.2h0M149.7 157.9h0M151.3 206.3h0M153.1 164.6h0M158.7 192.9h0M155.4 187.5h0M147.6 186h0M145.9 198.9h0M155.7 176.8h0M154 198.1h0M148.2 203.1h0M144.6 157.9h0M146.1 204.5h0M147.7 156.7h0M154.3 130.7h0M144.8 196.1h0M152.5 185.2h0M144.7 192.5h0M147.3 157.2h0M157.4 176.8h0M145.6 178h0M146.1 125h0M159.1 185.7h0M159.9 196.5h0M155.3 172.2h0M172.6 198.8h0M144.4 187.4h0M156.1 171.1h0M168.5 128.1h0M151.5 182.4h0M152.4 200.3h0M150.3 177.7h0M149.6 192.4h0M170.7 204.3h0M157.2 175.4h0M148.3 166.7h0M153 203.4h0M162.2 202.1h0M155 135h0M147.8 193.2h0M144.4 181h0M163.4 206.6h0M155.2 195.7h0M151.2 194.5h0M147.6 196.9h0M150.1 203.7h0M144.5 198.4h0M196.3 171.3h0M145.1 193.7h0M145.3 150.5h0M147.3 147.9h0M163.1 121.2h0M145.1 193.2h0M146.5 168.2h0M158.1 162.3h0M149.4 131h0M148.2 174.9h0M149 140.5h0M146.7 205.3h0M146.4 188.5h0M151 191.1h0M149.7 203.6h0M148.7 198.8h0M171.5 190.3h0M145.1 200.5h0M151.3 195.6h0M165.2 187.1h0M145.5 199.2h0M153 174.9h0M149.2 167.8h0M161.6 196.7h0M145.8 158.4h0M160.7 167.9h0M165.1 195.9h0M147 193.7h0M147.1 200.5h0M154.6 165.4h0M146.2 189.5h0M148.9 205.5h0M146.4 179.9h0M155.5 147.1h0M144.3 168.5h0M148.8 196.2h0M147.1 174.2h0M144.3 191h0M145.1 179.1h0M153.5 182.9h0M176.6 187.3h0M148.8 186.9h0M151.5 145.2h0M148.9 194.9h0M152.7 198.7h0M155.2 177.1h0M144.3 190.8h0M144.5 198.8h0M148.6 199.6h0M151.6 182.9h0M165.5 147.3h0M150.7 162.6h0M149.8 180.1h0M151.4 174.4h0M145.4 190.9h0M157.2 192.2h0M169.8 183.5h0M147 172.5h0M146.3 188.8h0M146.4 153.7h0M150 185.5h0M146 159h0M163.3 141.3h0M146.6 162h0M168.2 130.5h0M157 163h0M146.8 165.7h0M159.1 164.8h0M145.8 178.1h0M150.9 144.5h0M158.5 151.1h0M161.6 156.1h0M147.2 168.3h0M149.6 169.7h0M149.3 180.4h0M152.6 200.2h0M148.3 189.9h0M147.2 173.1h0M144.9 146.8h0M162.5 181.8h0M147.4 149.8h0M150.2 198.9h0M157.4 176.6h0M159.6 197.7h0M147.2 167.5h0M149.1 198.8h0M150.5 199.4h0M148.9 149h0M153.8 194.7h0M164.8 204.6h0M144.7 145.9h0M159.6 196.2h0M155.4 196.5h0M153 174.7h0M154.7 174.6h0M148 164.9h0M147.2 196.9h0M145.2 149.6h0M167 129.9h0M144.6 196.9h0M165.8 159.1h0M146 134.6h0M145.7 177.9h0M148.7 128.7h0M144.5 162.5h0M151.2 196.6h0M145.8 191.1h0M152.4 120.5h0M150.1 196.4h0M146 177.1h0M147.5 192.4h0M146 205.3h0M150.4 187.3h0M149.6 193h0M145.3 164.7h0M168 206.3h0M159.5 199.7h0M173.1 206.2h0M161.5 192.7h0M169.3 195.2h0M150.2 191h0M162.3 146.7h0M150.7 164.8h0M147.8 203.5h0M152.6 185.7h0M147.8 186.7h0M147.1 201.6h0M158.4 187.1h0M149.6 150.3h0M159.4 198.8h0M147.4 168.7h0M156.7 109.9h0M151 150.9h0M148.9 181.1h0M157.9 203.4h0M148.5 197.1h0M154.5 169.4h0M150.3 131h0M144.3 193h0M145.6 136.8h0M146.4 187h0M147.2 190.2h0M147.1 153.3h0M146.6 164.5h0M155.8 195.3h0M159.3 165.3h0M151 204.1h0M149.5 190.6h0M147.5 200.7h0M149.2 206.3h0M154.1 156.2h0M153.7 198.9h0M149.6 177.2h0M144.2 131.4h0M153.8 125.4h0M159.1 199.1h0M147.3 166.2h0M144.3 199.7h0M149.9 131.6h0M144.5 204.3h0M166.5 157.2h0M144.5 189.6h0M149.8 126.8h0M151.8 170.8h0M161.8 205.6h0M154.8 191.9h0M145.8 178.6h0M154 137.6h0M153.4 192h0M151.7 178.5h0M148.4 133.8h0M150.5 157.7h0M148 198.3h0M150.8 161.5h0M153.2 192.4h0M173.7 182.5h0M144.3 205.4h0M154 203.9h0M151.6 186.8h0M152 193.6h0M145.5 129.5h0M144.5 192.1h0M146.4 115.5h0M150 205.1h0M146.5 177h0M148.8 206.5h0M151 151.7h0M147.1 161.1h0M145.2 152.5h0M154.6 202.7h0M144.6 179.1h0M150.1 201.1h0M166.9 196.5h0M156.6 189.2h0M152.6 198.7h0M156 143.6h0M172 181.8h0M150.1 193.1h0M153.8 140.3h0M154.8 172.1h0M147.6 195.6h0M146.4 173h0M144.4 193.6h0M166.4 187.4h0M149.4 181.4h0M151.1 186.4h0M148.7 200.1h0M146.4 141.6h0M146.8 162.2h0M148.8 203.3h0M148.8 133.8h0M150 194.8h0M144.5 193.2h0M170 187.5h0M153.5 189.8h0M148.4 139.9h0M144.4 205.3h0M153.1 175.7h0M154.2 160.9h0M148.9 201h0M144.5 184.3h0M148.4 184.3h0M145.4 205.3h0M145.9 188.3h0M155.4 202.7h0M145.2 157.9h0M146.4 178.2h0M146 157.8h0M153.1 180.4h0M146 171h0M146.4 110.8h0M153.3 179.6h0M151.5 141.2h0M163.6 197.6h0M157.1 180.7h0M144.6 159.9h0M149.9 205.1h0M145.8 202.6h0M150.5 196.3h0M156.2 200h0M149.9 172.6h0M147.4 119.1h0M145.5 188.9h0M149.2 174.7h0M160.1 198.3h0M147.1 200.7h0M155.7 173.5h0M144.4 92.8h0M145.3 106.8h0M150.4 73.7h0M150.8 121.5h0M144.5 119.2h0M166.2 62.3h0M144.5 115.3h0M153.3 84.6h0M146.9 99.1h0M147.8 79.2h0M145.7 46.2h0M144.7 77.7h0M144.5 133.5h0M148.4 125.6h0M147.1 119.3h0M146 72.5h0M145 121.3h0M151 125.3h0M147.4 103.8h0M152.5 102.9h0M144.7 40.5h0M145.3 130.9h0M145.7 56.5h0M146.6 98h0M148.2 63.3h0M146.7 132.2h0M150.5 108h0M154.6 55.1h0M145.1 63h0M145.5 79.6h0M147.3 66.4h0M153.6 94.5h0M146.6 37.1h0M151.7 134.2h0M170.8 46.9h0M157 98.9h0M145.9 38.5h0M160.7 130.3h0M144.4 104.5h0M148 103.4h0M146.6 108.6h0M146.7 105.6h0M146.6 62.9h0M145.2 100.5h0M147.3 103.9h0M146.6 62h0M156.8 77.9h0M146.6 122.6h0M151.4 107.8h0M149.4 47h0M148.7 115.8h0M149.5 43.8h0M148.8 87.8h0M152.4 100.5h0M146.9 132.1h0M153.8 127.7h0M145.3 108h0M146.3 62.5h0M146.1 55.3h0M145.8 76.5h0M147.1 136.8h0M152 36.4h0M147 114.7h0M145.5 127.2h0M146.4 97.1h0M146 97.2h0M145.1 109.4h0M148.6 129.5h0M145.9 45.7h0M155.2 49.2h0M144.7 80.5h0M146 120.8h0M149.3 117.2h0M145.8 72.4h0M146.5 73.3h0M173 110h0M151.1 102.3h0M151.6 123.4h0M153.3 95.6h0M147.8 41.7h0M146.5 135h0M156.3 130.5h0M146.4 72.9h0M144.3 132.3h0M144.2 129.9h0M144.9 40.2h0M155 113.9h0M157.8 48.6h0M147.5 127.5h0M152.3 125.3h0M171.2 81.6h0M145.4 37.7h0M154.1 117.3h0M146.3 135h0M148.9 61.2h0M153.1 136.7h0M150.9 80.5h0M161.2 76.4h0M144.7 43.6h0M147.4 39.6h0M172.8 33.9h0M145.6 33.9h0M152 33.9h0M151.4 33.9h0M167.3 33.9h0M170.5 33.9h0M153.8 33.9h0M169.1 33.9h0M163.2 33.9h0M163.7 33.9h0M173 33.9h0M157.6 33.9h0M146.1 33.9h0M146.9 33.9h0M153.3 33.9h0M176.3 33.9h0M146.3 33.9h0M177.8 33.9h0M151.8 33.9h0M163.2 33.9h0M173.5 33.9h0M163.6 33.9h0M150.6 33.9h0M156.1 33.9h0M173.5 33.9h0M165.7 33.9h0M149 33.9h0M151.9 33.9h0M153.3 33.9h0M154.7 33.9h0M173.8 33.9h0M177 33.9h0M152.9 33.9h0M171.3 33.9h0M168 33.9h0M161.4 33.9h0M166.2 33.9h0M153.4 33.9h0M160.2 33.9h0M176.6 33.9h0M156 33.9h0M160.6 33.9h0M166.5 33.9h0M157.6 33.9h0M157 33.9h0M153.1 33.9h0M159.8 33.9h0M150.7 33.9h0M165.1 33.9h0M168.1 33.9h0M152.7 33.9h0M156.7 33.9h0M164.4 33.9h0M147.5 33.9h0M174.2 33.9h0M180.7 33.9h0M183.6 33.9h0M185.3 33.9h0M187 33.9h0M190.4 33.9h0M209.4 33.9h0M208.7 137.1h0M207.4 145.1h0M208 149.5h0M205 158h0M200.9 177.6h0M180 151.5h0M191.7 201.5h0M192.3 199.8h0M185.4 130.7h0M187.2 110h0M177.5 116.1h0" stroke="#ee1c1c" stroke-width="1.7" stroke-linecap="round" fill="none"/>
<path d="M87.5 239.2H179.5" stroke="#5a5a5a" stroke-width="1.7" stroke-linecap="round" fill="none"/>
<path d="M20.3 239.3H23M20.3 214.9H23M20.3 190.5H23M20.3 166.1H23M20.3 141.7H23M20.3 117.3H23M20.3 92.9H23M20.3 68.5H23M20.3 44.1H23M20.3 19.7H23M47.1 239V241.6M75.9 239V241.6M104.8 239V241.6M133.7 239V241.6M162.6 239V241.6M191.4 239V241.6M220.3 239V241.6" stroke="#666" stroke-width="0.6" fill="none"/>
<g class="ss" font-size="5.1" fill="#111" stroke="#111" stroke-width="0.18">
<text x="17" y="241.3" text-anchor="end">0</text>
<text x="17" y="216.9" text-anchor="end">1</text>
<text x="17" y="192.5" text-anchor="end">2</text>
<text x="17" y="168.1" text-anchor="end">3</text>
<text x="17" y="143.7" text-anchor="end">4</text>
<text x="17" y="119.3" text-anchor="end">5</text>
<text x="17" y="94.9" text-anchor="end">6</text>
<text x="17" y="70.5" text-anchor="end">7</text>
<text x="17" y="46.1" text-anchor="end">8</text>
<text x="17" y="21.7" text-anchor="end">9</text>
<text x="47.1" y="248.1" text-anchor="middle">-7.5</text>
<text x="75.9" y="248.1" text-anchor="middle">-5</text>
<text x="104.8" y="248.1" text-anchor="middle">-2.5</text>
<text x="133.7" y="248.1" text-anchor="middle">0</text>
<text x="162.6" y="248.1" text-anchor="middle">2.5</text>
<text x="191.4" y="248.1" text-anchor="middle">5</text>
<text x="220.3" y="248.1" text-anchor="middle">7.5</text>
</g>
<text x="121.3" y="257.6" text-anchor="middle" class="ss" font-size="7.2" fill="#111" stroke="#111" stroke-width="0.2">Log2FC</text>
<text transform="translate(9.1 129.5) rotate(-90)" text-anchor="middle" class="ss" font-size="7.15" fill="#111">-Log10(Padjust)</text>
<text x="73.6" y="50.3" class="sf" font-weight="bold" font-size="14.2" fill="#000" textLength="16.6" lengthAdjust="spacingAndGlyphs">775</text>
<text x="166.6" y="50.2" class="sf" font-weight="bold" font-size="14.2" fill="#000" textLength="18" lengthAdjust="spacingAndGlyphs">425</text>
</g>
<g id="pb">
<g stroke="#8a8a8a" stroke-width="0.5" stroke-dasharray="1 0.7" fill="none">
<path d="M258.5 218.1 H458.5"/>
<path d="M368.4 17 V241.5"/>
<path d="M377.9 17 V241.5"/>
</g>
<path d="M258.4 17.2 V242.4" stroke="#5e5e5e" stroke-width="0.8" fill="none"/>
<path d="M256 242.1 H456.5" stroke="#8c8c8c" stroke-width="1" fill="none"/>
<path d="M374.3 235.9h0M371.4 235.1h0M376.2 222.8h0M372.7 239.6h0M363.9 227.8h0M373.6 224.9h0M376.1 237.6h0M370.8 240.3h0M375.7 235.6h0M375.9 226.6h0M359.5 226.3h0M376 238.4h0M360.2 229.2h0M364.5 226.3h0M371.2 232.3h0M366.2 227.2h0M366.9 218.9h0M378.9 226h0M365.7 233h0M379.2 237.6h0M383 232.8h0M380.5 230.1h0M365.3 220.8h0M362.9 223.5h0M372.3 234.7h0M384.5 219.8h0M370.5 231.1h0M368.4 225.7h0M371.3 239.3h0M376.5 239.3h0M379.1 237.3h0M371.3 221h0M370.8 226.1h0M375.6 221.9h0M371.8 227h0M369.4 232.6h0M361.5 228.6h0M372.3 228.2h0M368 221.6h0M370.4 231.9h0M369.6 220.8h0M366.6 227.7h0M375.8 222.4h0M378.5 230.5h0M375.5 225.8h0M368.1 234.2h0M373.3 229.9h0M376.2 237h0M371.4 239.4h0M376.2 240.6h0M363.5 225.3h0M370.5 231.5h0M380.7 220.7h0M378.3 222.2h0M371.1 233.1h0M371.8 218.7h0M384.8 226.6h0M378.8 224h0M367.8 232.6h0M373.9 237.4h0M369.4 237.9h0M368.6 237.7h0M364.8 227.9h0M376.4 239.2h0M385.6 235.3h0M377.6 222.3h0M364.3 238.9h0M375.5 231.6h0M363.5 230.2h0M373.9 227.5h0M378.5 230.3h0M381.1 219.6h0M373.5 224.3h0M374.4 228.6h0M371.8 227.6h0M370.9 230.3h0M381.6 219h0M366.6 236.7h0M362.7 225.4h0M382.6 228.5h0M386 234.4h0M362.7 234h0M378.2 219.9h0M377.3 223.5h0M369.7 241.1h0M366.6 235.2h0M373.2 241.1h0M369.7 222.4h0M377.1 239.2h0M368.4 240.3h0M379.5 218.6h0M368.4 231.7h0M381.9 234h0M377.6 240.4h0M379 233h0M369.8 233.6h0M370.6 229.9h0M371.7 241.2h0M379.3 238.4h0M368.3 237.1h0M367.5 231.8h0M370.8 235h0M374.7 227.7h0M371.7 235.4h0M371.1 220.4h0M364.3 219h0M368.5 240.2h0M365.9 237.1h0M378.6 228.9h0M371.4 223.8h0M376.3 240.1h0M364.4 237.2h0M371.8 231.5h0M374.8 226.4h0M365.7 220.5h0M367.9 221.4h0M368.7 223.3h0M373.1 240.3h0M374.6 218.7h0M363.7 227.4h0M374.2 239.7h0M373.5 236.1h0M374.3 227.5h0M367 233.1h0M371.6 231.7h0M379.9 223h0M379.2 222.5h0M368.3 229.3h0M381.7 223.2h0M369.6 232.6h0M366.5 218.7h0M379 227.9h0M374.8 218.9h0M386.1 234.2h0M370.2 221h0M373.3 229h0M376.9 225.3h0M373.8 237.5h0M369.6 229.3h0M372.2 235.3h0M372.1 239.3h0M372.1 241.2h0M371.2 220.4h0M363 225.9h0M377.5 237.2h0M368.5 236h0M370.5 231.3h0M367.2 222.7h0M371 239.1h0M378.4 218.9h0M379.9 219.5h0M374.1 236.3h0M373.6 227h0M369 233.7h0M370.1 225.7h0M373.6 239.7h0M371.1 231.1h0M366.2 228.3h0M372.1 227.4h0M365.8 225.8h0M384.3 220.5h0M374 236.4h0M368.8 238.3h0M375.1 233h0M367.6 228.8h0M370 219.1h0M381.5 225.2h0M380 224.6h0M364.9 218.8h0M365.6 235.8h0M369.2 236h0M385.6 229.1h0M372.5 235.2h0M374.2 226.8h0M368.6 219.3h0M380.1 238.2h0M378.1 230h0M362 225.4h0M367.1 230.6h0M361.4 220h0M365.2 224.7h0M367 221.1h0M364.2 238.7h0M368.4 237.4h0M376.4 240.1h0M379.1 222.4h0M373.7 219h0M376.6 241h0M364 223.3h0M381 224.9h0M385.6 220h0M371.3 235.8h0M376 225.2h0M374.3 236.5h0M359 233h0M378.5 224.5h0M375.1 240.5h0M362.6 225.2h0M369.7 235.5h0M379.2 230.7h0M376.1 220.8h0M364 235.8h0M368.6 231.2h0M368.1 233.8h0M373.1 237.5h0M367.9 231.1h0M372.5 237.7h0M370.6 223.1h0M363.3 227.3h0M374.6 235.5h0M374.5 218.7h0M368.1 234.1h0M376.9 226.3h0M385.6 223.4h0M362.7 234.6h0M373.5 241.1h0M377.6 220.8h0M371.5 219.2h0M368.7 237.9h0M385.5 233.7h0M369.1 232h0M371 228.1h0M367.8 218.6h0M379.7 219h0M359.7 218.6h0M366.9 236.3h0M369.2 228.1h0M374.2 232h0M374.2 236.6h0M378.2 240.1h0M371.5 238h0M367.8 233.8h0M371.8 239.7h0M367 238.4h0M369 240.5h0M369 227.5h0M374.2 230.6h0M377.1 236.3h0M365.5 229.8h0M368.5 232.2h0M371.6 226.6h0M371.4 219.8h0M370.6 233.9h0M375.9 226.9h0M370.9 236.9h0M361.9 219.5h0M380.1 227.6h0M364.7 237.9h0M381.9 235.3h0M373.8 238.2h0M374.1 237.8h0M363.5 234.2h0M374.4 222.5h0M370.8 231.5h0M367.2 235.6h0M375.6 232.3h0M376.6 235.8h0M379.4 224.8h0M364.8 240h0M367.5 235.3h0M380.4 234.5h0M375.3 237.7h0M377.3 224.6h0M369.1 237.7h0M374.4 235.1h0M377.1 240.3h0M364.9 224.2h0M368.2 233.6h0M374.1 226.7h0M380.4 236.8h0M369.7 240.9h0M376.3 234.6h0M367.1 223.6h0M365.1 222.2h0M376.1 234h0M366 221.9h0M372.6 240.4h0M368.8 229.9h0M375.4 236h0M364.9 231.8h0M364.1 236.3h0M363.9 220.7h0M371.1 235h0M380 219.5h0M377.2 239.2h0M373.6 232.1h0M371.3 231.8h0M379.6 225.4h0M371.6 234.1h0M378.5 230.6h0M380.3 239.9h0M376.3 234.8h0M375 225h0M374.6 239.3h0M371.5 231.3h0M373.9 236.5h0M367.1 238h0M367.3 239h0M381.4 222.7h0M371 225.9h0M362.3 232h0M380.2 232.9h0M380.3 224.9h0M375.2 227.9h0M364.8 220.2h0M383.4 220h0M378.6 230.9h0M379.5 226.6h0M370.5 229.4h0M374.7 234.9h0M370.4 231.5h0M370.3 225.1h0M365.3 229.2h0M367.4 227.2h0M369 230.7h0M371.6 219.3h0M378.2 223.7h0M375.5 238.8h0M361.7 222.3h0M378.6 220.2h0M363.3 222.6h0M375.1 234.1h0M370.9 233.5h0M372.6 236.4h0M369.3 240.3h0M365.9 231.1h0M381.7 221.8h0M358 221.8h0M366.7 226.5h0M380 221.9h0M371.6 226.6h0M372.2 236.8h0M366.8 223h0M365.5 233.5h0M376.1 220.9h0M371 234.5h0M374.1 239.6h0M376.9 224.9h0M361.9 236.8h0M365.7 221.4h0M368.1 232.5h0M374 223.6h0M376.2 240.3h0M365.9 229.4h0M370.4 226.2h0M371.4 238.8h0M371 227.8h0M381.3 238h0M367.7 235h0M373.1 233.6h0M358.5 224.5h0M371.4 238.8h0M372.7 237.6h0M376.6 223.6h0M368.7 225.2h0M368.6 231.5h0M365 235.3h0M368.7 225.8h0M386.1 227.9h0M361.9 233h0M362 221h0M372.6 237.3h0M366.2 223h0M379.5 227.6h0M363.1 226.6h0M381.8 225.8h0M369 224.4h0M362.3 220.9h0M359.2 219.6h0M366.8 236.1h0M368.2 238.1h0M374.8 220.7h0M364.5 236.9h0M390.7 223.2h0M377.4 223h0M370.2 218.9h0M368.3 222h0M388 225h0M367.5 233.4h0M377.1 218.6h0M380.9 224.7h0M366.4 227.3h0M375.7 241.1h0M369.2 237.4h0M380.5 240.9h0M380.9 220.4h0M375.4 236.5h0M373.1 237.9h0M364.9 228.4h0M387 230.6h0M381.2 229.2h0M377 219.3h0M381.2 221.5h0M372.3 236.3h0M365.3 220.2h0M377.9 232.8h0M366.4 229.9h0M369 234.5h0M377.2 218.6h0M362.9 233.9h0M371.8 224.7h0M370.1 227.5h0M365.2 225.9h0M365 239.1h0M370.6 229.6h0M369.8 218.6h0M373.5 228.9h0M363.3 236.4h0M372.7 240.3h0M364.7 234.2h0M367.1 224.5h0M378.1 240.9h0M368.1 240.4h0M369 226.6h0M367 221.1h0M371.9 231.9h0M377.4 227.4h0M370.1 236h0M376.2 235.7h0M364.4 230.9h0M375 236.9h0M371.3 231.5h0M372.7 238.4h0M366.4 220h0M368.3 226.9h0M374.1 239.5h0M365.2 237.3h0M377.2 222.4h0M369.5 233.4h0M374.9 236h0M365.4 240.8h0M362.6 225.7h0M376.2 228.7h0M376.7 222.1h0M372 238h0M376.5 224.3h0M371.5 222.4h0M376.6 222.5h0M373.6 224.4h0M366.4 231.8h0M378.9 240.4h0M366.3 227h0M385.9 234.7h0M371.3 239.7h0M366.7 232.6h0M370.9 239h0M372.4 231.6h0M373.7 221.8h0M375.6 237.9h0M368.3 223.2h0M360.3 218.6h0M367.1 240.6h0M375 232.2h0M379.1 225.4h0M360.5 223.7h0M373 235.5h0M379.2 222.9h0M364 233h0M382.5 236.1h0M367.6 230h0M371.2 227.7h0M368.9 222.2h0M382.9 226h0M377.7 239.7h0M373.5 228.6h0M370.1 234.1h0M362.3 225h0M370.6 240.5h0M368.4 226.6h0M371 223.3h0M360.8 236.4h0M380 241h0M378.1 220.8h0M381.9 220.7h0M368.8 237.8h0M371.3 220h0M365 232.5h0M377.7 230h0M370.8 231.1h0M382.3 233.5h0M377.1 221h0M377.2 227.8h0M376.2 219.8h0M363.5 227.2h0M377.1 220h0M362.7 229.3h0M374.4 231h0M376.1 228.7h0M365.3 241.1h0M368.2 223.9h0M371.3 238.6h0M374.7 219.5h0M374.1 240.5h0M372 225.4h0M366.8 223.9h0M374.3 229.4h0M387.6 230.8h0M368.5 222.8h0M381.8 234h0M365.2 235.3h0M368.2 225.8h0M380.4 218.8h0M377.4 239.5h0M381.9 231.5h0M376.2 226.2h0M368.6 235.6h0M371.9 220h0M369.3 228h0M378.6 239.9h0M376 238.3h0M379.8 238.5h0M368 231.5h0M370.1 220.3h0M369.7 239.2h0M370.1 238.3h0M371.3 237h0M380 228.7h0M373.3 232.1h0M379.3 232.4h0M373.5 238.5h0M361.7 222.1h0M364 230.6h0M370.5 221.5h0M379.3 240.8h0M372.1 231.4h0M363.4 232.9h0M373.6 222.1h0M370.3 225.8h0M375.9 229.9h0M377.2 238.1h0M374.4 226h0M367.9 220.7h0M365.8 223.7h0M369.4 218.9h0M371.4 228.2h0M374.5 234.8h0M369.5 236.8h0M368.1 223.1h0M375.6 222.8h0M377.3 227.2h0M374.4 223.6h0M366 230.8h0M369.8 221.8h0M385 224.5h0M365.9 236.4h0M369.8 228.3h0M377.9 226.7h0M366.5 237.2h0M369.7 219.7h0M380 223h0M378.1 238.5h0M361.5 234.3h0M375.9 241.2h0M369.7 219.6h0M364 237.2h0M378.8 222.3h0M368.9 230.2h0M372 240.3h0M367.2 237.1h0M377 236h0M377.9 224h0M377.1 233.5h0M386.9 231.6h0M376.6 219.4h0M370.3 230.1h0M375.7 240.1h0M375.3 218.8h0M377.2 226.2h0M358.5 227.3h0M377.9 238.5h0M384.7 224.7h0M378.1 239.5h0M368.7 219.6h0M385.6 223.1h0M378 225.3h0M385.3 222.8h0M379.4 221.5h0M371.4 231.2h0M363.7 222.7h0M374.2 239.2h0M377.1 225.6h0M370.8 224.3h0M365.9 237h0M378.7 239.2h0M368.7 220.2h0M382.1 220.7h0M370.5 239.2h0M376.2 228.3h0M371.9 237.7h0M376.2 237.2h0M377.4 219.9h0M361.2 225.5h0M369.2 224.1h0M370.3 235.5h0M369.7 223.7h0M373.7 226.3h0M380.4 234h0M367.4 230.5h0M376.8 236.2h0M370.9 228.2h0M369.4 237.6h0M364.6 231.5h0M368.4 221.7h0M366.8 226.6h0M376.4 228h0M382.6 237.8h0M377 222.6h0M378 227.6h0M368 219.4h0M377.9 219.7h0M367.9 219.8h0M367.7 229.6h0M375.3 223.9h0M369.5 239.4h0M377.1 240.5h0M374.7 223.5h0M371.3 226.2h0M369.2 219.4h0M374.5 235h0M375.1 230.6h0M374.3 223.4h0M380.1 227.8h0M369.4 221.9h0M365.2 232.8h0M365.3 222h0M367.2 221.6h0M367.5 220.5h0M372.3 232.8h0M383 220.3h0M367.3 234.9h0M368.1 228.2h0M369.5 218.6h0M367.3 226.9h0M368.5 228.2h0M377.5 233.7h0M380.9 230h0M369 230.7h0M373.4 226.1h0M378.8 229.5h0M375.2 234.7h0M372.2 237.5h0M376 218.6h0M372.2 227.6h0M369.3 237.9h0M376.3 234.2h0M369.2 226.8h0M370.4 236.5h0M375.6 220.7h0M366.4 229.5h0M377.6 226.1h0M368.7 226.5h0M367.5 238.1h0M376.9 219.8h0M377.4 222h0M378.8 238.5h0M381 228.7h0M367.2 229.8h0M371.6 234.9h0M366.8 233.4h0M368.8 236h0M378.3 227.3h0M375 232.1h0M374.6 239.4h0M375.5 236.7h0M370.6 238.3h0M380.4 227.3h0M367.1 229.1h0M377 233h0M369.3 229.3h0M367.5 227.3h0M384.8 233.6h0M370.8 240.3h0M377.4 219h0M368.4 237.6h0M368.7 236.4h0M380 225.5h0M375.9 218.6h0M373.3 238.9h0M375.7 232.7h0M376.9 221.7h0M377.9 239.7h0M375.7 236.2h0M377.1 227.7h0M375.2 222.4h0M373.7 239.4h0M379.3 232.4h0M360.2 226.3h0M377.8 229.3h0M373.3 229.6h0M374.6 218.6h0M370.5 218.6h0M368.7 237.1h0M376.3 236.1h0M365.8 232.8h0M366.9 239.4h0M366.9 238.5h0M382.1 228.5h0M371.6 218.6h0M372.4 235.2h0M364.4 236.9h0M373.3 227.6h0M377.4 235.1h0M366 241h0M372.8 239.5h0M374.2 221.2h0M375.9 239.2h0M378.2 227h0M383.8 230.8h0M371.7 223.9h0M372.1 230.2h0M368.6 236.6h0M377.8 237.1h0M372.1 236.5h0M375 236.6h0M376.3 236.2h0M371.3 235.1h0M370.8 228.1h0M373.5 229.8h0M373.1 240h0M372.4 232.3h0M370.6 219.8h0M371.2 219.6h0M379.2 234.6h0M368.7 238.3h0M372.7 235.2h0M372.3 238.7h0M378.4 236h0M368.7 220h0M370.3 221.2h0M369.2 231.6h0M377.1 229.2h0M376.3 225.6h0M375.2 225.6h0M373.6 225.7h0M385.1 223.6h0M374.4 228.3h0M361.2 235.5h0M363.9 225.8h0M364.2 226.2h0M369.8 238.1h0M363.6 236.6h0M371.8 227.1h0M364 232.7h0M371.3 222.8h0M368.6 235.6h0M375.5 226.4h0M373.3 227.7h0M366.6 239.2h0M382.6 234.5h0M365.7 233.9h0M369.1 235h0M364.1 239h0M377.8 236.5h0M377.8 229.5h0M371.6 236.7h0M358.1 223.9h0M376.8 232.4h0M382.5 230.8h0M367.1 237.2h0M375.4 223.4h0M377.4 239.9h0M371.6 219.5h0M365.3 228.3h0M370.3 219.5h0M368.2 229.3h0M375.4 233.9h0M362 231.9h0M375.8 219.9h0M372.2 229.9h0M363.1 232.1h0M366.3 238.2h0M375.3 238.3h0M379.6 232.4h0M377.2 231.6h0M388.7 220.7h0M373.2 239h0M365.1 231.5h0M372.3 238.7h0M367.9 236.1h0M358.1 226h0M378.5 221.2h0M366.4 238.7h0M366.7 237.9h0M382.6 225.1h0M368.2 229.8h0M367.1 239.7h0M377.3 226.1h0M382.8 219.1h0M361.2 223.9h0M365.4 218.6h0M368.1 224.5h0M376.7 234.4h0M374.1 223.1h0M378.9 228.8h0M363.5 238.6h0M371.3 233.7h0M380.8 219.4h0M361.4 225.7h0M378.4 233.5h0M366.9 225.4h0M374.2 226h0M365.9 238.2h0M375.9 231.4h0M377 223h0M371.2 239.1h0M381.8 229h0M366.2 239h0M377.9 235.6h0M365.2 223.9h0M377.8 233.8h0M377.4 222.6h0M367.6 224.9h0M381.4 227h0M371.9 238.4h0M364.1 231.3h0M369.7 221.1h0M377.7 227.2h0M372.4 240h0M377.7 230.4h0M380.6 231.1h0M377.2 230.7h0M375.5 232.4h0M374.1 222.8h0M375.3 229.7h0M380.9 221.6h0M368.2 219.2h0M370.4 220.7h0M377.3 223.9h0M366.4 240.9h0M378.3 241.2h0M372.4 237.9h0M375.4 230h0M368.7 235.1h0M371.1 238.7h0M379.6 219.9h0M365.9 232.1h0M378.3 237.3h0M379 230.2h0M373.7 218.6h0M360.9 224.1h0M365.5 220h0M374.6 239.1h0M378.7 224.6h0M364.1 233.8h0M374.6 233.7h0M373.9 231.5h0M363.4 230.8h0M373.9 223.3h0M367.8 235.2h0M363.4 230.8h0M382.8 231.1h0M367.6 227.5h0M363.8 228.8h0M363.8 239.7h0M383.5 221.5h0M378.3 227h0M375.5 238.3h0M367.2 230.5h0M375.1 220.6h0M371.9 221h0M376.7 232.7h0M363.7 235.8h0M377 219.3h0M378.3 224.7h0M366.8 226.5h0M366.7 232.6h0M370.9 221.5h0M364.3 237h0M370 222.4h0M370 223.1h0M380.4 229.9h0M366.3 233.6h0M369.9 225.9h0M380 233h0M362.1 231.1h0M378.3 235.8h0M369 223.5h0M375.7 238.3h0M371.9 230.6h0M376.1 231.8h0M353.4 218.6h0M368 239.2h0M359.3 226.1h0M370.5 236.8h0M367.8 219.3h0M372.6 238.9h0M382.1 220.1h0M375.7 226.9h0M374.6 237.5h0M376.1 232.5h0M370.8 235.6h0M381.2 230.8h0M376.7 222.5h0M372.3 230.9h0M379.8 218.6h0M369.5 220.3h0M369.3 236.9h0M367.1 238.7h0M363.9 225.8h0M365.1 233.6h0M379.2 235.9h0M369.1 220h0M371.7 228.6h0M376.6 235.8h0M371 228.9h0M366.3 229.2h0M366.9 223.1h0M369.4 232.5h0M378.4 230.3h0M369.1 238.3h0M368.3 221.9h0M375.8 220.1h0M372.3 241.2h0M371.9 224.2h0M374.3 218.7h0M382.2 221.5h0M369.7 223.1h0M369.4 237h0M382.7 218.6h0M366.8 233.4h0M361.9 221.4h0M377.6 223.7h0M369 227.9h0M371.2 219h0M371.8 219.1h0M365.3 231.7h0M375.3 231.1h0M364.8 220.5h0M377.2 231.6h0M379.1 221.4h0M368.1 236.7h0M378.6 236.2h0M373.4 233.1h0M383.1 233.5h0M372.1 231.5h0M361.4 234.2h0M361.3 235.1h0M377.5 233.2h0M369.4 237.8h0M374.5 234.1h0M365.5 232.8h0M368.2 219.5h0M358.8 228h0M374.7 228.3h0M377.2 220h0M367.4 231.8h0M375.1 235.6h0M367.6 228.8h0M374.8 222.5h0M369.3 235.4h0M366.6 224.7h0M375 230.9h0M360.9 228h0M382.8 226.5h0M362.6 230.3h0M360 233.1h0M373.6 236.6h0M365.7 240.4h0M376.1 221.1h0M363.6 226.5h0M380.9 219.6h0M379.5 234.7h0M365.6 229h0M383.7 227.7h0M369.3 238.6h0M371.6 229.1h0M367.8 227.9h0M373.8 232h0M374.4 234h0M371.2 236.5h0M373.8 239.9h0M372.3 228.1h0M374.8 237.4h0M364.1 239.2h0M368.8 218.6h0M364.9 220.8h0M371.5 233.7h0M371.3 231.1h0M370.8 237.2h0M367.4 218.6h0M382.8 233.9h0M366 222.2h0M375.5 224.4h0M369.3 241h0M380.9 240.3h0M379.2 231.9h0M374.6 240.8h0M376.5 220.1h0M366.6 218.8h0M365.8 227.7h0M376.6 235h0M372.1 237h0M362.7 237.1h0M370.7 228.8h0M364.2 237.7h0M363.5 236h0M371.1 225.1h0M371.6 221.4h0M369.7 227.2h0M368.4 219.2h0M365.5 222.7h0M370.6 232h0M371.1 233.8h0M369.1 237.4h0M385.7 222.1h0M370 230.3h0M371.8 221.2h0M367.2 230.6h0M370.2 221.2h0M371.7 225h0M375.6 228.8h0M354.3 219.5h0M378.4 224.7h0M375.2 240.5h0M374 222.9h0M365.8 239.2h0M361.5 228.1h0M365.2 230.7h0M376.4 224.1h0M375.8 236.9h0M371.4 225.6h0M376.7 223.4h0M366.5 234.1h0M365.4 228.5h0M379.5 232.5h0M378.8 224.2h0M377.1 221h0M378.7 230.2h0M371.9 241.1h0M358.8 219.5h0M370.2 228.4h0M378.6 237.7h0M370.2 224.8h0M376.4 231.6h0M375.8 237.9h0M366.8 234.1h0M375.5 227.8h0M372.5 234.3h0M363.5 237.7h0M378.5 240.3h0M365.8 233.1h0M375.3 224.9h0M375.2 234.1h0M367.6 232.5h0M366.4 223h0M375.1 227.1h0M374.3 218.6h0M379.5 222.3h0M374 219.6h0M375.4 230.2h0M373.8 223.8h0M378.1 218.6h0M366.2 241.1h0M361 229.2h0M375.5 224.5h0M371 236.6h0M368.4 240h0M382 229.9h0M363.7 239.2h0M370.5 238.2h0M377.6 240.4h0M370.5 224.8h0M369.6 240.4h0M374.7 220.1h0M369.7 229h0M362.1 231.3h0M364.3 238h0M376.2 233h0M376.1 236.1h0M365 221.5h0M374 230.2h0M376 241h0M376.6 219.7h0M380.8 218.6h0M378.3 218.6h0M371.8 235.7h0M370.5 230.4h0M376.5 225.2h0M365.4 239.1h0M362.6 231.1h0M377 234.6h0M379.1 221.6h0M375.8 240.8h0M374.7 220h0M362.8 239.2h0M363.8 220h0M368.4 231.5h0M382 236.8h0M370.4 234.8h0M374 219.6h0M367.6 237.5h0M380.2 222.8h0M361.3 220.6h0M381.9 234.5h0M371.9 228.4h0M356.7 223.9h0M371.9 219.7h0M375.7 237.6h0M375.7 233.4h0M375.4 226.4h0M370.5 238.5h0M370.6 236h0M373.5 223.9h0M368.4 226.9h0M382.4 228.4h0M365.1 221.4h0M373.1 236.4h0M369.9 220.2h0M363.7 234h0M380.8 220.2h0M374.3 224.9h0M367.9 225h0M367 227.8h0M370.2 223.7h0M381.5 234.4h0M374.1 224.7h0M366.9 239.1h0M373.5 226.7h0M367.7 218.8h0M376 219h0M374.9 236.3h0M377.2 220.6h0M374.6 228.1h0M373.2 231.9h0M364.8 233.1h0M374 231.6h0M379 231.6h0M363.8 219.3h0M378.1 224.1h0M368.9 238.1h0M368.3 223.6h0M368.6 228.1h0M377.1 218.6h0M372.6 235.4h0M374.1 224.6h0M366.5 230h0M381.8 236.1h0M366.8 239h0M380.3 220.7h0M380 240.9h0M376.8 236.1h0M365.1 231h0M372.9 235.3h0M367.9 229.2h0M381.7 237.1h0M374.7 223.7h0M375.4 228.4h0M374.3 226.9h0M374.9 218.7h0M378.8 238h0M385.2 228.7h0M377.2 238.2h0M380 235.1h0M376.8 230.4h0M375.7 224.1h0M365.9 237.7h0M369.9 222.8h0M368.8 224.9h0M376.4 231h0M356 219.5h0M359.9 229h0M369.2 218.6h0M375.8 219h0M370.5 232.4h0M371.4 219.2h0M377.4 223.8h0M381.3 229.6h0M382.7 227.2h0M376.7 223.1h0M379.6 219.1h0M370.2 220.5h0M367.4 219.2h0M376.8 232.7h0M382.5 239.7h0M376.4 238.6h0M362 231.7h0M379.5 239.5h0M384.4 227.8h0M377.7 239h0M371.7 235h0M368.4 235h0M366.5 220.3h0M382 230.7h0M371.8 239.1h0M371.5 224.2h0M371.6 219.7h0M372.1 225.3h0M375.7 241.2h0M370.5 222h0M375.5 237h0M369.8 222.6h0M368.5 222.6h0M363.2 225.7h0M374.2 239.9h0M381.1 233.3h0M377.1 238.9h0M380 223.6h0M371.3 240h0M368.9 231.8h0M368.6 224.5h0M366.7 222.5h0M378.2 232.2h0M380.9 239.4h0M368.8 221.1h0M376 235.2h0M365.2 230.6h0M375.3 241.2h0M378 235h0M368 219.6h0M380.7 224.8h0M370.4 225.2h0M375.2 228.8h0M383.1 236.8h0M364.3 236.4h0M376.6 219.3h0M371.8 239.2h0M382 226.2h0M373.3 233.4h0M371.7 224.8h0M376.2 238.5h0M383.7 236.8h0M369.6 229.4h0M367.8 236h0M368.3 223.4h0M379.1 218.6h0M362.6 237h0M366.4 236.2h0M369.3 237.9h0M367.6 233h0M371.9 236.6h0M368.5 227.8h0M361 231h0M386.2 226.9h0M379.2 221.6h0M371.1 221.6h0M369.6 237.8h0M368.8 235.9h0M362 227.8h0M366.1 231.1h0M373.9 240.7h0M374.8 224.7h0M381.2 223.3h0M372.5 232h0M369.1 238.9h0M378.4 225.6h0M376.3 240.1h0M365.2 240h0M368.4 228.7h0M378 231.9h0M367.7 218.6h0M373.3 236.2h0M366.9 237.7h0M378.9 234.6h0M384.7 220.8h0M360.7 224.5h0M366.5 241.2h0M376.9 238.8h0M375.1 219.3h0M372 228.8h0M365 232.3h0M362.2 237.7h0M370.4 236.8h0M378.7 241h0M378.9 221.9h0M386.5 219.3h0M362.6 228.8h0M374.6 223.3h0M374.5 238.6h0M384.4 232.9h0M368.6 227.6h0M381.2 225.9h0M363.6 227.6h0M379.4 239.6h0M367 219.8h0M366.8 236.2h0M375.4 226h0M369.5 221.6h0M374.3 238.7h0M371.7 231.4h0M367.6 227.6h0M377.9 218.6h0M370.6 225.4h0M368.3 232.1h0M368 225.7h0M361.2 228.5h0M364.6 238.9h0M374.4 236.9h0M374.1 227.4h0M371.2 226.2h0M380.4 231.8h0M372.5 236h0M372.6 240.3h0M376.1 224.4h0M374.6 237.3h0M379.7 225.2h0M368.8 219.5h0M373.8 222.5h0M372.2 228.2h0M370.5 240.3h0M371.6 225.5h0M378.5 218.6h0M381.6 234.5h0M373.6 222.1h0M373.2 229.5h0M374.8 223.6h0M379.7 224.9h0M376.5 235h0M382.6 230.2h0M384.1 236.4h0M379.8 239h0M369.5 235.4h0M370.3 225.2h0M370.5 232.9h0M369.6 221.5h0M379 226.5h0M368.6 220.2h0M376.4 223.3h0M370.4 231.9h0M367.8 239.3h0M380.3 230.6h0M364.5 230h0M381.2 238.8h0M364.7 238.1h0M376.6 218.6h0M375.2 222.4h0M374.7 233.7h0M372.5 240.8h0M369 235.8h0M371.1 229.2h0M381.2 218.9h0M378.9 240.9h0M386.2 223.4h0M380.1 219.1h0M377.3 219h0M374.8 228.1h0M371.7 223.5h0M381.4 225.9h0M371.2 241h0M371.5 235.7h0M368.8 219.6h0M376.4 239.4h0M393.2 218.6h0M370.9 227.6h0M363 220.6h0M368.7 233.5h0M378.3 228h0M370 218.6h0M369.5 222.2h0M377.1 241.1h0M371.8 226.2h0M367.6 239.2h0M376 219.2h0M366.6 225.1h0M371.3 220.5h0M383.7 229.3h0M359.1 233.4h0M382.2 236.2h0M361.6 236.8h0M374.6 224.2h0M360.3 220.7h0M370.7 231.5h0M367.8 222.2h0M368.9 236.9h0M367.4 231.9h0M381.5 232h0M378.5 230.7h0M363.2 239.5h0M362.1 235.8h0M371.6 239.3h0M364.1 226.7h0M384.1 229.4h0M381 218.6h0M376.5 227.2h0M362.1 235.3h0M368.3 239.3h0M378.6 226h0M366.6 222.6h0M376.9 238.7h0M373.1 230h0M378.5 219.1h0M371.4 220.5h0M372.1 239.1h0M364.7 230.5h0M371 221.3h0M367.1 227.9h0M376.8 240.9h0M364 233.5h0M377.6 235.5h0M378.5 234.2h0M376.8 218.6h0M363.3 222.5h0M364.7 218.6h0M374.1 223.2h0M373.8 218.9h0M369.9 232.4h0M370.3 219.7h0M365.9 229.3h0M366 222.8h0M365.9 237.3h0M368.4 221.2h0M371.3 232.9h0M369.5 219.5h0M366.7 234.9h0M378.6 232.9h0M373.7 230.2h0M366 221h0M387.9 222.2h0M356.7 226.6h0M376.1 230.5h0M374.8 221.9h0M368.3 220.9h0M365.9 224.5h0M371.6 234.4h0M378.8 220h0M377.6 233.1h0M375.5 224.9h0M374.1 223h0M372 225.9h0M377.9 240.3h0M373 237h0M374.2 223.6h0M380.5 226.7h0M368.7 222h0M374.7 225.5h0M371.4 225.9h0M366.9 221.1h0M381 219.9h0M366.6 235.4h0M369.6 222.3h0M366.8 219h0M374.9 239h0M375.9 231.8h0M382 229h0M382.1 228.6h0M382 221.3h0M375.6 241.1h0M378.5 240.1h0M370.4 223.6h0M366.5 235.6h0M379.7 231.3h0M367.7 238.5h0M376.9 219.1h0M381.3 230.4h0M372.4 240h0M381 220.4h0M373.4 228.3h0M372.2 236.1h0M376.7 239.6h0M383.7 238h0M365.2 221.4h0M374.3 239h0M368.5 236.9h0M374.6 229.1h0M375.8 240.1h0M364.2 225h0M366.2 226.9h0M378.2 226.8h0M375.3 233.8h0M368.9 235.4h0M373.6 223.8h0M378.5 218.6h0M378.1 228.1h0M360.5 219.9h0M369.4 238.2h0M382.4 223.8h0M370.4 236.5h0M370 235.6h0M373.4 240.7h0M375.2 219.6h0M374 238.3h0M374.8 236.7h0M367.9 234h0M375.2 232.1h0M377.6 222.8h0M373.2 239.8h0M371.7 240h0M368.5 236.9h0M374.2 221.1h0M365.1 222.4h0M369.2 220.6h0M371.1 230.2h0M358.4 232.7h0M374 227.9h0M363.2 234.6h0M367 238.7h0M366.9 235.1h0M369.3 225h0M370.3 228.3h0M375.6 224.6h0M365.3 227.4h0M369.1 228.3h0M374.4 229.2h0M368 223.8h0M367.2 226h0M373.5 226.4h0M375.7 234.1h0M374.8 237h0M363.9 223.6h0M372 227.2h0M370.9 224.1h0M381.7 234.2h0M371.5 241h0M369.6 223.6h0M379.9 237.9h0M367.2 224.3h0M379.3 240.3h0M379.2 239.5h0M371.3 239.1h0M373.5 238.5h0M376.1 222.8h0M385.2 236h0M373.5 234.9h0M369.7 229.3h0M376.5 229.6h0M373.6 226.1h0M367.7 229.5h0M372.6 238.7h0M374.8 239.8h0M379.7 223.7h0M375.9 235.4h0M375.7 238.4h0M369.3 235.4h0M378.5 238.9h0M368.1 224h0M368.3 237h0M369.4 228.4h0M367.6 232.5h0M373.4 228.6h0M376.9 219.9h0M373.1 230.7h0M370.2 238.7h0M374.3 225.9h0M369.4 234.9h0M378.2 235.9h0M381.1 222.6h0M371 236.6h0M370.6 235.2h0M378.4 231.9h0M385.6 222.6h0M370.7 223.8h0M380.5 232.9h0M375.8 241.1h0M367.4 241.2h0M372.7 239.1h0M375.4 218.6h0M370.1 231.8h0M383.8 229.1h0M359 223.5h0M369.3 230.6h0M369.3 238.1h0M367.6 225.3h0M368.3 237.7h0M372.4 234.2h0M375.3 240.9h0M372.3 227.1h0M376.5 223h0M371.3 234.3h0M366.2 240.3h0M368.2 234h0M379.5 238h0M368.9 237h0M369.4 226.5h0M374.8 227.5h0M375.9 227.9h0M371.7 232.3h0M377.2 228.1h0M380.6 231.3h0M381.8 232.8h0M373.5 239.7h0M364.3 221.3h0M366.1 233.4h0M365.9 222.1h0M374.7 220.9h0M379.4 232.8h0M375.4 226.7h0M377.7 229.9h0M389.5 220.2h0M365.1 218.6h0M380.2 241.1h0M371.5 221.4h0M368.8 236.5h0M370.1 237.1h0M370.1 225.5h0M383.8 234.3h0M375 230.5h0M380.6 238.5h0M364.6 240.7h0M381.3 230.6h0M375.2 238.2h0M378.3 220.4h0M367 240.8h0M375.9 239.1h0M374 219.8h0M371.3 236.1h0M372.3 227.6h0M373.7 240.7h0M375 225.8h0M367.6 230.1h0M377.4 222.7h0M365 225.6h0M366.5 226.5h0M362.5 230h0M356.3 222.9h0M382.5 223.6h0M382.6 232.6h0M369.1 226.4h0M369.7 238.8h0M366.5 221.5h0M372 227.8h0M372 238.3h0M365.7 236.7h0M371.7 234.3h0M363.9 239.2h0M370.5 230.8h0M379 229.9h0M376.5 229.2h0M373.7 232.7h0M370.6 237.4h0M383.6 224h0M370.7 231.9h0M359.1 234h0M369.8 224.3h0M358.2 232h0M371.5 227.7h0M370.6 229.4h0M380.9 220.2h0M380.5 220.4h0M370.3 233.9h0M370.7 228.6h0M376.6 238.9h0M366 229.7h0M367.6 235.1h0M380.8 232.3h0M366.2 233.3h0M374.2 220.3h0M386.7 225.6h0M369.5 222.1h0M383.7 230.5h0M364.6 233.9h0M366.9 219.2h0M380.6 234.5h0M376.8 240.4h0M372.7 236.8h0M371.4 224.6h0M378.9 232h0M383.5 223.2h0M365.5 225.9h0M369.7 220.6h0M378.2 238.2h0M370.2 221h0M378.3 237.5h0M367 232h0M381 219.7h0M377.2 234.4h0M374.6 228.6h0M375 233.8h0M382.4 237.9h0M365.9 230.2h0M374.7 240.2h0M367.8 240.4h0M367.6 231.8h0M381.2 234.1h0M376 222.5h0M374.4 231h0M377.1 234.2h0M369.8 236.1h0M380.2 220.9h0M369.8 223.4h0M376.8 228.8h0M373.4 238.8h0M378.5 229.4h0M367.5 240.2h0M377.5 239h0M377.7 233.3h0M373.6 240.1h0M369.8 240.1h0M366.4 229.4h0M369.7 223.2h0M374.8 236.5h0M369.3 222.2h0M362.9 237.1h0M376.5 232.2h0M375.7 233.7h0M369.8 223.8h0M364.8 229.1h0M368.7 228.9h0M369.5 239.8h0M368.6 237.8h0M373.4 236h0M360.7 224.5h0M371.7 221.6h0M369.6 220.1h0M377.6 222.1h0M366.6 222.6h0M370.8 222.3h0M369.7 227h0M360 235h0M385.8 233.9h0M370.4 240.2h0M375.3 225.5h0M372.1 225.9h0M371.1 238.3h0M371.7 235.7h0M360.5 234.4h0M374.9 222.1h0M368.6 223.8h0M370.3 225.9h0M379 228h0M372.2 230.6h0M383.9 230.2h0M379.8 238.7h0M376.3 230.3h0M375.1 228.7h0M366.5 227.1h0M386 233.9h0M382.8 220.1h0M371.3 225.9h0M373.6 226.5h0M363.9 235.6h0M380 230.5h0M374.8 227.4h0M374.5 237.4h0M370.6 226.6h0M371.6 228.4h0M370.4 223.7h0M369.9 229.5h0M369.6 226h0M368.8 219.4h0M383.4 226.1h0M387 232.9h0M360.7 235.9h0M371.9 233h0M368.5 231.9h0M368.3 227.8h0M376.7 232.4h0M352.3 218.6h0M377 240.1h0M360.8 221.8h0M373.4 230.4h0M368.8 219.7h0M367.6 220.4h0M370.9 219.1h0M365.4 226.9h0M382.9 238.5h0M361.8 231.1h0M362.3 229.4h0M371 236.5h0M372 240.7h0M379.9 224.7h0M370.5 223.7h0M364.9 237.5h0M368.5 241.1h0M367 225h0M369.3 226.2h0M374.9 238.7h0M370 237.8h0M368 236.7h0M376 226.9h0M366 221.6h0M370.9 222.5h0M373.9 237.7h0M368 234.5h0M378.4 229.7h0M370.3 227.5h0M382.6 235.3h0M370.4 234h0M368.7 228h0M364.9 227.1h0M371.9 224.4h0M376 229.4h0M362.8 239.2h0M360.7 233.3h0M364.2 229.1h0M371.7 235h0M370.9 218.6h0M366.2 236.2h0M368.7 221.5h0M371.5 237.2h0M374.8 223.9h0M364.5 225.6h0M361.1 218.6h0M368.7 226.4h0M382.2 219.9h0M368.3 221.1h0M369.3 233.7h0M372.3 229.3h0M361.6 236.6h0M375.9 237.1h0M366.5 221.1h0M360.8 233.9h0M370.5 234.5h0M370.7 237.5h0M378.2 222.8h0M375.1 238.3h0M369 228h0M377.3 238.1h0M377.3 222h0M382.9 236.8h0M367.5 227.8h0M373.7 219.1h0M367.4 226.2h0M373.8 228.8h0M380.5 224.6h0M378 232.3h0M370.5 239.2h0M358.3 222.8h0M367.8 221.2h0M370.5 236.2h0M374.8 231.3h0M379.7 222.3h0M378.9 235.8h0M374.4 234.6h0M377.9 234.3h0M367.1 238.4h0M367.2 220.5h0M380.2 226.9h0M374.6 226.4h0M378.1 224h0M377.7 221.5h0M376.3 230h0M370.4 218.9h0M377.1 241.2h0M372.2 236.4h0M377.4 237.8h0M378.3 228.2h0M370.9 224.4h0M383.5 221.9h0M371.9 218.6h0M380.9 219.9h0M365.7 231.2h0M377.6 230.5h0M365.1 229.8h0M366.7 241.2h0M363.4 230.7h0M370.1 225.4h0M372.6 240.2h0M369.3 235.4h0M385.9 233.1h0M378 239.5h0M366.3 234.4h0M372.3 231.8h0M371.1 239h0M374.5 226.8h0M371.8 226.6h0M363.8 218.6h0M383.4 224.8h0M379.6 240.9h0M376.1 238.8h0M379.6 220.1h0M374.8 238.3h0M368.3 237.1h0M365.6 231.3h0M376.6 223.1h0M367.2 231.2h0M370.2 240.9h0M365.6 233.6h0M376.8 219.1h0M370.2 236.7h0M374.2 225.9h0M370.1 235.1h0M365.5 240.3h0M375.6 233.9h0M371.6 230.8h0M367.2 221.5h0M377.1 237.7h0M379.8 221.2h0M383.1 236.9h0M377.2 234.6h0M374.3 232.1h0M378.5 219.1h0M367.8 233.4h0M372.1 234.3h0M373 240.7h0M362.5 235h0M376 227.1h0M378.3 225h0M371 232.1h0M379.6 219.7h0M366.7 240.7h0M378.5 227.1h0M378.7 233.2h0M369.2 230.2h0M372.6 234.5h0M369.6 238.7h0M365.7 238.3h0M364.1 238.9h0M365.6 228.8h0M375 218.6h0M362.6 237.1h0M370.6 221.2h0M386.6 224.1h0M376.3 235.4h0M373.4 238.4h0M369.4 237.6h0M358.9 218.6h0M377.1 228.5h0M378.2 218.6h0M371.2 236h0M367.2 238.7h0M371.6 229.3h0M367.3 239.7h0M377.7 231.2h0M371.1 230.1h0M376.9 219.3h0M366.5 225.5h0M363.3 240h0M357.3 230h0M373.8 241.2h0M363.8 229h0M379.3 228.6h0M371.8 229h0M371.3 221.1h0M361 234h0M376.5 229.7h0M376.1 221.5h0M380.5 225.6h0M369.8 233.5h0M373.6 240.1h0M374.5 239.8h0M376.8 219h0M377.5 238.7h0M373.8 240.6h0M375.5 223.4h0M376.8 229.1h0M380.8 231.5h0M378.3 226.7h0M374.4 236.4h0M371.3 233.4h0M369.9 235.6h0M377 238.2h0M367 225.9h0M366.5 233.3h0M372.2 233h0M369.2 228.6h0M370.5 226.8h0M375.1 223.6h0M371.3 225.8h0M374.3 235.3h0M374.5 239.8h0M371.9 227.9h0M367.8 237.3h0M376.2 232.8h0M373.6 221.2h0M369.3 240.3h0M367.1 233.6h0M372.8 237.1h0M383.7 229.3h0M372.4 229.9h0M377.3 236.1h0M369.4 219.6h0M367.9 228.9h0M379.2 238.8h0M375.1 223.4h0M366 226.4h0M379.5 233.1h0M371.3 223.9h0M379.2 224.1h0M379.6 234.2h0M371.3 220.4h0M367.6 226.9h0M380.4 240.1h0M385.3 233.5h0M374.3 241h0M363.6 226.8h0M370.2 239.1h0M376.2 231.3h0M362 229.4h0M368.3 240.2h0M367.1 218.6h0M369.2 219.6h0M384.4 218.6h0M373.8 233.9h0M382.5 234.4h0M374.1 238.6h0M373.9 218.6h0M371.4 223.7h0M373 238.7h0M381.2 240.7h0M379 222.5h0M377.1 235.8h0M378.6 233.6h0M365.9 223.7h0M368.4 223.1h0M364.3 229.5h0M368.3 221.6h0M379 231.3h0M367 232.2h0M367 227.6h0M368.9 229.8h0M364.9 235.7h0M373.5 224.5h0M376.6 226.2h0M380 238.1h0M374 228.8h0M376.2 230h0M378.9 229.2h0M369.2 229.1h0M369 225.9h0M375 231.7h0M373.6 230h0M370.8 220.7h0M372.5 240.3h0M369 224.5h0M366.6 240.3h0M373.8 240.9h0M369 221.3h0M367.8 239.1h0M376.9 240h0M374.1 222.7h0M379.3 234.4h0M369 231.7h0M379.4 228.3h0M384 229h0M369.6 224.9h0M369.4 232.1h0M367.6 223.5h0M368.2 234.5h0M371.2 239h0M374.6 223.8h0M369 219.4h0M375.8 222h0M366.5 239.8h0M370.4 231.2h0M378 227h0M379.8 228.4h0M382.2 222.4h0M381.4 218.6h0M379.2 227.3h0M363.1 221h0M368.4 233.8h0M369.1 229.8h0M371.3 220.8h0M374.7 236.9h0M380.8 228.7h0M369.2 227.4h0M356.8 226.6h0M364.5 224.4h0M374.8 224.3h0M376.2 228h0M366.1 237.1h0M377.6 236.2h0M374 229.3h0M380.3 236.6h0M357.7 222.5h0M373.7 224.7h0M371.5 239.6h0M373.3 227.3h0M369.7 225.9h0M367.8 226.6h0M369.8 223.3h0M364.8 226h0M358.5 231.2h0M375.9 235.6h0M368.8 226.1h0M366.3 223.3h0M379.6 236.8h0M370.7 231.8h0M371.4 239h0M376.3 225.2h0M369.7 222.6h0M373.4 240.5h0M367.2 222.4h0M378.6 235.3h0M372.6 233.7h0M382 232.1h0M376.6 220.7h0M379.6 233.7h0M369.5 223.1h0M368.6 218.6h0M377.8 225.8h0M377.7 226.2h0M370.6 226.1h0M376.3 229h0M371.2 240.9h0M375.4 233.1h0M368.2 234h0M376.9 237.8h0M369.5 225.5h0M375.4 237.7h0M370.6 237.5h0M372.7 239.6h0M373.1 234.2h0M373.8 232.1h0M380 219.8h0M382.7 238.1h0M375.8 224.4h0M365.7 236.6h0M371.7 222.2h0M366.5 233h0M380.3 227.4h0M372.1 227h0M370.7 223.5h0M375.2 221.5h0M369.7 229.1h0M376.4 229.7h0M374.5 233.7h0M365.2 232.3h0M377 220.6h0M369.5 235.6h0M377.3 227.8h0M360.6 231.1h0M382.2 222.5h0M370.1 233.9h0M370.7 237.3h0M379.2 232.3h0M368.1 229.4h0M378 237.8h0M363.1 238.7h0M380.6 234.8h0M381.4 239.4h0M377.1 223.4h0M364.2 233.8h0M375.6 226.1h0M374.8 221.4h0M369.9 229.4h0M367.3 221h0M370 230.1h0M368.8 240.1h0M372.3 230.3h0M378 233.2h0M371.8 233.8h0M376.1 231.2h0M373.7 221.5h0M369.3 223.7h0M374.4 224h0M371.8 237.7h0M376 224.7h0M382.9 223.8h0M362.6 235.4h0M375 219.4h0M361.8 231.5h0M370.7 221.7h0M364.4 230.5h0M375.3 231.2h0M382.2 226.1h0M368.2 224h0M374 235.8h0M366.8 225.7h0M373.4 238.9h0M380.1 236.7h0M366.6 233.5h0M368.9 241.1h0M363.5 222.1h0M374.1 230.5h0M374.9 237.6h0M369.2 227.5h0M375.8 235.5h0M362.8 236.5h0M374.2 233.8h0M371 236.6h0M363.4 235.7h0M363 220h0M366.6 240h0M375.7 230h0M378 229.5h0M374.1 229.9h0M379.1 218.9h0M372 240.9h0M367 223.3h0M379.2 240.1h0M374.4 239.7h0M365.1 232.4h0M369.1 229.4h0M376.6 229.3h0M377.5 235h0M374.6 218.6h0M366 221.8h0M372.1 228.6h0M381.5 219.3h0M376.2 235.3h0M379.4 220.9h0M366.3 232.3h0M369.8 241.1h0M374.9 220h0M374 236.5h0M371.3 239.1h0M362.5 235.6h0M374.5 225h0M373.8 225.2h0M368.2 221.5h0M377.5 236.6h0M386.5 231.3h0M374 219.6h0M372 236.5h0M378.1 239.5h0M384.6 222.6h0M373.6 237.7h0M371.6 227.3h0M370.8 235.5h0M384.6 225.1h0M378 232.9h0M378.3 222.5h0M373.4 236.3h0M370.4 240.8h0M369.8 233.9h0M379.6 240.4h0M383.1 235.2h0M368.7 236.6h0M379.8 236.4h0M363.1 236.2h0M360 231.1h0M371 226.2h0M375.3 240h0M378.3 222.8h0M370.3 238.8h0M368 223.7h0M379.9 225.3h0M357 224.6h0M376.5 231.8h0M374.1 240.2h0M365.5 219.6h0M368.9 227.1h0M382.1 235.7h0M355.6 225.1h0M369 219.9h0M363.9 227.6h0M371.2 222.6h0M373.7 223.4h0M373.1 240.6h0M375.9 221.2h0M377 226.4h0M374.9 230.7h0M364.7 230h0M367.4 230.1h0M378.2 221.5h0M369.9 235.6h0M376.8 240h0M378.5 237.8h0M355.7 221h0M384.1 231h0M376.7 232.8h0M376.8 219.8h0M378.4 230h0M377.4 240h0M378.7 233.8h0M368.6 231.8h0M371.5 218.6h0M370 238.9h0M370.8 225.1h0M374.5 223.7h0M373.4 238.7h0M370.3 219.3h0M369.1 235.7h0M367.5 240h0M370.4 219.7h0M366.8 218.8h0M367.9 230.1h0M376.6 236.6h0M377.6 240.5h0M369 219.6h0M368 230.6h0M360.4 218.6h0M370.1 228.1h0M373.7 223.8h0M370 231.9h0M369.9 232.9h0M377.9 228.3h0M376.1 240.7h0M369.2 232.7h0M382.5 226.4h0M380.1 236.9h0M385.7 233.2h0M373.3 234.2h0M369.6 235.3h0M371.5 224.4h0M372.3 239.1h0M367.1 221.8h0M377.9 238.6h0M368.7 236.9h0M360 227.8h0M376.3 234.5h0M371.9 235.1h0M375.3 240.4h0M369.4 240h0M360.6 221.6h0M382.6 218.6h0M376.9 219.5h0M371.9 230h0M374.5 237.5h0M381 231.3h0M375.4 227.4h0M371.6 231.4h0M372.3 226.7h0M365 231.5h0M375 224.1h0M371.5 221.6h0M376.6 224.5h0M368.7 226.6h0M368.8 219.2h0M362.4 225.9h0M370.7 240.1h0M370.4 218.6h0M369.3 219.9h0M379.4 237.8h0M377.5 237.4h0M373.9 219.4h0M367 230.7h0M374.4 222.7h0M393.9 218.6h0M370.3 221.7h0M371.4 232.9h0M377.3 222.1h0M367.1 229.1h0M375.6 233.5h0M364.5 232h0M371.8 220h0M373.8 234.2h0M374.6 220.7h0M378.6 225.4h0M372.6 234.3h0M371.8 239.6h0M377.9 221.9h0M371.9 239.7h0M377.3 219.4h0M369.7 235.2h0M374.4 219.4h0M370.5 241h0M373 240.2h0M369.6 221h0M372.4 237.4h0M357 227.8h0M379.7 230.6h0M366.1 229.9h0M373.6 237.5h0M366.6 221h0M384.5 236h0M378.5 238.7h0M383.1 218.6h0M369.5 231.3h0M373.4 239.9h0M378.6 239.5h0M370.4 234.6h0M385.9 229.7h0M378.1 220.9h0M376.7 233.1h0M372.2 232.9h0M380.6 231.4h0M372.6 234.4h0M364.6 232.3h0M371.9 220.6h0M366.3 221.1h0M373.2 229h0M375.4 239.4h0M370.9 224.6h0M371.2 234.1h0M362.7 221.4h0M368.2 225.7h0M381.8 228.9h0M366.2 235.4h0M360.9 227h0M370.6 219.3h0M380.7 224.9h0M377.8 233.5h0M373.3 226.6h0M373.2 235.3h0M370.4 235.5h0M375.2 226.1h0M374.5 221.3h0M371.5 225.2h0M362 233.2h0M369.5 237h0M368 223.3h0M366.2 236.3h0M373.8 224.7h0M373.8 224.1h0M368.1 241.2h0M376.6 218.6h0M370.4 218.6h0M368.8 237.3h0M376.6 233.9h0M376.2 219.8h0M385.7 231.6h0M377.6 232.6h0M374.6 239h0M373.8 221.8h0M368.4 232.7h0M362.5 219.7h0M370.1 218.6h0M368.5 229.5h0M373.1 234h0M377 239.9h0M371.1 223.3h0M376.8 218.7h0M387 232.4h0M371 222.7h0M370.4 236.7h0M380.3 231.5h0M379.4 233.7h0M382.3 228.5h0M367.7 234.2h0M363.3 220.4h0M381.7 239.9h0M380.4 227.9h0M373.6 226.3h0M358.8 218.8h0M384.2 227h0M381.9 231.6h0M379.5 237.5h0M362 233.2h0M374.1 222.9h0M367.6 241.1h0M373.7 221.3h0M380.9 222h0M371.1 231.2h0M365.7 222.5h0M364.9 235.9h0M374.4 237.7h0M366.2 224.3h0M369.2 225.2h0M368.2 234.1h0M366.3 225.4h0M366.9 238.8h0M363.4 239.4h0M380.2 222.4h0M374.5 230.9h0M369.2 224.2h0M384.1 228.3h0M372.3 231.2h0M377.8 220.2h0M374.1 219.6h0M368.9 231h0M366.8 234.2h0M369.1 234.2h0M380 223h0M367.1 234.7h0M371.7 231.3h0M368.6 240.6h0M373.4 236.4h0M371.8 221.7h0M366.7 219.9h0M374.8 218.6h0M368.3 236.2h0M376.6 228.4h0M374.6 228.9h0M371.6 221.4h0M374.1 232.6h0M376 220.7h0M378.8 235.7h0M379.1 232.7h0M378.9 237.2h0M376.1 238.9h0M371.8 226.1h0M376.1 223.7h0M370.6 231.7h0M369.5 223.5h0M374.2 228.5h0M376.1 222.8h0M367.1 232.1h0M376.6 235.1h0M373.9 225.5h0M372 236.9h0M371.4 224h0M373.7 223.1h0M381 236.4h0M364.2 226.1h0M376.9 230h0M364.1 221.4h0M376.1 240h0M369.9 237.6h0M363.9 234.8h0M379.5 222.5h0M363 235.5h0M367.9 234.6h0M366 230.1h0M370.3 222.7h0M364.4 223.9h0M374.7 240h0M379.3 232.7h0M380.8 220.2h0M379.4 232.5h0M368.5 237.3h0M370.6 238.8h0M374.3 232.4h0M371.8 227.1h0M368.9 219h0M358.5 220.1h0M368.2 220.3h0M374.8 238.1h0M371.6 238.8h0M386.2 230h0M352.3 218.6h0M362.2 230.2h0M363.6 221.5h0M377.4 229.1h0M380.6 218.6h0M365.6 227h0M372 232.8h0M375.8 231.7h0M374.5 223.1h0M373.6 231.3h0M367.4 231.9h0M366 238.1h0M363.2 223.5h0M364.2 230.9h0M375.9 238.7h0M370.2 231.3h0M369.2 226.2h0M365.2 222.8h0M371.5 219.2h0M378.1 237.3h0M364.9 229.2h0M380.7 235.3h0M375.1 233.5h0M356 222.5h0M373.7 226h0M373.7 240.9h0M380.4 239.3h0M370.5 222.8h0M357.2 226.3h0M361.3 237.3h0M362.6 229.1h0M375 231.9h0M365.6 234.8h0M363.8 220h0M374.4 222.9h0M376.9 230.7h0M362.5 222.5h0M371.3 220.7h0M378.5 235.7h0M376.1 238.4h0M380.6 233.4h0M380.3 228h0M377.4 220.1h0M368.4 224.3h0M385.1 224.5h0M376.9 231.6h0M371.9 226h0M370.1 234.1h0M375.9 241.1h0M369.2 238.1h0M371.7 231.4h0M379.5 233.4h0M375.9 220.8h0M365.1 224.4h0M374.2 224h0M370.1 236.1h0M367 225.7h0M366.3 237.2h0M366.6 225h0M373.3 238.9h0M379.8 237.7h0M371.1 239.9h0M380.9 230.4h0M367 228.9h0M370.3 220.8h0M381.7 234.4h0M373.5 234.7h0M374.2 236.3h0M374.9 224.8h0M369 235.4h0M386.3 223.7h0M372.2 228.3h0M377.9 232.5h0M375.7 234.2h0M378.8 222.8h0M381.8 220h0M358 228.3h0M363.5 227.8h0M359.6 220h0M367.1 236.8h0M371.1 239.5h0M374.5 223h0M368.9 232.8h0M376 225.7h0M377.1 219h0M373 234.2h0M365.2 227.2h0M368.6 232.6h0M370.3 219.4h0M376.8 232.8h0M371.1 231.5h0M374.8 224.6h0M362 234.1h0M355.3 219.4h0M373 235.9h0M373.4 225.1h0M365.9 222h0M369.4 240.9h0M375.7 231.6h0M375.9 230.2h0M380 221.7h0M376.8 231h0M370 224.4h0M375.4 236.7h0M384.9 229h0M382.4 225.1h0M367 238.4h0M374.4 238.4h0M381.4 239.2h0M373.1 237.2h0M376 236.3h0M380.1 234.2h0M374.2 229.6h0M375 239.3h0M369.9 234.4h0M366.3 236.3h0M369 227.2h0M376.6 228h0M370.5 223.3h0M373.6 223.8h0M385.1 231.9h0M367.3 225.9h0M378 233.6h0M368.9 231.6h0M376.2 226.3h0M377.6 232.4h0M380.3 221.8h0M367.6 240.1h0M369.5 219.9h0M373.5 230.7h0M371.4 227.2h0M354.6 223.3h0M374.9 233.4h0M364.9 239.9h0M371.5 221.1h0M364.3 234h0M374.6 218.7h0M371.3 222h0M388.5 227.7h0M376.5 241.2h0M370 237.7h0M377.2 240h0M362.6 219.8h0M378.2 237.6h0M379.4 222.1h0M369.6 239.4h0M370.6 230.3h0M361.3 236.9h0M374.6 236h0M377.4 236.3h0M364.5 232.4h0M376.7 225.6h0M365.6 219h0M381.8 220.8h0M359 229h0M370.4 225.3h0M378.5 225.9h0M364.8 218.9h0M368.1 233.9h0M372.2 226h0M371.4 232.1h0M367.3 218.6h0M367.7 230.8h0M369.4 224.5h0M370.3 239h0M368.8 220.6h0M377.9 225.1h0M373.4 238.2h0M375.5 224h0M375.7 238.3h0M364.3 226.6h0M365.2 219.4h0M384 229.5h0M359.5 226.1h0M367.5 223.5h0M376.1 239.2h0M370.9 239.4h0M370.2 238.1h0M382.3 218.6h0M365.3 221.6h0M379.2 222.4h0M363 227.9h0M362.1 224.1h0M369.9 229.9h0M374.4 221h0M386.3 221h0M374.6 237.7h0M373.8 232.1h0M376.9 227.5h0M371.5 221.5h0M368.2 236.6h0M368.6 220.4h0M376.3 221.7h0M369.6 236.8h0M362.8 224.6h0M367.6 219.5h0M361.7 219.5h0M380.8 221.2h0M361.6 236h0M376.5 219.6h0M370.3 232.5h0M380 238.7h0M383.4 237.9h0M369.6 225.4h0M376.4 229.8h0M373.9 229.7h0M362.7 235h0M381.5 226.7h0M377.4 224.3h0M376.1 230.8h0M377.2 238.9h0M374.4 239.9h0M367.8 227.9h0M374.2 237.4h0M365 240.4h0M385.6 221.6h0M364.7 240.5h0M378.9 232.1h0M368.1 224.7h0M373 237.4h0M375.7 238.2h0M366.4 234.3h0M373 234.4h0M354.4 222.6h0M373.5 229h0M380.4 218.6h0M370 220.2h0M367.1 224.9h0M367.3 235.3h0M357 219.6h0M363.4 239.5h0M374.6 229.8h0M383.1 225.4h0M377.1 223h0M371.2 219.4h0M371.4 227.3h0M375.4 228.2h0M382.9 223.4h0M370.5 220.4h0M372.4 238.2h0M375.2 222.7h0M376.2 222.8h0M374 230.7h0M363.7 221.1h0M361.7 221.3h0M371.9 239h0M377.7 219h0M384.1 229.4h0M374.6 239.1h0M365 233.3h0M369.1 218.6h0M362.5 232.6h0M370.2 219h0M379.1 229.9h0M373.1 234.7h0M385.1 221.3h0M370.7 235.8h0M372.1 225.5h0M374.2 240h0M374.9 237.1h0M373.5 229.1h0M374.1 234.7h0M377.8 241h0M368.8 233.2h0M371.8 226.6h0M375.1 224.3h0M369.5 221.6h0M365.8 239.6h0M374.9 223.4h0M374.6 230.8h0M367.3 224.7h0M366.3 233.7h0M358.8 228.4h0M364.2 220.7h0M373.9 227h0M358.2 224.8h0M369.9 223.3h0M372.5 233.9h0M368.3 221.6h0M367.3 225.5h0M378.2 222.7h0M375.4 219.2h0M365.3 225.9h0M378.3 225.6h0M382.5 222.6h0M366.5 227.3h0M365.5 221.1h0M368.3 231.7h0M374.2 236h0M371.7 235.5h0M369.4 220.2h0M365.2 235h0M376.6 238.9h0M371.8 232.6h0M372.3 228.1h0M371.4 224.3h0M374 239.4h0M362.7 230.4h0M368.5 223.5h0M372.2 231.4h0M374.1 236h0M375.6 220.2h0M378 233.7h0M371.9 238.7h0M377.2 230.8h0M376.5 227.4h0M374.7 225.1h0M370.8 226.4h0M369.9 225.2h0M372.1 231.8h0M377.2 226.2h0M367.3 223.9h0M367 222.9h0M375.5 224.8h0M373.7 236.2h0M378.5 225.6h0M379.9 223.4h0M375.7 219.1h0M363 221.1h0M378.6 241.1h0M375.6 218.8h0M377 232.5h0M375.8 229.6h0M372.4 239h0M375.2 233.5h0M365 238.6h0M365.7 233.4h0M372.4 236.1h0M381.2 236.9h0M374.1 233.7h0M380.1 221.5h0M372.1 231.1h0M373.4 235.3h0M378.3 240.1h0M377.9 235h0M373.7 219.2h0M370.1 219.8h0M378.2 221.7h0M374.9 222.3h0M369.5 221.4h0M371.3 241.2h0M366.6 220.5h0M374.1 221.4h0M377.5 237.6h0M359.3 219.5h0M369.9 226.6h0M364.9 236.7h0M369.3 221.5h0M369.4 240.2h0M365.3 227.8h0M373.2 232.2h0M364.4 228.8h0M366.5 220.8h0M363.8 229.5h0M367.3 223.9h0M375.2 238.7h0M369.2 219.3h0M379.8 232.3h0M370.8 239.7h0M368.4 237.6h0M379.3 220.3h0M374.4 241.2h0M377.5 219.5h0M375.5 223.6h0M380.8 234.2h0M378 220.8h0M379.8 239.4h0M366.9 224.3h0M375.9 235.6h0M377.8 224.7h0M372.5 240.5h0M379.7 224.2h0M373.5 228.7h0M370.5 221.8h0M375.7 229.1h0M365 222.9h0M363.4 232.9h0M370.5 221.9h0M359.2 219.7h0M378.6 240.4h0M368.7 225.8h0M381.6 234.7h0M374.1 220.2h0M367.8 219.2h0M368.8 226.2h0M375.9 234.9h0M378.3 223.5h0M370.8 225.3h0M364.7 237.6h0M373.7 234.2h0M375.8 239.8h0M376.8 231.4h0M365 236.2h0M369 233.8h0M376.5 231.9h0M383.2 223.6h0M371.8 222.7h0M365.6 235.7h0M375.8 237.2h0M353.9 219.6h0M373.6 227h0M369.3 231.8h0M382.5 222.6h0M369.6 236.2h0M365 220.4h0M387.4 225.1h0M375 224.3h0M372.5 235.4h0M368.6 240.1h0M366.7 226.1h0M362.1 231.9h0M376 231.2h0M367 223.7h0M377.1 231.9h0M375.4 223.3h0M377.8 235.5h0M370.2 230.3h0M373.2 233.3h0M368.8 237.5h0M370.4 228.9h0M366.8 230.5h0M358.7 224.5h0M373.8 229.1h0M364.9 234.9h0M386.1 231.6h0M371.9 229.5h0M362.5 229.3h0M370.9 236.7h0M376 232.5h0M374.9 240.7h0M367.8 239.7h0M373.9 239.4h0M373.4 237.3h0M369.4 226.8h0M370.5 225.6h0M374.3 223.4h0M372.1 231.1h0M375.8 226.3h0M378.1 227.9h0M380.1 238.2h0M365.9 235.3h0M369.4 220.4h0M374.3 240.8h0M374.1 240.2h0M368.3 229.1h0M371.4 230.2h0M371.5 227.4h0M373.5 232.6h0M376.3 225.1h0M369.4 233.1h0M361.8 229.4h0M369.8 226h0M370.3 220.6h0M371.1 237.3h0M377.9 232.4h0M366.3 232.8h0M375.6 240.2h0M382.4 220.5h0M365.3 224.9h0M371.1 233.2h0M372.1 235.6h0M376.3 236.7h0M375.9 231.9h0M369.1 235h0M388.4 224.6h0M370.7 230h0M373.9 229.1h0M376 222.9h0M374.6 224.2h0M372.6 238.9h0M369.2 239.1h0M369.9 227.4h0M370.9 230.9h0M380.4 241.1h0M363.9 234.5h0M369.6 237.7h0M369.7 229.6h0M367.5 236.8h0M377.8 219.7h0M370.1 220.7h0M368.8 241.1h0M368.5 226.3h0M377.9 220.5h0M375.3 234.7h0M368.6 219.2h0M374.4 238h0M372.9 238.1h0M381 238.1h0M365.9 234.1h0M361 226.1h0M369.2 223.4h0M368.1 239.6h0M367.1 240.1h0M371.8 238.2h0M374.6 220.6h0M374.3 218.6h0M373.8 223.9h0M367.7 239.5h0M382.2 237.5h0M369.6 232.6h0M365.9 226.9h0M371.7 225.9h0M375.4 226.2h0M361.7 235h0M376.8 221.9h0M374.8 223.2h0M373.1 233.6h0M371.6 234.1h0M382.4 238.2h0M383.6 233.8h0M365.2 236.9h0M369.6 231.5h0M368.3 228.2h0M370.5 219.9h0M366.3 232.6h0M364.9 235.3h0M369.1 221.8h0M369.8 238.8h0M377.3 236.6h0M377.4 226.1h0M376.2 226.4h0M375.2 229.7h0M381.6 234.2h0M367.5 238.3h0M370.4 240h0M376.5 226.5h0M366.8 227.4h0M376.4 229h0M367.3 228.4h0M369.5 220.5h0M367.8 218.7h0M376.6 233.1h0M367.9 236.5h0M372.9 237.6h0M376.5 237.5h0M376.3 219h0M372.1 231.1h0M365.7 237.4h0M375.6 237h0M366.8 226.6h0M376.9 230.9h0M370.1 224.8h0M378.5 218.6h0M371.6 234.2h0M371.6 220.1h0M366 236.3h0M372.8 236.4h0M379.2 218.7h0M373.5 225h0M374.8 224.5h0M366.5 220.2h0M381 230.8h0M365.3 231h0M381.1 236.7h0M369.5 229.9h0M358.3 224.7h0M373.7 227.8h0M371.2 234.1h0M366.7 238.3h0M364.3 234.2h0M373.8 239.8h0M372.1 240.4h0M371 238.9h0M380.2 240.8h0M371.4 221.4h0M369.7 240.1h0M362.9 234.8h0M369.2 220.8h0M375.4 236.8h0M375.5 228.3h0M375.9 221.9h0M370.5 232.6h0M375.4 225.1h0M360.5 224.6h0M370.2 237.9h0M385.7 220.4h0M376.5 226.4h0M373.2 238h0M376.6 221.7h0M382.5 222.9h0M371.4 220.6h0M375.3 227.6h0M377.9 224.4h0M372.4 238.4h0M377.4 221.1h0M368.2 238.9h0M386.4 226.8h0M370.7 233.7h0M374.1 227.5h0M382.5 218.6h0M385.8 219.1h0M378.3 236.2h0M375.7 224.3h0M378.7 223.7h0M358.3 232.5h0M371.8 221.8h0M380.6 229.8h0M371.2 229.8h0M382.4 235.5h0M380.8 229.9h0M372.1 232h0M375.7 241h0M377.1 238.3h0M380.7 220.5h0M371.4 236.1h0M362.6 220.7h0M373.7 230.4h0M388.8 222h0M367.6 240.8h0M374.5 240h0M370.9 240.1h0M375.5 227.2h0M386 230h0M381.1 238.8h0M363.9 222.9h0M372.1 234.2h0M373.4 228.8h0M372 227.3h0M370.4 228.8h0M366.3 231.3h0M364.3 240.5h0M371.3 236.8h0M375.5 224.9h0M370.4 226h0M370.6 218.8h0M383.4 238.6h0M371 236.8h0M376.2 238.5h0M376.8 222.5h0M368.4 225.9h0M381.8 222.1h0M364.7 236h0M368.3 221.1h0M373.3 240.3h0M379.4 239.3h0M380.9 235.4h0M366.9 225.4h0M370.8 227.1h0M364 238.4h0M365.3 239.1h0M382.1 223.2h0M375.5 231.5h0M376.2 239.5h0M366.7 241.2h0M373.4 238.5h0M359.3 232.6h0M374.2 221.6h0M374.5 237.2h0M382.8 219.8h0M373.3 230.6h0M374.5 226.5h0M377.1 239.6h0M387 230.4h0M380.2 236.4h0M378.9 239.2h0M369.4 230.8h0M373.1 237.6h0M371.3 237.1h0M366.5 234.5h0M377.2 225.9h0M369.3 219.4h0M375.2 237.3h0M367 219.3h0M374.4 229.3h0M361.5 237.2h0M372.2 236.5h0M381.2 222.3h0M370.2 239.5h0M368 234.8h0M374 234.6h0M369.2 238.1h0M370.6 225.6h0M375.5 229.2h0M370.2 237.3h0M368.5 219.9h0M360.6 224.5h0M363.4 221.3h0M366.8 219.2h0M374.6 233.2h0M375.4 232.6h0M374.6 228h0M369.8 240.4h0M373.9 222.1h0M373.7 221.1h0M381.8 223.7h0M371.8 230.1h0M367.5 221.7h0M370.1 225.3h0M376.3 221.1h0M376.8 226.3h0M367.8 232.2h0M376.7 231.3h0M368.9 224.4h0M383.3 236.5h0M371.3 220.8h0M369.4 219.5h0M360.6 220.3h0M381.3 229.2h0M367.6 241.2h0M374.2 220.8h0M370.2 237h0M359.2 234.2h0M372.2 231.1h0M369.5 220.1h0M370.7 227.6h0M368.8 236.2h0M370.1 238.9h0M379.2 229h0M374 234h0M377.4 238.1h0M369.6 235.4h0M370 221.9h0M367.3 227.8h0M374.5 232.1h0M370.6 238.1h0M369.6 232.3h0M370.5 239.9h0M367.5 224.5h0M377.9 225.3h0M366.3 234.9h0M380.5 231.2h0M373.9 230.1h0M380.1 234.2h0M384.8 219.2h0M375.4 234h0M376.6 221.4h0M374.3 218.9h0M376.8 232h0M379.5 239.7h0M373.5 225.6h0M374.2 231.1h0M370.5 229.8h0M366.5 219.3h0M380 239.5h0M378.5 220.4h0M381.3 231.6h0M366.2 237.5h0M375.1 236.7h0M376.2 235.9h0M380.8 230.2h0M375.8 219.5h0M370.3 226h0M374.6 229.7h0M381.1 221.4h0M371.2 230.7h0M374 237.8h0M373.5 234.3h0M375.7 219.1h0M376.8 223.9h0M367.7 230h0M385.1 219.3h0M367.6 237.5h0M367.2 220.4h0M373.9 220.3h0M379.5 234.8h0M380.3 232.3h0M385.3 232.7h0M374.6 240.5h0M369.4 236.5h0M366.4 220.6h0M370.4 239.4h0M375 234.5h0M372.3 232.4h0M359.2 232.7h0M372.1 237.2h0M375 235.4h0M367.3 228.5h0M367.3 222.7h0M366.1 237.1h0M378.7 232.5h0M382.6 230.2h0M378.6 233.7h0M368.6 225.4h0M369.1 220.6h0M383.3 234.7h0M385.2 231.1h0M379.9 240.5h0M372.2 240.8h0M363.2 227.3h0M376.5 236.8h0M381.4 235.3h0M371.6 218.6h0M367.6 232.1h0M374.2 229.2h0M374.1 234h0M369.8 221.6h0M370.9 237.2h0M360.5 232.1h0M371.3 229.9h0M361.7 219.2h0M367.9 233.3h0M367.3 222.8h0M371.3 231.8h0M378.3 226.2h0M367 238.4h0M374.1 221.3h0M364.4 225.8h0M371.7 231.2h0M370.2 220.9h0M369.6 236.7h0M368.1 234.6h0M366.7 222.9h0M361.7 219.6h0M363.6 218.7h0M361.7 228.6h0M375.4 223.9h0M366.5 228.6h0M377.8 235.6h0M376.7 218.7h0M370.9 233.6h0M379.6 222.3h0M370.4 238.6h0M361.1 233.8h0M368.7 240.7h0M372.2 235h0M371.5 241.1h0M364.7 230.7h0M376.6 227.3h0M367.9 219.8h0M378.9 223h0M374.3 220.5h0M381.1 226.8h0M378.3 222.2h0M370.2 233.1h0M380.4 225.2h0M370.9 233.6h0M374.7 226.6h0M379.6 232.5h0M374.2 228.9h0M379 228.5h0M378.5 227.4h0M376.4 239.4h0M369.8 239.7h0M363.2 223.1h0M367.8 241.1h0M367.8 231.2h0M380.6 237.4h0M373.1 238.2h0M374.4 232.3h0M371 239.4h0M363.3 238.7h0M368.6 226.7h0M375.8 220.5h0M379.8 222.7h0M382.9 220.9h0M378.8 233h0M380.7 223.1h0M370.3 240h0M378.4 236.4h0M377.3 232h0M365.4 229h0M373.5 228.6h0M371.6 219h0M381.4 222.1h0M373.2 239.5h0M364.1 218.9h0M373 232.5h0M385.8 221.7h0M364.5 239.6h0M371.3 220h0M375.1 232.3h0M372.1 226.2h0M375.6 226.6h0M366.4 234.1h0M369.8 234.9h0M370.4 238.6h0M374 238.4h0M367.2 223.6h0M363.5 227.6h0M378 226.2h0M380.5 220.3h0M376.9 240.8h0M373.8 238.5h0M378.2 223.4h0M370.7 221.6h0M375.3 231.3h0M365.8 221.4h0M364 220.8h0M369.2 219.8h0M373.5 223.8h0M375.3 219.9h0M376.3 224.5h0M365.3 237.3h0M375.8 237.2h0M379.3 230h0M370.3 227.1h0M368.6 239.7h0M367.2 218.6h0M374.8 236.8h0M365.3 222.6h0M379.2 239.1h0M374.5 241.1h0M369.7 234.3h0M376.1 218.6h0M377.9 237.9h0M370.6 241h0M365.7 230.5h0M369.3 219.2h0M367.3 225.7h0M375.9 232.6h0M375.7 238.6h0M381.4 226.3h0M373.3 230.3h0M376.4 218.6h0M362.1 227.3h0M363.8 236.7h0M364.1 222.9h0M354.8 218.6h0M374.2 221.7h0M358.7 226.3h0M383.6 219.4h0M362.6 230.1h0M371.2 235.3h0M371.2 236.6h0M379.7 238.9h0M367.5 218.6h0M374.1 223.1h0M369.3 218.8h0M374.2 226.9h0M370.7 233.7h0M362.9 229.6h0M368.4 234.1h0M368.3 239.2h0M375.8 234.4h0M362.8 238.3h0M383.5 223.6h0M366.3 238.9h0M373.7 233.1h0M374.2 230.2h0M373.9 225.8h0M364.6 235h0M375.6 222.8h0M362.8 235.7h0M369.6 218.6h0M369.2 218.8h0M365.5 238.9h0M378.3 228.6h0M359.8 231.3h0M378.1 236.4h0M369 233.4h0M363.5 225.3h0M374.6 219.7h0M374.4 219.3h0M365.4 230.7h0M371.2 233.9h0M382.2 224.3h0M370.8 220.2h0M370.3 225.7h0M386.9 219.6h0M372.8 241.1h0M373.2 237.1h0M373.3 240.3h0M368.5 221.3h0M365.3 234.9h0M375.9 227.3h0M376.2 230.9h0M370.3 229.4h0M365.3 233.1h0M369.9 238.2h0M374.9 229.8h0M378.1 238.6h0M365.8 234.5h0M369.9 240.7h0M374 233.8h0M374.8 233.6h0M371.8 218.6h0M369.8 219.9h0M378 226.9h0M375.8 229h0M364.6 221.3h0M390 218.6h0M379 221.9h0M366.4 222.1h0M370.1 230.1h0M362.6 224.8h0M366.6 233.7h0M366.1 233.1h0M369.5 228.5h0M378.6 226.8h0M373.2 237.4h0M370.7 235.2h0M372.5 232.9h0M369.1 227.3h0M373.8 240.7h0M377.1 232.3h0M383.5 220.6h0M372.1 232.9h0M365.9 224.7h0M377 233h0M366 222.1h0M366.2 235.3h0M373.4 227.6h0M379.7 236h0M366 237.9h0M381 227.6h0M370.3 226.8h0M378 222h0M370.5 237.8h0M369.2 237.8h0M375.9 223.6h0M367.4 241h0M369.7 234.8h0M378.7 234.5h0M373.2 238.1h0M374.3 239h0M361.6 225.6h0M369.8 233.9h0M368.8 218.6h0M369.8 228.4h0M386.6 230.1h0M367.2 233.7h0M366.3 230.6h0M369.6 222h0M369.2 227.7h0M357.9 230.7h0M367.4 224.5h0M377 236.7h0M375.2 238.8h0M375.5 224.9h0M372 232.4h0M371.4 231.9h0M366.1 220.8h0M373.4 240.4h0M381 234h0M370.1 236.8h0M376.7 240.3h0M381.1 224.5h0M366.1 226h0M374.2 233.5h0M370.6 236.2h0M370.4 230.7h0M368 238.2h0M373.7 223.7h0M367.1 240.6h0M364.7 226.8h0M380.5 229.9h0M372 236.1h0M364.4 238.5h0M373 232h0M379.7 226.7h0M378.4 232.3h0M375.7 224.4h0M368.7 240h0M382.1 231.2h0M376.2 225.6h0M373.4 239.2h0M375.1 235h0M371 227.3h0M377.8 227.3h0M367.3 226.6h0M373 234.8h0M371.4 229.7h0M365.8 236.9h0M375.4 236.9h0M369 238h0M370.1 218.6h0M382.3 239.8h0M374.7 222.8h0M377.3 235h0M368.8 234.4h0M377.9 223.9h0M366.1 233.5h0M368.6 233.5h0M370.5 231.9h0M378.8 237h0M369.1 232.3h0M373.5 223.6h0M375.7 240.9h0M361.8 234.4h0M384 236.3h0M378.3 239.6h0M367 221.8h0M368.7 228.2h0M379.8 218.6h0M378.8 223.9h0M374.7 238.4h0M366.7 237.4h0M379.5 226.1h0M380.9 232.4h0M363.9 235.9h0M372.4 233.2h0M381.3 236h0M365.7 220.2h0M371.5 231.9h0M378.2 239.4h0M365.7 237.3h0M373.6 231.3h0M360.5 221.8h0M378.1 222h0M381.5 227.9h0M373.6 234.7h0M373 238.8h0M373.3 240.8h0M375.4 223.6h0M369.4 228.3h0M374.4 233.1h0M376.8 233.6h0M374.1 229.5h0M376.1 232.3h0M372.5 241.2h0M377 229.1h0M367.5 230.4h0M370.8 237.8h0M372.6 233.2h0M384.3 219.2h0M382.7 227.8h0M368.4 228h0M372.5 234.7h0M370.8 234.7h0M366.9 221.4h0M368.2 220.5h0M377.6 227.6h0M363.1 226.9h0M379.2 228.3h0M368.8 233.2h0M373.3 239.5h0M372.3 231.9h0M369.4 232.9h0M375.8 227.1h0M369.5 231.4h0M393 219.8h0M359.8 234.1h0M355.1 222.3h0M356 230.5h0M354.6 225.7h0M358.8 234.3h0M359.6 236.2h0M357 229.6h0M359.7 226.6h0M350.3 227.9h0M356.9 232h0M354 227.3h0M350.6 226.7h0M392.3 222h0M345.7 220.4h0M394.4 224h0M348.6 222.9h0M391.9 231h0M357.2 231.1h0M351.7 223.7h0M354.6 221.2h0M357.8 235.7h0M388.5 230.5h0M349.1 222.8h0M342.7 224h0M354.3 230h0M388.4 228.7h0M359.7 236.6h0M403.4 221.2h0M348 221.8h0M391.3 225.5h0M355.6 230.3h0M356 222h0M353.8 220.3h0M342.2 222.1h0M341.6 224.8h0M385.9 237.1h0M343.5 224.8h0M352.8 222h0M357.1 222.4h0M390.5 234.9h0M355.1 236h0M356.8 234.8h0M358.5 237.3h0M354.2 224.9h0M346.3 224.8h0M352.1 224.4h0M355.9 222.1h0M357.6 222.1h0M357.9 225.1h0M395.5 227.7h0M359.1 233.1h0M402.1 227.7h0M392.2 230.6h0M357.8 233.2h0M356.1 220h0M370.5 189.2h0M370.1 203.5h0M370.1 206.2h0M376.9 207.8h0M369 194.6h0M369.2 190.2h0M371.4 212.2h0M370.8 213.3h0M375.6 185.7h0M377 205.1h0M376.7 184h0M371.1 217.4h0M371.2 216.8h0M370.8 196.7h0M375.5 213.5h0M370.1 210.2h0M371.5 214.6h0M377 212.3h0M376.2 216h0M376.8 218h0M375.8 200.9h0M375.2 216.9h0M374.6 201.1h0M371.3 200.9h0M376 216.8h0M375.7 191h0M370.9 206.4h0M377.3 216.7h0M374.9 206.9h0M371.5 208.4h0M369.7 195.4h0M369.4 208.7h0M375.7 215.3h0M375.7 184.9h0M371.5 209.8h0M370.3 211.4h0M370.7 204.1h0M370.5 216.1h0M374.2 217.3h0M375 185.1h0M376.8 212.6h0M374.4 200.6h0M371.3 209.6h0M370.7 203.4h0M375.6 212.6h0M374.2 193.8h0M375.3 197.8h0M376.6 211.5h0M374.9 192.6h0M374.4 216.7h0M370.3 216.2h0M370.1 198.3h0M376.3 210.4h0M370.8 200.5h0M376.4 212.7h0M371.4 192.1h0M375.5 216.9h0M369.2 210.8h0M369.4 190.1h0M377 201h0M369.4 211.8h0M369.3 205.5h0M369.9 196.4h0M369.4 201.5h0M369.2 216.2h0M369.9 201.9h0M371.5 212.9h0M375.3 201.9h0M376.5 209.5h0M370.7 191.8h0M375.7 184.3h0M370.8 197h0M374.2 214.3h0M370.8 191.6h0M371.4 216.9h0M376.6 179.9h0M377 214.5h0M370.6 211.3h0M371.2 196.6h0M374.8 207h0M375.3 196.4h0M376.4 195h0M375.6 195.6h0M376.9 202.5h0M375.6 212.7h0M369.2 204.5h0M370.8 198.7h0M375.1 201.8h0M369 217.4h0M374.3 203.3h0M369.2 216.9h0M376.6 202.8h0M369.2 209.4h0M370.7 212.3h0M374.4 209h0M377.1 188.4h0M370.3 215.7h0M369 214.1h0M375.3 210.7h0M371.4 216.9h0M376 211.5h0M374.6 206.8h0M369 214.2h0M369.3 212.3h0M376.9 215.4h0M369.1 191.3h0M371.5 201.1h0M374.7 217.9h0M370.3 202.4h0M370.9 210.9h0M369.8 215.5h0M369.3 200.9h0M369.7 207.9h0M371.4 211.8h0M370.6 213.7h0M370.8 208.3h0M369.7 212.9h0M376.5 202.2h0M369 213.4h0M369 211.5h0M371.4 186.2h0M369.9 213.2h0M375 215h0M369.8 209.6h0M369.3 206.3h0M374.2 217.3h0M374.3 216.1h0M370.5 179.1h0M377.2 195.7h0M375.4 215h0M369.5 207.6h0M370.4 191.8h0M374 211.1h0M375 199.4h0M371.3 211.3h0M370.6 214.5h0M376.8 209.7h0M370.1 206.6h0M370.6 188h0M375.1 199.2h0M374.6 208h0M369.4 192.6h0M377 201h0M371.4 217.1h0M369.7 210h0M375.6 193.6h0M369 203.4h0M375 214.6h0M374 209.3h0M370.3 198.9h0M370.1 217.7h0M369.2 217.8h0M370.7 201.4h0M375.7 213.4h0M369.9 217.6h0M375.4 194.5h0M374.6 213.3h0M370.2 215.7h0M377.1 190.4h0M374.2 212.7h0M374.5 215.6h0M374.2 211.4h0M371 216.6h0M375.4 210.7h0M375.6 196.4h0M369.7 191.3h0M375.5 213.9h0M369.6 197.7h0M369.1 215.2h0M374.1 190.5h0M375.3 217.8h0M370.7 215.9h0M375.7 186.9h0M375 208.8h0M369.5 213.3h0M375.9 209.4h0M371.3 203.6h0M376.6 208.2h0M374.8 210.5h0M374.5 209.6h0M371.4 199h0M375.3 199.8h0M376.9 209.3h0M374.9 216.8h0M374.2 206.5h0M374.4 212.3h0M375.7 192.4h0M369.2 204.5h0M369.5 209.1h0M375.5 217.1h0M369.4 217h0M371 194.1h0M370.9 217.4h0M374.1 214h0M374.9 209.8h0M376.5 192.2h0M371.1 202.5h0M374.7 206.5h0M375.8 211.8h0M376.4 203.8h0M371.4 210.9h0M370.6 188.2h0M375.5 178.9h0M370.7 201h0M370.6 189.2h0M376.8 190h0M370.3 216.4h0M375.7 185.8h0M374.5 191.9h0M375.9 217.9h0M370.1 200.3h0M370.6 204.6h0M374.2 214.1h0M370.7 208.1h0M370.3 201.1h0M371.3 191.2h0M375 210h0M375.1 217.5h0M375.4 214.9h0M370.8 190.2h0M376.1 200.3h0M376.8 202.4h0M369.7 213.1h0M370.9 183.6h0M371 215.5h0M374.4 182.7h0M375 217.9h0M374.7 207.8h0M371.5 194.2h0M370.6 215.9h0M369.1 208.5h0M371.6 213.2h0M370.2 216.8h0M377.2 213h0M370.9 209h0M369.9 181.4h0M374.6 204.9h0M370.6 216.8h0M370.2 213.9h0M369.4 217.1h0M370.6 199.4h0M369.3 213.1h0M377.3 208.3h0M375.7 206.2h0M377 213h0M374.6 216.4h0M369.1 215.4h0M369.5 214.8h0M375.7 214.7h0M374.1 210.4h0M369.4 207.9h0M376 214.4h0M375.7 202.4h0M377 217.6h0M374.6 208.4h0M375.5 210.4h0M371.2 217h0M375.5 183h0M374.5 185.3h0M375.8 217.7h0M375.9 217.5h0M371.3 217.3h0M375.6 195h0M375.2 211.4h0M370.8 214.8h0M377.1 214.2h0M375.7 188.5h0M377.1 212.6h0M371.1 190.9h0M375 206.2h0M370.2 209.6h0M377.1 199.4h0M375.9 202.1h0M369.6 190.1h0M376.6 189.2h0M369.8 201.1h0M374 208.6h0M374.3 182h0M371.3 214.8h0M375.2 204.3h0M370.9 202.8h0M377 215.3h0M374.7 209.2h0M377.2 211.1h0M374.9 190.3h0M371.3 181.8h0M371.3 204.5h0M371 207.3h0M370.9 202.5h0M374.3 205.7h0M370.9 199.8h0M369.9 204.7h0M376.4 213.5h0M376 199.3h0M370.1 213.3h0M374.5 184.3h0M370.6 197.9h0M371.4 208h0M375.9 217.5h0M369.9 179.6h0M370.7 202.8h0M376.6 217.9h0M374.8 215.6h0M377.3 215.7h0M376.3 214.7h0M369.6 209.1h0M371.2 193.3h0M370.7 202.1h0M376.1 207.9h0M374.1 195.4h0M370.6 208.6h0M369 208.3h0M374.3 204.8h0M376.5 206.4h0M374.5 212.3h0M375.4 205.8h0M374.1 207h0M371.2 192.7h0M370.6 190.2h0M375.3 201.6h0M370.8 205.6h0M370.7 187.3h0M370.1 215.7h0M374 197.3h0M376.6 200.5h0M376.1 215.1h0M376 212.6h0M369.7 209.6h0M374.9 202.5h0M371 202.1h0M369.7 207.7h0M369.7 195.1h0M375.8 198.3h0M370.6 184.5h0M374.3 194h0M376.6 194.8h0M376.7 211.6h0M369 187.4h0M369.4 215.3h0M370.2 190.9h0M371.3 213.9h0M368.9 217.1h0M369 208h0M370.6 217h0M369 181.2h0M375.4 216.1h0M375 211.9h0M374.5 203.6h0M374 208.7h0M376 217.1h0M371.2 218.1h0M374 203.6h0M371.5 201.7h0M375.1 209.6h0M370.4 198.1h0M370.4 204.9h0M370.3 216.1h0M369 207.9h0M369.3 188.4h0M375.1 217.1h0M369.4 210.7h0M376.5 182.1h0M374.1 205.4h0M375.6 184.6h0M370.6 215.9h0M371 213.9h0M370.7 213.5h0M374.9 195.5h0M371.5 218h0M370.7 200.1h0M376.1 180.6h0M369.4 195h0M376 189.1h0M375.5 206.9h0M374.5 211.8h0M369.4 214.1h0M375 211.3h0M370.4 182.3h0M376 201h0M376.2 206.1h0M376.2 215.3h0M369.7 207.9h0M376.5 185.6h0M370.7 210.6h0M376.2 202h0M371.1 216h0M369 194.4h0M375 216.6h0M376.6 208.2h0M370.8 213.7h0M374.2 217h0M374 210.2h0M375.2 214.3h0M370.2 192.4h0M371.5 202h0M374.9 198h0M369.9 204.2h0M375.3 199.5h0M369.8 205.9h0M376.9 206.9h0M376.7 215.6h0M375.8 198.9h0M376.8 205.5h0M370.4 197.1h0M374.7 206.1h0M374.1 195.8h0M375 206.2h0M375.1 213.3h0M371.3 200.6h0M369.9 214.5h0M374 213.7h0M374.5 210.5h0M375.3 186.6h0M370.5 214.4h0M371.1 209.6h0M371.3 189.8h0M377.1 217.2h0M370.8 197.5h0M374.3 206.5h0M371.1 213.8h0M370.3 199.8h0M369.3 206.9h0M375.2 182h0M376.9 207.8h0M375.3 212.8h0M375.2 179.9h0M369.7 208.4h0M369.7 198.7h0M370.8 215.8h0M375.4 180.9h0M375.8 202.8h0M376.4 213h0M369.3 185h0M371.4 186.3h0M371.4 199.7h0M375.1 216h0M376.3 214.7h0M375.8 190.1h0M374.1 187.6h0M374.8 211.2h0M374.6 203.2h0M376 178.9h0M369.5 212.9h0M371.6 210.6h0M371.1 196.2h0M374.3 197.4h0M371.1 194.8h0M376.9 204h0M369.9 196.3h0M375.9 217.8h0M371.5 214.3h0M369.4 213.4h0M371.5 206.6h0M376.8 203.3h0M375.6 215.8h0M374.1 216.1h0M374.5 215.3h0M369.1 216h0M375.6 214.8h0M377.3 207.7h0M370.1 215.6h0M376.3 216.2h0M374.2 217.5h0M375 216.9h0M374.3 216.8h0M370.1 192.5h0M375.5 201.4h0M377.2 210.4h0M375.1 213.9h0M374.6 215.2h0M375.5 213.6h0M377.1 196.4h0M369.9 211.5h0M370.3 205.8h0M374.5 198.9h0M370.2 213.2h0M376.3 215.9h0M377.1 201.6h0M376.8 186.6h0M374 210.9h0M369.4 187.3h0M369.2 214.6h0M374.6 207.9h0M371.4 206.2h0M371.3 209.6h0M376.2 207.4h0M370 178.8h0M371.1 216.2h0M377.3 193.9h0M374.2 207h0M371 210.7h0M374.1 216.7h0M374.9 211.2h0M376.3 212.9h0M377.1 207.1h0M376.6 212.3h0M374 213.3h0M369.2 190.1h0M370.8 196.1h0M374.9 207.2h0M375.7 214.3h0M370.2 213.2h0M374.8 196.9h0M369.5 208.4h0M375.6 206.3h0M376.2 217.8h0M374.4 202.2h0M377.2 187h0M370.5 204.9h0M376.8 208.2h0M370.1 188.9h0M370.6 197.3h0M371.6 218h0M369 210h0M369.4 209.7h0M376.5 213.7h0M370.2 206.4h0M371.5 213.9h0M371 214.8h0M375.6 193.1h0M374.1 194.8h0M371.5 196.9h0M377.2 218.1h0M371 205.2h0M370.3 206.8h0M370.6 187.2h0M371.3 202.1h0M377 191.9h0M375.5 212.9h0M376.7 202.7h0M377.2 199.2h0M376.6 206.1h0M369.4 197.3h0M377 213.4h0M369.6 200.1h0M375.5 200.8h0M371.3 209.3h0M369.5 206.4h0M375.9 195.8h0M371.4 203.7h0M374.1 214.3h0M368.9 181.1h0M369.3 207.4h0M369.5 183.3h0M370.3 209.4h0M374.3 214.6h0M375.9 195.7h0M370.7 214h0M370.9 218h0M371.1 214.4h0M371.3 203.4h0M369.1 216.8h0M376.4 218h0M377 217.1h0M377.2 191.3h0M376.6 206.4h0M375.7 210.8h0M369.7 211.9h0M375.6 216h0M376.5 214.8h0M369.6 200.5h0M371.2 207.9h0M374.1 208.1h0M376.6 184.6h0M376.2 204.9h0M376 212.8h0M374.1 207.6h0M371.2 179.2h0M377 198.8h0M374.3 210.1h0M376 217.7h0M376.4 208.1h0M370.6 215.8h0M374.5 213h0M369.7 216.7h0M376.9 216h0M371.4 215.8h0M374.1 213.2h0M370.7 212.8h0M376.5 184.1h0M377.2 204h0M376.8 197.2h0M370.6 194.5h0M369.2 209.1h0M369 199.6h0M371.1 201.8h0M370.3 204.9h0M375.4 216.5h0M370.2 213.3h0M375.2 205.3h0M369 217.9h0M375.1 217.1h0M376.1 210.7h0M374.1 188.7h0M369.5 188.8h0M370.3 200.7h0M374.3 197.6h0M369.1 213h0M374.2 198.9h0M371.5 190.6h0M375.9 212h0M376.2 211.2h0M376.1 200.1h0M369 209.2h0M374 207.2h0M369.7 212h0M370.5 203h0M374.7 214.3h0M369.6 208.9h0M370.8 208.2h0M376.1 180h0M377 203.7h0M371 212.5h0M369.1 202.5h0M369.4 195.3h0M369.4 214.8h0M376.4 214.2h0M371.3 211.6h0M370.7 211h0M369.2 191.1h0M370.1 202.4h0M370.5 209.1h0M371.2 200h0M371.3 191.7h0M369 189.5h0M377.1 197.4h0M369 215.1h0M374.5 216.3h0M375.4 202.3h0M369.1 204.6h0M375.5 217.6h0M371 212.1h0M375.6 190.7h0M369.9 204.6h0M369.4 210.9h0M376.5 210.4h0M376.7 193h0M376.6 207.3h0M370.1 186.1h0M370.7 206.4h0M371.3 213h0M374.4 206.7h0M369.2 210.8h0M376.1 210.8h0M374.2 197.8h0M370.3 203.8h0M369.4 180.6h0M371.3 210.4h0M369.4 217.2h0M375.5 189.6h0M371.3 185.9h0M375.4 217.5h0M377.2 204.7h0M371.1 213.1h0M370.9 199.1h0M369.6 215.7h0M371.3 217.6h0M374.8 211.8h0M369.5 193.9h0M371.3 215.1h0M376.8 215.2h0M371 203.7h0M376.9 196.5h0M370.7 214.2h0M374.2 212h0M376.7 196.1h0M369.8 215.1h0M375.7 216.2h0M374.8 214.2h0M370.3 206.5h0M371.4 204h0M371.4 209h0M369.7 213.1h0M375.3 195.1h0M369.9 196.8h0M370.9 215.7h0M374.2 204.2h0M376.8 209h0M375.1 204.6h0M371.3 197.8h0M376.6 210.5h0M370.8 199h0M369.7 209h0M376.3 203.7h0M376.5 211.9h0M369.9 197.8h0M369.7 211.8h0M369.6 187.1h0M375.9 206.9h0M376.9 186.7h0M370.8 189.5h0M369.1 204.1h0M369.9 209.9h0M369.6 203.6h0M374.8 201.8h0M369.9 198.1h0M375.6 208.1h0M374 214.7h0M376.1 216.7h0M376.8 199.5h0M376.1 214.3h0M376 201.4h0M376.6 212.8h0M374.9 211.8h0M371 200h0M370.9 209.7h0M374.3 194.7h0M375 183.5h0M369 214.3h0M376.5 217.2h0M370.2 201.8h0M376.9 211.5h0M371.1 189.2h0M369.5 213.9h0M375.2 205.3h0M375.6 206.9h0M370.4 212.9h0M369.8 196.1h0M377.1 192.7h0M370.2 217.1h0M369.9 216.1h0M375.6 216.7h0M377.2 213.7h0M368.9 194.8h0M376.7 211.3h0M371 189h0M371.5 208.4h0M376 199h0M375.2 210.3h0M376.2 217.6h0M370.7 216.7h0M374.8 193.5h0M374.4 206.2h0M376.5 180.9h0M370.3 210.3h0M375.2 213.4h0M375.5 217.7h0M369.8 213h0M369.4 216.8h0M369.7 216h0M370.1 193h0M374.3 204.2h0M369.6 210h0M370.3 217.9h0M376.9 209.1h0M374.4 194h0M370.9 190.6h0M371.4 200.9h0M374 213.9h0M370.8 216.1h0M374.2 197.6h0M369.7 216.5h0M369.1 194.8h0M369.8 188.4h0M370.3 206.9h0M376.2 181h0M369.6 215h0M374.8 185.3h0M377.2 212.6h0M374.4 209.3h0M369.6 197.5h0M375 180.2h0M376.6 209.9h0M370.9 217.6h0M376 214.4h0M376.2 212.8h0M376.5 198.2h0M374.1 201.4h0M370.6 201.4h0M370.8 188.6h0M371.1 210.9h0M374.7 212.1h0M376.2 206.1h0M375.6 197.3h0M374.7 194.8h0M370.9 212.2h0M369.5 191.6h0M370.3 211.4h0M375.7 209h0M371.2 213.2h0M375.7 206.8h0M371.2 204.3h0M371.2 216.8h0M374.6 212.7h0M370 213.5h0M370.5 216.8h0M377 217.5h0M374.9 206.9h0M377.1 214.8h0M374.8 214.5h0M377.1 216.2h0M369.5 206.6h0M375.9 194.7h0M376.4 207.9h0M371.3 196.2h0M374.2 201.8h0M371.4 215.7h0M370 218.1h0M370.8 216.5h0M375.6 217h0M371 197.1h0M369 207.6h0M370.5 180.5h0M369.6 204.4h0M377.2 207.7h0M376.7 196.1h0M371.4 199.3h0M370.2 209.9h0M375.6 215.5h0M374.1 189h0M370.6 213.2h0M370.6 212.4h0M376.1 203.3h0M369.4 209.8h0M377.1 213.9h0M375.1 201.8h0M376.2 217.8h0M376.2 211.6h0M369 211.8h0M370.9 180.4h0M370.6 216.6h0M374 216h0M369 204.3h0M369.6 208.4h0M375.4 209h0M369.7 188.9h0M371.3 192.1h0M371.5 211.1h0M369.6 204.2h0M369.3 215.5h0M376.4 213.4h0M370.6 210.7h0M374.3 218h0M368.9 199.1h0M369.3 210.1h0M375.4 210.6h0M376.1 192.3h0M368.9 215.6h0M374.9 215.6h0M375.6 190.4h0M376.9 217.1h0M376 199.8h0M376.2 212.8h0M375.1 199.9h0M369.5 180.1h0M374.3 194.3h0M375.7 197.4h0M376.1 216.5h0M369 211.9h0M369.7 185.8h0M374.3 211.7h0M370.2 206.6h0M371.1 211.8h0M370.4 209.4h0M376.5 185.9h0M376.2 192.7h0M375.1 187.2h0M376.5 193.9h0M370.3 203.5h0M370 218h0M370.4 214h0M376.7 217.3h0M374.9 183h0M376.8 212.2h0M376.8 196.1h0M374.6 212.2h0M375.5 210.1h0M375.3 200.7h0M368.9 210.1h0M369.8 205.9h0M371.4 217.6h0M369.6 196.5h0M370.6 209.5h0M370.6 208.6h0M375.8 200.3h0M374.6 205.2h0M374.3 208.6h0M371.1 213.2h0M375.5 211.5h0M369.3 206.5h0M370.7 183.1h0M376.4 208h0M371.4 200.1h0M370.5 213.1h0M371 209.7h0M370.1 207.7h0M374.5 207.9h0M370.7 204.7h0M374.6 207.5h0M375 215.5h0M370.5 213.3h0M375 213h0M377.1 210.4h0M376.7 198.1h0M371.3 206.2h0M370.2 209.8h0M376.8 215.7h0M371.5 202.6h0M376.8 213.2h0M374.6 201.9h0M370.1 189.5h0M376.3 179.2h0M369.4 195.8h0M376.4 213.4h0M374.5 203.5h0M369.4 213.8h0M376 217.3h0M371.1 208.7h0M370.4 214.9h0M377.1 213.1h0M370.7 213.8h0M369 200.3h0M370.8 214.8h0M370.4 207h0M377.1 197h0M374.3 187h0M370.5 207.7h0M375.4 211.9h0M370.7 194.4h0M369 213.1h0M374 212.1h0M375.4 214.3h0M371.3 205.5h0M371.4 185.8h0M374.8 197.1h0M374.1 199.5h0M370.2 217.4h0M369.7 217.4h0M375 192.7h0M374.8 218h0M376 205.7h0M376.4 209.1h0M370.4 188.8h0M369.6 196.4h0M371.4 214.3h0M375.6 210.9h0M374.2 194.2h0M375.1 195.5h0M376.4 209.3h0M370.7 206.2h0M376.1 201h0M369.7 215.8h0M369.2 204.7h0M369 199.1h0M369.8 202.2h0M369.1 206.6h0M374.1 200.4h0M375.7 204.1h0M374.7 207.1h0M375.5 207.4h0M377 212.9h0M370.4 211.1h0M375.1 213.4h0M370.3 187.1h0M370.9 199.2h0M376.5 210.5h0M369.2 195.5h0M369.6 204h0M374.4 203h0M374.3 210.8h0M369.5 214.3h0M369.6 193.5h0M369.9 217.3h0M376.5 215.4h0M375.6 212.6h0M374.2 205.2h0M369.1 214.2h0M369.7 208.7h0M375.6 214.7h0M369 182.9h0M375.6 204.9h0M370 201.1h0M376.5 210.4h0M374.3 217h0M374.7 205.7h0M370.9 216.2h0M370.7 194.9h0M370.8 215.7h0M370.1 197.9h0M370.8 210.3h0M375.2 217.4h0M370.6 216.7h0M371 203.2h0M369.9 210.4h0M376.7 217.7h0M370 201h0M376.9 217.1h0M369.9 201.7h0M376 215.3h0M374.2 204.5h0M370.9 189.4h0M368.9 185.5h0M374.2 195h0M370.2 200.9h0M377 217.7h0M375.9 217.8h0M371.3 206.6h0M369.5 215h0M374.7 210.9h0M369.8 215.1h0M372.5 193.5h0M372.3 217h0M372.4 194.4h0M373.1 213.2h0M372.8 213.1h0M372.4 213.8h0M371.8 209.1h0M373.3 209.6h0M373.5 217.3h0M372.9 210.7h0M372.9 214.3h0M371.9 209.6h0M372.1 188.3h0M372 216.8h0M372.5 217.8h0M372.5 188h0M373.1 206.6h0M372.2 216.8h0M373.6 211.4h0M373.2 204.6h0M373.8 190.4h0M373.5 184.2h0M373.3 188.8h0M373.1 186h0M372.3 194.6h0M373.2 217.2h0M372.7 213.6h0M371.8 217.3h0M372.3 198.8h0M372.3 212.8h0M373.8 195.2h0M372 201.9h0M372.4 199.1h0M372.1 208.4h0M372 202.4h0M372.3 203.8h0M373.4 212.6h0M373.1 211.7h0M372.5 188.8h0M372 192.5h0M372.6 186.9h0M373.5 207.9h0M372.2 208.3h0M372.8 211.9h0M372.3 215.1h0M373.5 217.9h0M371.9 181.7h0M372.5 205.2h0M372.8 213.8h0M371.9 211.7h0M372.8 187.9h0M372.1 206.1h0M373.4 216.4h0M372.9 193h0M371.7 217.6h0M372.7 203.9h0M372.2 216.6h0M372.6 194.5h0M373.5 208.6h0M373.7 214.4h0M376.7 172.7h0M370.2 184.2h0M368.8 174h0M376.3 193.3h0M369.5 192.5h0M370.2 188.5h0M376 164.7h0M370.4 189.8h0M369.2 171.3h0M369 175.9h0M376.7 148.9h0M369.9 182.8h0M369.4 182.5h0M369.2 187.9h0M376.8 179.5h0M375.6 174.5h0M369 182.7h0M368.8 179h0M376.3 192h0M377.2 176.5h0M377 186h0M377.4 171.5h0M368.9 191.1h0M376.4 187.6h0M370.2 186.7h0M377.4 177.2h0M377 156.4h0M370.5 190.9h0M368.9 178.2h0M369.6 192.1h0M377.2 181.3h0M376.7 147.7h0M376.4 170.7h0M377.4 182.5h0M370.3 166h0M376 177.7h0M377.4 166.6h0M376.6 182.9h0M370 180.3h0M370.5 158.7h0M376.2 191.9h0M375.8 179.2h0M375.7 165.6h0M370.3 171.9h0M368.8 161.3h0M368.9 165.4h0M376.3 193.3h0M376.2 163.9h0M377.3 186.1h0M376.5 193.1h0M377.3 161.5h0M377.3 183.8h0M370.2 183.2h0M375.4 178.9h0M376 191.6h0M377.3 192.5h0M376.7 190.5h0M376.3 178.8h0M375.5 185.2h0M376.1 178.5h0M376.8 174.5h0M368.9 191.6h0M369.8 189.1h0M377.4 186h0M377.3 186.8h0M369.1 155.6h0M377.2 191.1h0M368.8 184.3h0M369.5 182.2h0M369 178.6h0M369.8 160.3h0M369.1 189.8h0M377.3 177.6h0M370 174.2h0M368.9 175.3h0M370.6 182.8h0M376.4 179.2h0M369.5 160.4h0M377.3 182.3h0M370.1 157.1h0M377.3 158.2h0M375.6 173.4h0M375.5 174.4h0M376.7 188.6h0M369.2 179.2h0M369.6 176.9h0M376.7 192.6h0M376.9 175.6h0M375.5 184.6h0M375.4 166.7h0M375.6 192.8h0M376.1 187.4h0M377.4 152.3h0M375.8 193.1h0M370.7 187.6h0M376.6 189.2h0M369.9 174.8h0M376.6 177.1h0M377.3 162.4h0M377.2 176.8h0M375.5 192.5h0M375.7 189h0M369.1 166.9h0M377.4 188.6h0M370.3 150h0M369.9 181.7h0M370.6 162.7h0M377.4 186.4h0M376.3 152.5h0M369.4 168.5h0M369.2 191.8h0M370.5 193.2h0M369.7 181.6h0M377 191.1h0M376.5 185.9h0M377.2 175.2h0M370.7 192.8h0M377 173.3h0M375.4 170h0M370.7 190.8h0M370.6 186.6h0M377.3 188.7h0M369.8 160.6h0M376.8 181.7h0M377 173.5h0M370.4 178.7h0M377.3 178.7h0M368.8 183.1h0M370.6 191.7h0M375.6 184h0M376.7 191.6h0M375.6 189.2h0M375.4 186.7h0M369.4 185.4h0M376.5 188h0M370.1 189h0M370.1 189.6h0M369.3 162.8h0M377.2 183.6h0M368.8 168.3h0M369.4 147.3h0M370.3 155.8h0M370.6 163.7h0M377 154.6h0M377 189.5h0M377.3 190.6h0M368.9 189.8h0M369.7 179.5h0M369.8 153.2h0M370.5 186.3h0M370.2 170.7h0M377.3 183.4h0M369 186.2h0M370.1 167.4h0M370.1 185.8h0M369.5 181.2h0M376.1 168.6h0M368.8 165h0M370.5 189.9h0M369 184.9h0M369.8 158.1h0M376.9 191.8h0M376 174.6h0M369.6 190.7h0M368.9 180.9h0M368.8 192.2h0M376.5 152.1h0M377.3 174.1h0M369.5 193.2h0M377 191.4h0M377.3 193h0M369.2 153.4h0M376.5 189.2h0M375.7 188.2h0M369.7 180.8h0M369.3 173.2h0M376.8 177.9h0M376.7 159.7h0M376.4 145.6h0M376 147.5h0M369.1 170h0M376.9 190h0M376.4 193.3h0M377.4 188.8h0M369.9 189.7h0M369.7 175.7h0M369 183.6h0M369.4 182.5h0M369.7 175.5h0M376.8 189.9h0M369 181.1h0M370.3 182.9h0M376.2 149.3h0M370.5 175.6h0M376 153.8h0M370.4 150.4h0M369.5 193.3h0M370.2 187.4h0M369.9 164.6h0M376.6 176.1h0M377.4 165h0M376.8 181.8h0M376.8 193.4h0M376.8 182.9h0M370.1 190.3h0M369.2 191.1h0M370.5 155.1h0M375.8 186.4h0M376.4 181.1h0M376.9 170.6h0M369.1 188.4h0M369.3 180.8h0M368.9 191.6h0M377.4 182.2h0M377.3 176.2h0M369.3 172.2h0M376.8 185.4h0M376.7 174.4h0M369.9 176.1h0M368.8 185h0M370 187.8h0M376.5 149.9h0M376.4 187h0M368.9 189.5h0M369.3 187.7h0M377.3 170.4h0M377.1 172.8h0M369.2 174.2h0M369.8 187.5h0M376.5 170.9h0M377.3 179.4h0M376.1 188.9h0M368.8 190.4h0M375.9 184.8h0M376.6 165.5h0M370 188.1h0M377.2 182.5h0M376.6 173.9h0M370.4 177.7h0M369.1 151.1h0M377 185.4h0M375.9 190.2h0M369.5 189.4h0M377.4 184.8h0M377.1 185h0M369.9 146.8h0M370.5 189.6h0M376.7 184.3h0M370.2 176.6h0M369.6 186.9h0M376.9 178.4h0M376.9 187.6h0M377.3 148.8h0M375.8 193.3h0M369.2 175.5h0M377.3 191.6h0M369.2 187.2h0M369.1 191.9h0M369.3 161.2h0M375.9 188.3h0M377.4 148.8h0M377.3 136.8h0M377.2 95.2h0M369.8 127.8h0M369.5 149.9h0M369.5 145.8h0M369.5 68.4h0M370.4 147.4h0M377 138.2h0M376.8 132.6h0M370.1 144.8h0M377.4 133h0M376 101.4h0M377.2 135.5h0M377 148.1h0M369.1 144.3h0M376.9 127.8h0M376.7 144h0M368.9 118.5h0M370 120.1h0M377.1 92.9h0M368.9 74.1h0M369.8 81.4h0M370 133.6h0M377 132h0M377.3 83.5h0M368.8 121.1h0M376.6 139.8h0M370.4 86.3h0M368.8 114.6h0M377.2 132.1h0M376 99.1h0M376.2 129.7h0M370.4 69.2h0" stroke="#555555" stroke-width="1.6" stroke-linecap="round" fill="none"/>
<path d="M361.2 207.8h0M366.9 190h0M364.9 174h0M360.4 168h0M358.2 163.6h0M359.6 199.5h0M365.4 165.7h0M363.7 170.2h0M364.1 174h0M362.5 193.8h0M358.7 159.5h0M364.4 189.5h0M367 183.7h0M364.4 164.6h0M361.7 186.1h0M362.5 198.6h0M367 202.6h0M359.1 204.8h0M366.7 159.3h0M359.6 174.5h0M365.4 183.2h0M366.6 193.5h0M364 203.1h0M365.5 190.7h0M359.7 195.9h0M364.4 192.2h0M364.8 158.2h0M360.5 216.2h0M366.9 181.2h0M358.5 186.5h0M363 185.7h0M366.8 174.5h0M361.2 155.9h0M366.5 201.3h0M359.4 158h0M358.2 164.5h0M360.1 164.2h0M362.7 193.5h0M364.1 166.8h0M361.3 212h0M365.1 216.3h0M365.4 182.5h0M359.5 162h0M363.1 203.1h0M360.5 193.1h0M358.8 160.5h0M363 170.9h0M363.8 198.8h0M358.1 160.6h0M358.4 205h0M364.9 186h0M363.1 160.9h0M362.4 158.1h0M365.2 201h0M364.7 193.7h0M363.2 214.2h0M362.1 198.6h0M361.1 195.3h0M362.4 186.9h0M367.5 161.5h0M359.4 156.4h0M364.4 164h0M360.5 209.7h0M365.3 206.7h0M361.8 210h0M365.8 204.5h0M360.1 193h0M366.1 215.1h0M362.5 185.5h0M362.8 199.8h0M367 183.1h0M362.6 170.1h0M360.7 177.3h0M364.5 193.7h0M361 188.6h0M363.2 169.5h0M362 187.7h0M360.1 154.9h0M361.1 203.8h0M367.1 159.4h0M358.3 178.9h0M362.9 212h0M362.7 210.5h0M360 192.5h0M365.6 172.3h0M365.5 159.6h0M358.7 185.2h0M362.3 172.9h0M359 213.1h0M361.6 173.6h0M366 195.1h0M360.4 190.9h0M361.8 206.8h0M361.9 175.6h0M364.2 186.4h0M363.4 191h0M359.6 154.9h0M364.9 189.1h0M362.4 183.6h0M364.5 189.7h0M362.2 168.1h0M363.2 204.2h0M358.2 179.8h0M359.3 195.8h0M363.5 158.9h0M361.1 155.6h0M362.3 206.1h0M364.4 209.3h0M360.4 162.9h0M359.9 205.5h0M360.1 213h0M363.8 179.5h0M367 180.7h0M361.5 197.2h0M361.3 198.1h0M367.2 168h0M360.4 212.8h0M358.7 205.9h0M367.3 197.3h0M360.8 187.8h0M363.7 162.6h0M362.8 211.2h0M360.8 166.4h0M358.9 188.9h0M358.1 185.2h0M358.8 209h0M358.8 199.8h0M366.9 159.8h0M361.2 180.5h0M367.2 203.9h0M358.2 205h0M366.1 206h0M364.9 172.7h0M358.6 178h0M359.9 189.8h0M365.7 166.1h0M361.4 171.3h0M359.2 179.2h0M359 204.5h0M366.9 213.4h0M364.1 207.2h0M366.7 173.7h0M364.4 211.2h0M359.1 195.4h0M365.3 170.9h0M362.5 175h0M366.7 200.2h0M360.7 171.9h0M362 179.6h0M362.9 202h0M361.4 186.8h0M363.6 187h0M359.7 177.3h0M364.6 189.1h0M362.5 198h0M365.2 197.4h0M366 198.6h0M361.9 208.4h0M358 203.9h0M362.7 205h0M365.7 174.9h0M367.3 166.2h0M363.8 212.2h0M359.1 164h0M360.3 162h0M365.5 196.7h0M365.3 195.1h0M366.2 177.1h0M362.4 169.8h0M359.3 162.4h0M364.2 189.2h0M359.4 201.2h0M365.7 192.1h0M358.2 185.9h0M366 199.2h0M359.6 181.6h0M359.3 177.6h0M365.3 180.2h0M364.1 169.8h0M361.7 176.9h0M365.5 195.2h0M358.3 164.8h0M360.8 190.1h0M363.9 216.9h0M358.7 200.9h0M359.6 187.2h0M366.9 164.2h0M359.2 167.9h0M360.1 212.1h0M358.8 201.6h0M365.1 172h0M359.5 176.7h0M359.8 184.6h0M363.9 209.3h0M358.3 158.8h0M362.8 209.6h0M365 217.1h0M364.3 189.6h0M359.6 188.6h0M366.9 176.4h0M364.6 213.9h0M363.6 155.2h0M358.8 179h0M366.1 196.3h0M365.1 164.3h0M365.8 187.8h0M367.1 170.4h0M365.8 213.8h0M367.1 156h0M361.9 197.7h0M365.9 175h0M365 178.5h0M360.8 211.1h0M360.5 216.5h0M363.8 189.7h0M359.4 211.2h0M365.2 167.8h0M362.4 194h0M359.4 205.6h0M367.1 216.5h0M362.4 209.3h0M362.4 165.4h0M362.8 191.7h0M361.1 204.6h0M365 158.5h0M364.3 205.6h0M359.8 204.1h0M363.6 197.5h0M363.7 180.5h0M361.6 209h0M362.7 214.8h0M362.7 190.1h0M362.6 182.6h0M365.8 174.7h0M366.6 204.8h0M362.7 200.9h0M362.6 192.2h0M366.4 208.7h0M365.3 161.5h0M362.6 193.4h0M367.4 197.6h0M362.4 176.5h0M358.9 203.4h0M364 215.6h0M360.3 208.7h0M362 185.9h0M365.6 168.4h0M366.8 190.4h0M366 167.7h0M363.2 215h0M362.1 194.9h0M364.7 183.6h0M358.6 183h0M359.4 164.7h0M358.6 185.2h0M358.4 198.5h0M361.1 210.9h0M360.9 206.5h0M361.3 168.8h0M367 214.9h0M358.8 195.8h0M361.1 214.4h0M362.5 179.3h0M362.2 157.9h0M358.7 202.2h0M363.7 214.3h0M362 216.6h0M365.3 172.7h0M359.2 154.2h0M359.9 176.1h0M359.4 210.2h0M363.7 205.1h0M358.8 209.7h0M359.6 206.9h0M365.1 216h0M366.9 161.6h0M363.1 201.2h0M358.2 201.5h0M360 173.4h0M359.5 196.4h0M366.2 161.1h0M364.8 215.3h0M361.8 211.1h0M361.4 183.8h0M361 159.8h0M365.3 216.6h0M361.6 203.2h0M367.2 214.9h0M360.2 185.9h0M361.5 202.5h0M363.3 194.3h0M363.4 200.3h0M361.5 175h0M367.3 192h0M360.7 172.2h0M363.2 210.7h0M366.4 159.9h0M367 182.5h0M365.4 186.3h0M364.5 181.5h0M359.7 208.4h0M358.4 201.8h0M364.9 189.7h0M362.6 179.4h0M360.1 188.7h0M362 178.5h0M359.6 217.2h0M366.3 216.4h0M360.3 159.1h0M363.7 201.5h0M365.6 185.9h0M359 214.7h0M359.3 208.2h0M361.7 190.1h0M361.3 207h0M364.4 181.5h0M363.5 216.4h0M365.2 198.8h0M363.2 215.6h0M366.4 165.3h0M359.8 203.9h0M364.2 210.5h0M358.5 191.6h0M361.3 209.7h0M360.8 181.7h0M361 154.9h0M363.2 215.3h0M360.3 185.3h0M366.7 163h0M365.1 159.6h0M365.4 213.1h0M362.4 195.5h0M358.2 190.4h0M362.3 158.8h0M361.7 193.4h0M366.1 163.7h0M359.7 169.2h0M362.8 169.6h0M364.7 180.3h0M360.2 195h0M364.5 216.8h0M366.6 190.9h0M359 183.4h0M365.3 215.6h0M360.3 212.9h0M361.6 172.4h0M364.5 180.6h0M361.9 196.7h0M361 157.9h0M364.1 192.2h0M363.4 206.6h0M360.7 180.6h0M361.3 216.6h0M365.2 212.7h0M358 182.3h0M366.4 196.8h0M365.3 187h0M364.6 191.9h0M358.6 167h0M359.9 194.7h0M364.1 171.8h0M365 158.8h0M365.6 171h0M361.1 209.8h0M364 169.5h0M359.6 214.3h0M358.9 202.5h0M367.2 194.8h0M361.9 211.4h0M359.2 186.5h0M362.3 173.3h0M361.9 206.8h0M360 193.5h0M363.5 156h0M365.5 164.3h0M358.3 159.8h0M364.7 216.6h0M365.6 197.4h0M366.7 173.3h0M359.6 180.6h0M365.9 184.4h0M365 194.6h0M365.1 214.6h0M360 170.7h0M358.3 214.1h0M363.8 184.6h0M361.7 216.8h0M361.3 194.3h0M363.9 170.9h0M364.7 163.3h0M365.4 207.7h0M360.5 194.4h0M360.1 209.9h0M363.4 205.5h0M364.3 190.5h0M367 181.4h0M361.6 175.6h0M358.8 154.2h0M361.6 205.3h0M364.2 213.2h0M361.6 213.5h0M360.1 175h0M364.7 213.1h0M361.8 211.9h0M362.6 163.4h0M358.4 208.9h0M364.5 163.9h0M359.6 181.1h0M361.2 154.9h0M367 168.1h0M363.8 155.6h0M358.9 162.9h0M363.5 206.2h0M364.3 187.6h0M360.4 196.3h0M360.8 173.9h0M360.4 157.6h0M363.7 185h0M366.4 177.7h0M363.8 194.9h0M365.5 214.7h0M358.2 200.7h0M359.5 206.5h0M361.3 203.9h0M360.4 172.2h0M366.3 197.3h0M367 162.5h0M365.6 156.3h0M365.9 208.1h0M358.1 154.2h0M359 209.6h0M367.3 211.7h0M363.3 172.4h0M363.1 163.4h0M363.3 193.2h0M365 177.1h0M360.7 207.9h0M364.9 194h0M363.1 157.7h0M365.2 187.9h0M367.2 183.2h0M367.2 212.3h0M359.4 158.4h0M367 193.7h0M364 170.6h0M362.3 216h0M366.9 168.6h0M366.3 212.7h0M367.2 197.7h0M364.1 210.8h0M367.2 206.8h0M365 154.1h0M360 192.5h0M359.6 192.9h0M367.4 189.5h0M358.9 178.8h0M359.4 180.4h0M365.2 210.1h0M364.8 182.5h0M366.6 173.1h0M365.5 158.6h0M362.7 210.9h0M359.2 155.1h0M364.7 159.4h0M362 188.3h0M364.8 190.5h0M362.4 215.6h0M364 161.8h0M358.3 162.1h0M362.6 165.1h0M358.1 195.8h0M366.6 171.2h0M362.1 180.5h0M358.8 188.8h0M360.1 191.4h0M364.9 160.5h0M361 162.4h0M362.8 198.3h0M358.9 196.1h0M366.2 180.3h0M365.5 216.2h0M363.8 163.8h0M359.5 213.6h0M363.4 172.7h0M359.3 204.6h0M361.3 203.1h0M361.5 177.7h0M364 188.6h0M361 161.6h0M367.2 204.7h0M360 216.8h0M364.9 198.5h0M362.8 209.2h0M360.5 212.5h0M362.4 169.6h0M365.7 201.1h0M362.7 175.1h0M364.3 161.1h0M367 215.6h0M359.8 156.4h0M363.4 212.5h0M363.9 210.4h0M359.2 179.7h0M365.9 200.2h0M363.2 172.7h0M361.3 181.1h0M361.4 163.4h0M362.5 209.9h0M363 187.6h0M359 188.3h0M361.7 166.2h0M361 164.2h0M358.5 214.4h0M364.4 206h0M363.1 207h0M361.3 201.3h0M360.1 165.4h0M364.1 172.4h0M365.6 215.3h0M363.7 197.8h0M366.4 208.5h0M366.7 215h0M366.9 155.8h0M366.4 206.1h0M361.9 195.5h0M359.4 216.1h0M362.4 180.4h0M365.9 167.9h0M358.9 186.9h0M364.1 158.7h0M359.5 166.2h0M361.9 200.2h0M362.5 214.2h0M367.3 213.6h0M361.9 213.2h0M366 217h0M359.1 205.2h0M361.8 156.7h0M367.1 188.7h0M364.2 211.4h0M361.2 191.9h0M362.8 194.4h0M358.8 166.5h0M365.3 205.9h0M361.5 164.2h0M361.6 198.6h0M362.1 184.4h0M361.2 169.2h0M361.3 214.6h0M364.9 175.8h0M367.4 190.6h0M366.9 189.6h0M358.3 196.7h0M362.9 175h0M364.6 161.6h0M364.9 193h0M358.1 179.6h0M362.8 210.4h0M366.6 202.7h0M359.6 203h0M367.4 198.4h0M363.5 202.7h0M362.1 182.6h0M367.5 159.7h0M364 196.2h0M367 177.5h0M366.8 215.8h0M365.9 215.9h0M366.7 177.1h0M367 171.2h0M360.4 213.5h0M363.5 172.6h0M362.7 167.7h0M363.5 166.6h0M358.3 181.7h0M367.4 179.8h0M366.2 160.3h0M358 185.1h0M363.9 177.5h0M359 171.8h0M360.4 207.9h0M361.3 180.9h0M358.7 212.6h0M358.4 175.6h0M364.8 183.3h0M364.3 183.2h0M365.2 202.4h0M358.7 196.8h0M358.5 215.7h0M359.5 167.6h0M367.4 157.9h0M365.9 206.4h0M364.1 200h0M364 155.9h0M362.3 184.6h0M360.6 189.5h0M361 187.6h0M366.2 174.5h0M366.6 172.3h0M359.7 215.9h0M365.8 209.3h0M365.6 181.1h0M364.2 215.8h0M364.8 158.2h0M363.7 215.9h0M360.4 188.7h0M365.3 166.4h0M364.1 166.9h0M359.6 161h0M365.1 154.9h0M361.3 209.3h0M367 159.3h0M360.1 173.6h0M361.3 189h0M363.6 186h0M361.3 185.8h0M365 188.3h0M359.4 181.4h0M366.8 187h0M360.7 161.3h0M365.7 214.1h0M358.3 180h0M360.6 177.4h0M362.8 196.4h0M364.4 178.7h0M361.2 163h0M367.2 209.7h0M367 186.8h0M367.2 216h0M366.7 185.9h0M362.9 170.2h0M365.2 195h0M361.6 181.3h0M366.1 192.5h0M365.1 200.1h0M367.4 203.4h0M360.6 215.8h0M363.6 207.4h0M365.4 215.1h0M365.1 192.5h0M359.9 210.7h0M361.2 175.2h0M360.5 206.5h0M361.7 172.9h0M365.2 204h0M367.3 160.7h0M362.1 161.2h0M358.2 213.5h0M366.2 207.5h0M366.4 196.6h0M367.3 193.9h0M363.5 170.2h0M366.1 158.2h0M364.2 177.7h0M364.6 195.6h0M365.5 198.5h0M365.2 167.6h0M364 172h0M367.3 217h0M367.2 191.4h0M361.1 203.9h0M366.2 154.8h0M363 204.8h0M360.5 209h0M360.5 205.4h0M366.4 157.6h0M366.2 185.7h0M363.1 167.4h0M366 163h0M366.8 202.6h0M359.6 190.9h0M362.1 190.6h0M363.2 182.5h0M366.1 193.9h0M364.5 170.9h0M360.7 189.8h0M364.8 173.7h0M367.2 157.6h0M365.9 157.7h0M367.5 179.2h0M359.6 192.2h0M361.3 154.7h0M360.1 203.2h0M364.9 209.8h0M364.6 205.7h0M365.6 158.2h0M367 167.1h0M366.7 177h0M365.2 157.3h0M361.5 211.9h0M362.2 162.4h0M359.7 171.6h0M360.6 205.6h0M358.9 193.7h0M359.6 188.9h0M365.2 201.2h0M365.6 189.5h0M364.8 190.9h0M366.7 203.8h0M366.1 215.1h0M362.8 210.4h0M362 206.8h0M366.6 189.3h0M362.4 199.9h0M366.4 208.3h0M361.2 174.5h0M362.8 187.7h0M366.2 207.3h0M364.2 214h0M359.7 181.8h0M362 166.4h0M358.8 176.8h0M366.4 201.7h0M364.3 169.5h0M366.2 188.5h0M366.1 191.2h0M365.2 168.2h0M367.2 204h0M363.7 208.9h0M362.2 163.7h0M365.9 212.3h0M366.3 156.9h0M360.1 207.3h0M364 215.8h0M364.8 172.1h0M364 194.5h0M359.8 172.1h0M359.5 173.9h0M363.5 209.5h0M358.3 200.7h0M361.7 177.6h0M367.3 203h0M366 214h0M364.8 172.9h0M364 192.3h0M364.1 190.4h0M361.5 190.7h0M361.8 205.9h0M365.6 180.9h0M362 210.6h0M365.1 171.8h0M365.3 198.4h0M363.9 154.9h0M361.1 200.7h0M366.5 177.5h0M359.6 154.7h0M365.8 161.5h0M362.9 157.6h0M366.8 181.7h0M358.6 168.6h0M367.5 182h0M364.2 198.4h0M362.1 205.3h0M367.1 216.3h0M364.7 196.1h0M362.7 175.9h0M367.1 213.8h0M359.1 180.3h0M365.6 188.1h0M359.3 211.4h0M363.5 189.2h0M363.4 212.8h0M364.5 161.9h0M366.3 155.2h0M365.5 199.2h0M358.3 182.6h0M361.6 192.9h0M358.9 213h0M358.7 198h0M364.3 172.1h0M362.7 186.1h0M363.1 207.9h0M363.6 173.3h0M366.9 170.9h0M365 182.1h0M366 209.3h0M359.2 187.6h0M365.9 172.6h0M360.5 161.8h0M358.6 181.4h0M366.9 184.9h0M362.4 160.3h0M364.2 155.5h0M358.3 198.8h0M364.1 171.2h0M367.4 216.7h0M363.4 209.5h0M365.2 203.6h0M360.3 204h0M360.9 165.4h0M366.8 199.5h0M361.6 167.3h0M359.4 173.2h0M361.3 188.1h0M362.6 184.2h0M358 177.9h0M364.1 166.4h0M360 166.5h0M364.6 215h0M363.5 196.3h0M358.5 188h0M365.1 159.7h0M362.4 197.8h0M361.2 190.1h0M359.1 187.5h0M364.4 199.4h0M365.8 164.2h0M364.7 216.4h0M367.5 169h0M360.3 214.4h0M365.1 202h0M366.4 161.4h0M358.5 192.4h0M361.6 181h0M363.2 199h0M367.1 187.2h0M360.6 187.3h0M364 206.7h0M358.3 213h0M361.4 164.8h0M367 203.6h0M359.1 212.3h0M358.2 213.6h0M359.8 213h0M361.2 181.4h0M365.1 198.8h0M362.9 175.3h0M358.6 215.2h0M366.1 193.3h0M358 168.8h0M358.7 169.2h0M359.6 169.3h0M358.3 175.4h0M366.2 161.8h0M365.9 156.6h0M363 181.8h0M364.4 178h0M364.9 171.6h0M362.2 195.9h0M367.3 216.4h0M363.2 164.8h0M366.8 214.1h0M363.5 215h0M361.5 194.7h0M361.5 171.3h0M360.9 154.6h0M366.7 213.6h0M361 175.7h0M362 169.9h0M359.4 185.7h0M366.6 182.3h0M363.4 177.6h0M365.3 198.8h0M360 204.2h0M363.8 183.2h0M361.5 186.3h0M360 179.6h0M360.4 203.1h0M361.1 161.7h0M358.8 204.7h0M359.4 192.9h0M361 184.2h0M365.9 171.2h0M358.7 159.8h0M366.9 211.2h0M365.7 199.3h0M365.6 184.2h0M363.5 180.3h0M360.1 180.5h0M366.7 201.3h0M362.9 164.9h0M359.1 157.7h0M366.2 201.6h0M367.2 178.4h0M363.9 195.3h0M361.6 182.8h0M362.9 196.7h0M364.1 175.9h0M362.4 160h0M364.9 175.7h0M367 199.8h0M362.4 177.1h0M361.5 201.3h0M365.8 181.7h0M365 183.2h0M363.8 205h0M360.1 189.1h0M359.1 215.3h0M364.3 201.8h0M365.8 193.7h0M363 154.5h0M366.3 176.9h0M361.4 161.2h0M366.6 197.5h0M362.1 174.9h0M366.6 200.1h0M358.6 211.9h0M362.2 206.4h0M364 194.6h0M358.2 199.9h0M362.1 192h0M359.1 192.7h0M366 160.6h0M367.3 188.6h0M364.9 174.7h0M364.8 193.4h0M364.1 208.9h0M361.4 213.3h0M363.7 199.6h0M360.3 201.2h0M359.5 201.9h0M366.2 213.3h0M361.8 178.1h0M367.3 157.3h0M358.2 185.7h0M364.9 211.7h0M365.1 179.4h0M359.6 202.7h0M364.5 171.4h0M362.2 178.8h0M358.4 161.2h0M364.8 201.4h0M365.2 207.8h0M366.1 201.5h0M358.6 211.2h0M367.1 177.1h0M361 204.8h0M362.2 178h0M364.3 214h0M365.9 172h0M365.6 157.9h0M361.8 213.3h0M364.6 162.4h0M363.5 160.9h0M363.1 172.3h0M361.6 159.5h0M359 174.6h0M366.1 187.1h0M359.7 194.3h0M364.4 180.7h0M366.2 157.6h0M365.3 189h0M365 214.3h0M366.2 197.6h0M365.5 160.4h0M361.7 195.3h0M359.8 200.1h0M360.6 185.8h0M359.9 192h0M363.2 161.4h0M362.5 205.8h0M360.6 209h0M366.9 192.8h0M361.5 198.4h0M366.6 169.5h0M358.5 170.1h0M362.8 188.3h0M360.1 155.4h0M361 161.3h0M362.5 208h0M358.1 156.5h0M364.6 183.4h0M366.4 197.8h0M367 186.4h0M363.6 164.7h0M364.2 213.3h0M361.1 163.7h0M365.5 162.1h0M363.5 215.6h0M359.3 209.3h0M363.2 184.1h0M358.9 166.4h0M362.8 210.6h0M364.6 168.7h0M363 192.7h0M360.2 198h0M364.6 163.3h0M362.1 155.6h0M363.1 169.4h0M361.9 192.1h0M361.9 215.4h0M361.6 212.8h0M365.1 203.3h0M364 156.1h0M359.4 201.8h0M365.9 187.7h0M365.1 206.6h0M363.2 207.3h0M359.4 214h0M366.5 188h0M358.4 198.1h0M367.4 160.7h0M360.8 203h0M361.6 160.3h0M360.4 215.1h0M359.7 176.3h0M363.4 178.8h0M367.5 191.8h0M365.2 183.9h0M364.3 166.1h0M365 169.7h0M358.1 213.4h0M362.7 185.2h0M363 174.9h0M364.9 161.8h0M362.1 184.5h0M366.2 161.6h0M361.5 169.4h0M364.9 158.2h0M362.2 198.9h0M367.3 212.1h0M365.8 204.6h0M358.5 191.5h0M360.3 196.9h0M360.5 191h0M362 156.2h0M365.2 188.4h0M365.4 177.2h0M362.2 191h0M364.2 173.5h0M360.2 175.6h0M360.1 216.7h0M364.6 215.2h0M359.4 184.6h0M363.4 169.1h0M361.1 212h0M364.9 215.8h0M363.5 174.1h0M365.2 165.6h0M359.3 187h0M362.1 185.7h0M365.5 191.3h0M359.4 211.7h0M363.5 199h0M362.5 210.1h0M362.5 210.9h0M365.7 216.1h0M362.8 180.6h0M365 192.8h0M359.8 214.6h0M363.7 195.8h0M364.2 181.4h0M363.6 196h0M367.2 166h0M358.1 212.9h0M359.8 197.7h0M358.4 215.1h0M366.7 188.4h0M362.8 170.7h0M360 213.2h0M361.7 136.5h0M364.4 159.5h0M361.7 149.2h0M366.6 157.9h0M367 155.7h0M364.6 150.5h0M363.1 155.6h0M359.2 152.7h0M366.2 147.9h0M360.8 149.1h0M362.8 157.2h0M360.9 145h0M360.1 145.3h0M362.3 158.3h0M363.5 139.8h0M363.6 158.8h0M359.6 147.8h0M359.1 154.5h0M366.3 152.9h0M364.1 150.4h0M362.7 144.5h0M366.9 156.9h0M358.9 157.3h0M365.8 153.1h0M365 137.2h0M366 151.9h0M358.7 144.4h0M361.9 153.1h0M360.3 158.6h0M358.8 160.9h0M365.3 157.9h0M360.9 158.8h0M364.4 157.9h0M365.4 155.8h0M361.6 160.1h0M360.3 151.6h0M363.5 155.9h0M362.7 158.1h0M361.6 145.6h0M361.3 158.9h0M359.9 158.6h0M366.6 159.8h0M361.4 161h0M363.2 153.3h0M366.1 157.2h0M366.8 159.4h0M365.5 152h0M362.2 158.2h0M358.9 153.7h0M365.1 152.8h0M363.6 155.8h0M361.5 151.6h0M359.8 135.1h0M361.7 152.5h0M367 159.8h0M364.4 159.1h0M358.7 158h0M364 157.6h0M360.6 160.4h0M361.9 160.1h0M360.7 157.3h0M358.3 159h0M366.4 160.8h0M364.4 150.5h0M361.8 155h0M364.5 154.4h0M366.9 135.6h0M358.4 148h0M359.3 154.9h0M361.1 159.4h0M358.3 153.6h0M361.5 125.9h0M359.9 157.3h0M362.8 143h0M365.9 147.1h0M364 135.9h0M358.7 152.2h0M364.4 161.2h0M361.7 160.7h0M358.4 155.5h0M361.4 155.6h0M360.1 143.8h0M363.2 151.2h0M360.9 158.5h0M362.9 151.6h0M363.7 159.7h0M363.9 152.1h0M358.6 152.2h0M365.9 161.5h0M359.2 153h0M365.1 151.1h0M361.1 140.4h0M359.8 135.1h0M365 152.3h0M365 134.3h0M360.7 86.1h0M365.3 125h0M360.7 126.9h0M360.5 144.7h0M367.2 109.8h0M359.8 144.3h0M360 133.4h0M364.2 94.7h0M358.7 142h0M360.5 95.1h0M363.1 124.7h0M365.9 53.5h0M367 144.2h0M366.4 117.4h0M365.9 92.4h0M358.9 143h0M361.8 109.8h0M363.2 78h0M364.1 81.1h0M363.7 24.6h0M360.4 107h0M361 89.1h0M358.9 114.5h0M363.5 125.4h0M364.4 129.1h0M362.5 81.7h0M365.6 94.5h0M359.1 141.4h0M363.4 108.8h0M363.4 70.9h0M359.3 114.2h0M367.3 137.4h0M364.8 132.1h0M363.9 143.1h0M362.4 133.1h0M362.2 122.9h0M363.4 65.7h0M361.3 140.6h0M359.9 109.8h0M365.2 92h0M359.5 121.5h0M359.5 122.4h0M360.3 133h0M362.1 105.4h0M362.2 101.6h0M363.9 140.7h0M361.3 44.5h0M359.2 122.3h0M363.2 34.7h0M362.1 100.5h0M360 115.1h0M367.1 105.8h0M360.9 120.7h0M364.9 118.5h0M360.6 109.5h0M366.7 117.3h0M361.6 30.9h0M361.1 103.5h0M359.2 142.5h0M366.2 98.6h0M359.4 141.1h0M362.3 135.2h0M364.4 141.4h0M362.5 136.3h0M363.9 134.8h0M363.1 136.7h0M363.2 143.8h0M360.6 52.6h0M364 79.3h0M361 103.1h0M361.1 143.8h0M363.6 118.7h0M360.4 69.8h0M360.2 111.3h0M366.6 116.2h0M367 122h0M365.3 127.9h0M366.1 78.4h0M365.9 63.1h0M365.4 117.4h0M363.8 102.6h0M359.2 139.5h0M367.2 125.1h0M359.8 132.9h0M361 128.5h0M359.5 142.1h0M365.2 120.7h0M362.6 116.9h0M358.9 108.3h0M364.9 113.8h0M365.5 142.2h0M359.4 119.5h0M367.1 66.6h0M363.4 110.1h0M361.5 121.2h0M366.8 90.5h0M363.2 137.1h0M358.7 141.8h0M359.1 122.1h0M361.3 59.6h0M354.8 215.6h0M343.1 153.9h0M341.8 215.8h0M349.2 213.9h0M356.8 183.7h0M355.4 216h0M358 164.8h0M348.1 206.7h0M354.4 201h0M358.3 141.8h0M358.6 165.4h0M357.4 193.3h0M349.5 167h0M354.5 203.8h0M338.6 213.6h0M357.9 185.7h0M352.7 152.8h0M357.8 200.8h0M348.7 199.6h0M358.4 164.4h0M344.6 208.9h0M358.5 197.6h0M347.2 101.8h0M354.2 189.2h0M358.4 193.1h0M347.7 176.1h0M344.6 216.8h0M346.8 179.8h0M356.3 73.2h0M356.7 210h0M354 205.9h0M353.6 191.8h0M353.6 197.6h0M356 92.8h0M348.4 208.9h0M357.3 107.6h0M353.4 216.5h0M354.3 183.2h0M357.9 112.8h0M357.3 168.2h0M356.1 211.2h0M355.7 213.6h0M357 208h0M357.6 195.4h0M358.6 215.4h0M356.7 203h0M352.5 201.4h0M349.5 85.1h0M357 216.1h0M358.3 200.1h0M357.9 191.7h0M358.4 129.5h0M350.3 203.3h0M355.1 206.1h0M345.7 209.5h0M356 107.3h0M356.5 193.4h0M352 206h0M358.6 214.1h0M348.5 208.5h0M356.5 209.1h0M356.6 210.9h0M355.4 197.5h0M353.4 179.8h0M357.7 203.3h0M355.8 152.8h0M357.7 207.4h0M358 212h0M337.3 74.3h0M352.2 204.8h0M358.1 201.9h0M353.8 129.9h0M348.9 103.8h0M358.6 197.5h0M351.9 78h0M354 174.5h0M352.7 206.7h0M336.3 206h0M358 213.4h0M354.8 205.3h0M346.2 98.3h0M350.3 150.9h0M347.1 212.1h0M355.6 149h0M358.1 202.9h0M358.6 142.9h0M354.1 174.8h0M358.5 214.3h0M354.3 206.5h0M355.3 214.8h0M349.7 132.3h0M355.2 204.6h0M358.5 92.7h0M354.1 192.5h0M356.8 185.3h0M356.3 175.3h0M356.3 208.6h0M351.6 184.6h0M352.8 146.7h0M355.6 202.7h0M358.3 143.5h0M358.5 164h0M351.6 67h0M356.9 211.2h0M358.3 174.3h0M358.5 190.6h0M354.5 176.2h0M357.2 192.5h0M353.7 197.6h0M332.7 209.2h0M358 161.8h0M345.6 198.9h0M347.7 194.5h0M346.6 210.5h0M349.5 216.3h0M355.9 170h0M358.2 144.5h0M348.4 172.4h0M344.3 212.6h0M352.1 167.8h0M317 30.7h0M327.5 64.3h0M336.8 75.6h0M346.7 99.9h0M361 21.3h0M360.3 21.3h0M360.5 21.3h0M358.9 21.3h0M360.1 21.3h0M360.7 21.3h0M359.7 21.3h0M358.2 21.3h0M362.4 21.3h0M358.3 21.3h0M358 21.3h0M365 21.3h0M362.8 21.3h0M365.9 21.3h0M363.3 21.3h0M357.1 21.3h0M363.3 21.3h0M367 21.3h0M364 21.3h0M358.3 21.3h0M359.8 21.3h0M364.6 21.3h0M357.6 21.3h0M361.8 21.3h0M364.3 21.3h0M366.2 21.3h0M360.7 21.3h0M360 21.3h0M357.4 21.3h0M359.1 21.3h0M366.3 21.3h0M361.9 21.3h0M359.9 21.3h0M363.1 21.3h0M357.7 21.3h0M364.2 21.3h0M364.9 21.3h0M358.6 21.3h0M366.7 21.3h0M357.3 21.3h0M353.1 21.3h0M346.2 21.3h0M349.8 21.3h0M348.1 21.3h0M346 21.3h0M350.1 21.3h0M350.7 21.3h0M338.3 21.3h0M314.7 21.3h0" stroke="#1c701c" stroke-width="2.0" stroke-linecap="round" fill="none"/>
<path d="M384.4 176.1h0M380.8 174.9h0M380.4 181.5h0M380.6 181.1h0M382.9 199.7h0M379.8 176.7h0M379.9 183.3h0M382.4 211.1h0M379.7 199.5h0M380.1 174.4h0M380 198.9h0M379.1 212.4h0M382.2 193.1h0M382.1 159.7h0M379.2 155.4h0M383.5 176.5h0M383.5 203.9h0M383.1 163.2h0M379 215.7h0M380 166.9h0M380.8 203.8h0M379.4 214.5h0M380.4 160.8h0M383.3 202h0M382.3 212.3h0M380.4 190.5h0M382.6 154.6h0M381.4 215.9h0M379.5 189h0M380.3 195.9h0M379.3 167.1h0M381.3 177.9h0M380.2 181.9h0M379.9 191.2h0M379.6 213.3h0M379.9 155.9h0M380.4 173.8h0M379.3 195.2h0M380.1 177.3h0M379.3 175.9h0M382 214.8h0M379 204.1h0M382 215h0M380.6 206.5h0M379.8 174.1h0M379 163.4h0M379.7 160.4h0M379.9 214.9h0M379.2 184.7h0M379 174.1h0M381 161.3h0M381 194.4h0M379.9 195.5h0M379.7 215.7h0M382 178.6h0M382.7 204.6h0M378.9 153.1h0M381.2 186.5h0M379.9 154.2h0M379.1 213.5h0M379.8 176.8h0M380 167.8h0M379.8 182h0M380.5 202.8h0M383.6 209.2h0M380.9 167.5h0M384 157.8h0M378.8 206.5h0M380 200.2h0M380.3 188.7h0M379.5 186.3h0M380.1 208.2h0M380.1 165.6h0M379 204.1h0M378.9 205.4h0M379.3 206.2h0M379.2 183.7h0M379.3 185.5h0M382.2 155.8h0M379.9 185.6h0M383.1 168.5h0M380.5 199.2h0M384.1 169.9h0M380.2 198.1h0M379.9 215.2h0M380 167.1h0M379 164h0M380.2 199.5h0M382 165.3h0M380.2 178.1h0M381.8 178.3h0M378.8 202.5h0M380 217.1h0M378.9 167h0M382.2 158h0M378.8 208.5h0M384.3 182h0M379.9 169.3h0M379.4 216.7h0M380.9 157.5h0M379.1 216.3h0M379.1 177.5h0M382.9 181.6h0M380.3 183.1h0M379.4 178.7h0M379.1 214.1h0M383 195.5h0M380.7 175h0M381.8 184.3h0M379.6 160.8h0M382.5 211.3h0M378.9 160.6h0M379.4 163.2h0M381.8 168.1h0M379.3 152.4h0M379 176.5h0M380.6 170.7h0M384 202.6h0M382.9 182.8h0M379.4 215.7h0M379.6 158.4h0M379.1 211.5h0M379.9 203.4h0M379.1 193.2h0M380.1 193h0M381 210.4h0M378.9 215.8h0M383.7 159h0M379.5 191.6h0M380.4 152.3h0M384.1 177.3h0M378.9 215.3h0M378.8 214.3h0M380 152.5h0M379.3 200.5h0M378.7 186.4h0M381 154.2h0M380.8 197.6h0M378.8 214.5h0M378.8 160h0M381.3 203.3h0M381.8 190.1h0M379.8 181.2h0M378.7 165.4h0M381.3 207.7h0M380 171.7h0M382.4 160.6h0M380.3 189.5h0M380.1 193.4h0M382.2 213.8h0M378.8 195.5h0M380.6 216.9h0M381.6 203.3h0M382.1 202.5h0M380.5 204.2h0M380.4 208.2h0M380.5 165.5h0M380.2 160.6h0M380 179.1h0M378.9 152.3h0M380.3 212.8h0M381.1 167h0M381.9 184h0M379.5 203.1h0M379.8 164.5h0M379 187.1h0M382.6 192.1h0M379.3 159.2h0M379.6 203.9h0M379.3 198.4h0M380.4 198.8h0M378.8 188.3h0M380.5 194.1h0M379.4 194.7h0M382.8 216.5h0M379.2 196.6h0M379.1 174.7h0M379.8 181.8h0M379 177.4h0M381.3 204.9h0M379.3 177.6h0M381.3 170.5h0M378.9 182.5h0M379.9 167.6h0M380.4 186.6h0M379.1 191.4h0M379.6 208.6h0M379.9 203.5h0M382.4 179.4h0M381 191.7h0M378.8 189.9h0M379.3 199.6h0M383.5 170h0M378.9 152.4h0M379 165.9h0M379 170.1h0M380.6 173h0M379.5 200.7h0M381.3 159.1h0M378.7 176.3h0M379.9 153.9h0M378.7 161.1h0M380.4 215.1h0M379.6 209.1h0M383.7 173.1h0M380 204.1h0M379.9 162.2h0M378.8 207.6h0M381.1 199.9h0M379.5 215h0M379 156.5h0M379.2 154.4h0M383.3 205.3h0M379.2 188.1h0M381.8 158.2h0M379.8 212.6h0M379.1 163h0M382.4 166.7h0M380.4 154.8h0M378.8 157.8h0M378.7 157.6h0M380 203.5h0M379.5 213.5h0M379.3 154.3h0M380.9 165.7h0M379.9 214.3h0M380.2 161.5h0M379.7 214.2h0M381.5 180.8h0M383 178.3h0M380.1 176.6h0M379.2 207.6h0M381.5 162.2h0M380.9 212.9h0M380 216h0M379.6 161.1h0M382.4 181.1h0M379.2 185.1h0M380.6 176.2h0M380.7 156.5h0M379.7 168.2h0M380.8 162.8h0M381.1 188.3h0M378.9 172.9h0M380.3 198.2h0M379.5 171.7h0M378.7 196.6h0M379 183.7h0M379 166h0M378.7 161.3h0M380 164.6h0M379.1 212.1h0M382.3 204.6h0M379.6 201.1h0M379.4 200.8h0M379.4 198.7h0M383 207.2h0M380.3 170.7h0M378.7 214.9h0M381 216h0M379.3 211.8h0M381.6 172.3h0M378.9 200.5h0M378.8 203.2h0M381.3 197.4h0M380.2 174.9h0M379.5 217.2h0M379.6 186.9h0M383.9 214.6h0M379.1 156h0M380.4 192h0M381.4 153.2h0M380.7 209.8h0M380 155.7h0M378.8 200.9h0M380.5 161.2h0M380.9 197.6h0M379.3 183.5h0M381.8 189.5h0M380.8 181.4h0M379.3 179.2h0M380.7 203.2h0M379.3 212h0M379.8 201.8h0M382.5 204.5h0M380.7 178.4h0M381.4 178.4h0M378.8 164.2h0M379.2 177.1h0M382.1 178.8h0M379.7 196.6h0M379.3 205.5h0M382 180.8h0M378.8 156.6h0M381.1 186.3h0M378.7 153.1h0M379.5 173.1h0M382.4 183.4h0M379 216.5h0M383 171.7h0M381.4 201.1h0M379.8 215.9h0M380.6 209.5h0M383.2 209.5h0M379.9 158.5h0M384.4 205.4h0M378.8 164h0M380.2 202.2h0M379.7 164.2h0M379.6 166.6h0M379.8 169.9h0M380.1 172.3h0M378.9 187.7h0M380.1 198.1h0M380 208h0M381.5 189.2h0M380.8 163.8h0M380.7 200.4h0M379 215.2h0M378.8 194.4h0M379.5 211.2h0M381.2 188.2h0M378.7 204.6h0M379.7 206.7h0M380.2 186.6h0M379.4 208.9h0M381.8 197h0M379.9 202.6h0M379.4 206.7h0M379.3 214.4h0M380.8 200.2h0M380.6 168.7h0M379.8 193.7h0M380.7 199.1h0M380.1 192.4h0M379.3 199.7h0M380.7 168.2h0M381.8 206.4h0M379.1 201.9h0M379.2 193.8h0M380.3 164h0M379 179.4h0M379.3 206.3h0M381.3 186.6h0M380.2 163.1h0M379.1 184.6h0M378.8 207.7h0M380.7 163.7h0M378.9 196.7h0M383.8 200.3h0M379.8 172.3h0M381.2 160.1h0M381.8 213.2h0M379.8 170.6h0M379.9 157.9h0M381.9 164h0M380.5 178.3h0M378.7 173.9h0M382 215.9h0M380 163.5h0M380.4 209h0M382.8 197.2h0M378.9 179.9h0M380.4 157.2h0M381.7 176.4h0M381.7 171.8h0M379.3 166.7h0M379.1 171.8h0M381.9 201.6h0M381.8 176.1h0M381.2 163.7h0M381.8 216.6h0M381.2 187.3h0M379.4 178.6h0M378.8 160.5h0M379.3 204.3h0M378.9 170.3h0M380.3 160.6h0M378.8 193.5h0M379.4 186.1h0M379.5 211.3h0M382.3 189.1h0M381.6 176.4h0M379.3 176.2h0M379.9 152.7h0M378.8 208.5h0M379.1 179.8h0M383.5 203.9h0M380 171.2h0M380.1 179.7h0M383.3 212.6h0M379.6 204.9h0M379.8 201.4h0M379.9 162.6h0M379.1 199.7h0M381.1 164.7h0M380.7 173.2h0M379.5 205.4h0M378.9 216.1h0M381.9 157.9h0M380.3 175h0M379.5 174.9h0M378.7 180.2h0M380.6 167.3h0M383.5 194h0M381.4 158.7h0M378.9 207.7h0M379.6 192.5h0M379.7 178.9h0M380.4 152.8h0M379.5 160h0M380.3 205.5h0M378.9 205.3h0M380.1 215.7h0M379.7 155.4h0M379.6 210.5h0M379.9 156.2h0M379.5 172h0M380.7 172.9h0M379.4 210.6h0M382.5 180.2h0M381.9 177.2h0M378.9 163.6h0M380.3 197.7h0M383 166.9h0M379.8 212.8h0M378.9 173.5h0M380.1 152.5h0M381.3 179.6h0M382.5 184.7h0M382.1 154.3h0M379.9 217h0M379.6 189.7h0M379.6 178.4h0M380.9 209.4h0M379.1 175.1h0M378.8 180.8h0M379.9 205.4h0M380.5 158.8h0M382.5 217.1h0M380.2 202.2h0M379.8 176.7h0M380.8 161.6h0M383.3 178.5h0M379.3 168.1h0M382.3 155.8h0M380.3 158.8h0M378.7 177.9h0M381.5 163.5h0M379.8 165.6h0M382.2 157.9h0M381.2 166.3h0M380.8 204.8h0M382.7 155.1h0M380.4 193.5h0M380.5 206.5h0M379.8 209.4h0M378.9 152.5h0M380.4 212.9h0M378.9 189h0M379.9 156.4h0M383.1 212.6h0M380.7 200h0M378.9 207.3h0M382.2 191.3h0M380.2 212h0M379.8 185.2h0M381 180.2h0M384.4 209.5h0M380.5 152.7h0M379.1 206h0M379.9 179.4h0M380.4 174.2h0M380.3 178.7h0M379.5 156.1h0M378.7 184.4h0M381.8 195h0M381.2 186.8h0M381.5 155.9h0M379.1 167.9h0M379.3 209h0M381 212.6h0M382.7 204.6h0M381.8 176.1h0M383.3 215.3h0M380.2 209h0M381.4 166.9h0M379.2 163.6h0M380.4 159.8h0M378.9 160.6h0M378.9 178.9h0M379 152.7h0M379 175.8h0M380 209.1h0M380.7 181.8h0M381.9 174.2h0M378.7 210.8h0M378.8 153.6h0M379 184.1h0M380.4 179.1h0M382.5 213.2h0M379.7 202.9h0M383.2 199.7h0M378.9 201.8h0M379.5 190.1h0M378.9 208.2h0M378.8 159.2h0M380.8 188h0M382.3 166.2h0M379 160.7h0M382.9 176.7h0M379.8 187h0M381.3 190.8h0M381.6 180h0M380.4 155.8h0M380 205.3h0M379.6 209.2h0M378.7 199.1h0M380.5 189h0M379.5 168.6h0M378.8 206.8h0M382.1 201.8h0M380.5 180.7h0M382.6 178.5h0M381.4 193.5h0M379 201h0M382.4 191.5h0M381.2 209.5h0M380.6 199.8h0M378.9 198.8h0M380.2 214.2h0M384.5 199.8h0M379 180h0M378.9 184.8h0M381.1 201.4h0M379.4 199.9h0M379.5 166.5h0M379.9 181.3h0M379 164.5h0M379.2 216.1h0M380.7 212.9h0M381.2 201h0M383.8 157.3h0M378.8 168.8h0M380.4 169.1h0M380.8 176.3h0M379.5 171.2h0M378.9 213.3h0M379.7 161.5h0M379 175.3h0M379 171.2h0M379 163.6h0M380.8 168.8h0M379.6 161.5h0M379 170.4h0M379.2 206.6h0M382.2 190.2h0M379 184.5h0M381 202.3h0M378.8 187.8h0M379.2 205.3h0M380.8 155.5h0M381.6 197.9h0M381.2 160.1h0M381 199.1h0M381.4 180.3h0M379.1 205.5h0M378.9 156.9h0M383.4 216.2h0M382.2 179.6h0M380.1 205h0M380.3 163h0M379.2 175.3h0M380.6 173.9h0M379.3 200h0M381.7 187.3h0M382.4 204.9h0M381.3 181.5h0M379.1 184.4h0M380 215.2h0M380.4 172.6h0M381.1 156.9h0M383.4 214.8h0M379.8 210.8h0M378.9 162h0M379.3 176.1h0M378.7 214.6h0M379.5 208.7h0M380.5 215.1h0M380 166.7h0M379.1 211.6h0M381.4 183.5h0M379.1 158.5h0M380.1 188.9h0M382.9 201.4h0M382.8 155.4h0M379.1 171.9h0M381.6 197h0M381.2 206.3h0M380.6 197.8h0M379.8 182.6h0M381.2 217.2h0M379.6 212.6h0M381.4 205.2h0M381 154.4h0M379.2 177.1h0M379 210.8h0M378.8 163.8h0M379.5 164.3h0M378.7 211.8h0M383.4 186.2h0M380.1 192.1h0M381.6 156.1h0M384.4 181.9h0M379.2 212.4h0M379.4 187h0M383.4 181.4h0M383.1 177.9h0M379.1 169.6h0M381 168.5h0M379.8 181h0M379.1 156.7h0M383.3 169.1h0M379.2 204h0M381.8 153.3h0M378.8 158h0M379.1 198.2h0M379.6 183.7h0M381.2 171.3h0M378.8 158.3h0M384.2 173.7h0M378.8 210.8h0M379 203h0M378.9 168.2h0M383.2 178.7h0M379.4 210.9h0M378.9 182.9h0M381.7 191.1h0M380.5 215.7h0M379.5 208h0M379.2 157.3h0M380.7 192.5h0M381.4 194.3h0M379.6 208h0M379 182.5h0M380.4 206.5h0M379.5 158.3h0M379.4 158.1h0M380.6 188.8h0M379.4 206.9h0M379.6 202.3h0M379.2 184.7h0M379 192.2h0M380.4 213.3h0M379.3 160.9h0M379 159.7h0M379.8 188.7h0M378.9 211.7h0M379.1 196.8h0M379 185.4h0M379.9 179.7h0M379.7 159.9h0M379.4 154h0M379.8 202.4h0M380.9 172.1h0M382.8 206.5h0M380.3 158.7h0M383.6 216.1h0M383.8 177.2h0M383.9 205.9h0M379.6 155h0M380.5 207.9h0M378.7 159.6h0M379.9 171.1h0M380.2 192h0M378.8 212.4h0M382.1 174.5h0M383.3 205.1h0M380.2 156.5h0M380.6 194.4h0M378.8 192.1h0M380 202h0M378.7 214.7h0M379.6 204.1h0M378.7 166.9h0M379 206.9h0M382.2 209.9h0M381 190.3h0M381 163.4h0M379.8 212.6h0M380 203.5h0M381.7 170h0M379.3 180.8h0M380 164.1h0M379.5 205.5h0M380.3 157.8h0M378.8 154.3h0M379.9 188.8h0M380.3 154.9h0M379.7 161.9h0M379 149.7h0M380.2 128.8h0M379.1 133.1h0M381.2 151.3h0M382.7 159.5h0M379.4 156.7h0M379 158.5h0M379.2 158.8h0M381.1 140.7h0M379.2 147.2h0M378.9 145.7h0M381.6 155.5h0M383.5 151.1h0M379.1 157.6h0M379.1 158.7h0M383.1 156.6h0M378.9 152.2h0M379.1 145.2h0M379 140.9h0M379.4 126.4h0M380.1 157.9h0M382.4 158.6h0M382.6 157.8h0M381.1 143.8h0M380.6 144.1h0M379 128.8h0M381.6 128.5h0M382.6 148.2h0M381.2 157.2h0M379.2 143.9h0M378.9 150.8h0M381 144.6h0M380.1 146.9h0M379.3 149h0M380.4 140h0M382.4 143.3h0M381.1 149.1h0M379.5 156.9h0M382.1 141.3h0M378.8 154.5h0M381.7 159.1h0M384.2 147.2h0M382.2 155h0M379.6 158.4h0M380.6 158.6h0M379.8 153.5h0M380.2 157.8h0M380 157.9h0M380 151.1h0M382.6 153.3h0M380 155.7h0M379.7 152.9h0M383.4 156.2h0M379.2 146.5h0M380.2 159.4h0M381.2 149.6h0M379.2 148.2h0M379.8 149.7h0M379.7 140.2h0M378.8 127.2h0M380.1 137.1h0M379.2 158.5h0M380.6 152.4h0M380.4 146.1h0M378.9 124.4h0M379.6 125.1h0M378.9 156.5h0M381.9 140.7h0M379.4 154h0M378.8 154.2h0M379.6 105.8h0M384.7 85.4h0M379.3 86.7h0M386.4 95.8h0M380 108.1h0M379.1 128.6h0M384.6 134.6h0M384 90.4h0M386 69h0M388 121.8h0M383 53.2h0M380.5 85.8h0M379.3 141.4h0M386.6 59.6h0M380.1 131.4h0M379 110.3h0M381.5 128.5h0M381.8 94.1h0M385.1 40.3h0M383.4 141.1h0M379.8 107.5h0M379.7 147.9h0M379.4 146.4h0M381.2 148.4h0M381.2 102.1h0M382.1 147.4h0M379.9 108.5h0M379.7 123.1h0M379.2 143.3h0M381.4 109.4h0M381.4 75.7h0M380.4 115.3h0M378.8 134.4h0M386.2 120.9h0M384.8 141.7h0M388.1 107.1h0M380.7 69.7h0M379.9 121.9h0M380.2 86.7h0M379 92.3h0M385.9 64.1h0M380.2 145.3h0M379.2 90.1h0M379.2 63.9h0M391 103h0M383.6 112.2h0M379.3 125.3h0M380.3 120.3h0M379 125.4h0M379.9 108.3h0M379.3 50.3h0M381.1 108h0M380.2 136.5h0M379.5 76.8h0M385.1 76.7h0M383.8 142.1h0M381.1 124.9h0M379.6 63h0M380.6 137.6h0M381.5 109.2h0M384 84.8h0M378.9 146.1h0M386.9 133.7h0M381.1 47.8h0M379 122.5h0M384.9 113.9h0M390.4 126.4h0M385.1 139.3h0M384.9 48.2h0M379.8 93.3h0M385.7 142.5h0M383.2 148.2h0M382.1 44.8h0M382 122.9h0M380.4 112.4h0M379.7 82h0M380.3 126.7h0M379.9 47h0M387.3 79.7h0M379.7 91.2h0M380.3 117.2h0M382.5 109.2h0M381.3 67.1h0M383.8 50h0M381.4 133.6h0M379.4 83.6h0M379.5 143.4h0M379 129.2h0M391.8 141.7h0M382.3 106.7h0M380 80.2h0M380.3 118.6h0M388.2 64.4h0M379.1 42.1h0M380.6 60.7h0M387 112.5h0M379.9 69.9h0M380.8 81.2h0M384.9 59.5h0M380.7 90.1h0M384.2 114.3h0M380.4 80.3h0M378.7 74.1h0M381.8 108.9h0M380.5 138.1h0M383.2 106.9h0M386.2 118.9h0M381.7 58.4h0M380.4 113.4h0M383.7 48.2h0M379.9 82.6h0M380.6 113.1h0M381.9 74.6h0M378.7 111.1h0M382 128.4h0M380.2 39.9h0M380.6 137.6h0M388 147.6h0M385.4 94.6h0M379.4 146.5h0M389.8 95.4h0M382.5 140.3h0M384.9 70.5h0M379.4 142.6h0M380.2 99.4h0M379.9 81.7h0M381.1 88.2h0M381.9 140.9h0M384.7 106.5h0M386.2 78.1h0M387.7 139.1h0M381.8 131.4h0M391.8 113.8h0M385.1 111.5h0M381.9 130.6h0M382 117.9h0M382.8 134h0M380.1 120h0M381.2 123.1h0M379.7 86.7h0M384.2 81.3h0M381.6 133.3h0M382.2 107.1h0M384.8 107.9h0M383.9 146.6h0M386.7 94h0M380.1 46.3h0M382.7 101.6h0M379.3 135.8h0M379.4 123h0M379.1 129.4h0M384.6 114.1h0M387.5 142.6h0M380.6 144.2h0M387.5 53h0M381.7 96.2h0M379.2 148.2h0M381.1 48.4h0M381.6 54.9h0M385.5 59.9h0M384.8 131.1h0M379.8 96.9h0M378.9 83.3h0M385.9 72.2h0M389.2 29.3h0M380.4 62.8h0M381.6 120h0M381.3 136.5h0M381.7 117.3h0M386.2 110.9h0M380 137.2h0M384.3 132.8h0M379.5 124.5h0M379.2 69.8h0M379 111.4h0M378.7 124.8h0M380.7 122.4h0M381.8 114.3h0M379.4 130.4h0M381.9 73h0M386 117.3h0M381.9 75.5h0M379.6 66.2h0M387.1 122.2h0M379.2 67h0M379.3 114.1h0M378.7 138.4h0M379.3 107.2h0M380.1 74.5h0M381.1 102.5h0M380.3 143.9h0M384.6 82.7h0M385.4 142.7h0M379.5 53.6h0M380.9 28.2h0M384.4 145.3h0M381.6 117.4h0M386 126.4h0M383.1 111.1h0M382.1 147.4h0M381.7 93.3h0M388.5 92.4h0M385 47.2h0M378.9 94h0M380.7 137.4h0M382.8 127.5h0M383.1 147.5h0M381.6 128.6h0M380.1 122.4h0M389.7 103.5h0M380.7 118.8h0M384.4 117.2h0M378.9 122.5h0M385.2 114.5h0M379.1 131.4h0M380.1 88.8h0M379.2 138.6h0M380.2 128.4h0M381.4 90.9h0M381.5 44.2h0M384.6 69.6h0M379.6 104.8h0M383.4 109.2h0M379.6 113.3h0M380.7 136.4h0M390 121.4h0M389.1 69.8h0M383.9 106.3h0M386 128.1h0M384.4 117.9h0M381.1 74.6h0M379.6 139.5h0M389.1 124.3h0M378.9 135.8h0M378.8 147h0M392 216.7h0M386.8 209.2h0M392.6 177.9h0M384.6 187.8h0M383.7 199.9h0M392.2 209h0M392.2 152.6h0M385.8 213.6h0M387.8 160.3h0M386.5 99.4h0M388.3 91h0M383.9 127h0M394.2 187.7h0M391.5 62.1h0M385 117.5h0M384.2 96.9h0M386.1 59.3h0M401.8 216.6h0M396.8 81.8h0M385.5 110.9h0M397.8 112.1h0M394.8 211.3h0M408.6 128.6h0M394.3 175.8h0M401.3 130.8h0M384 56.4h0M401 211.6h0M391.1 201.3h0M386.1 165.8h0M384.6 58.3h0M384.4 77h0M394.6 186.4h0M403.3 160.2h0M395.1 215.3h0M393 215.6h0M384.9 207.7h0M388 184.6h0M383.6 77.4h0M388 158h0M383.3 151h0M384.9 135.8h0M391.7 50.5h0M403.8 37h0M397.8 201.4h0M400.2 90.8h0M383.3 199.5h0M388.6 139.9h0M392.9 36.2h0M397.5 35.8h0M393.1 152.4h0M391.7 96.5h0M384.5 74.4h0M408.6 209.8h0M395.3 166.3h0M391.4 69.3h0M407.2 214.6h0M386.5 217.2h0M413.9 172h0M409.2 182.2h0M403.8 81.6h0M390.9 216.5h0M384.4 30h0M383.7 145h0M383.9 58.1h0M392.7 65.5h0M383.8 198.7h0M402.5 140.2h0M403.1 140.2h0M385.6 72h0M385.2 191.6h0M387.2 193.8h0M393.5 180h0M385.5 137.8h0M387.7 164h0M384.7 156.2h0M394.7 84.7h0M384.7 38.5h0M385.7 174.2h0M401.4 153.1h0M385 122.1h0M389.3 211h0M394.3 190.2h0M390.3 35.3h0M383.6 142.8h0M410.1 214h0M386.4 200.1h0M392.1 162.8h0M391 58.5h0M388.8 60.5h0M386.3 195.5h0M395.2 202.1h0M383.4 87.9h0M389.4 103.4h0M384.2 60.6h0M383.1 207.3h0M389.4 179.2h0M393.6 105.9h0M401.8 215.6h0M396.6 135.1h0M384.7 197.9h0M386 188.4h0M393.6 215.3h0M401.1 168.8h0M390.2 166.6h0M392.3 175.8h0M389.1 107.5h0M384.3 150.8h0M389.6 28.5h0M383.6 207.9h0M385.8 193.2h0M393.9 153.9h0M404.4 44.1h0M389.7 24.8h0M390.4 36.2h0M390.7 214.6h0M395.4 196.6h0M403.1 46.4h0M393.2 172.3h0M401.6 213h0M383.2 183.7h0M392.7 204.3h0M385.3 189h0M399.9 190.7h0M397.7 166.9h0M401.7 196.1h0M384.9 82.1h0M393.3 217h0M388 194.8h0M385.5 216.6h0M385.1 209.8h0M393.7 181.7h0M382.3 210.8h0M398.5 210.2h0M381.4 215.5h0M388.4 210.9h0M391.5 204.8h0M383 199.8h0M397.4 201h0M388.8 204.5h0M394.9 192.8h0M384.5 215.6h0M389.9 215.8h0M388.4 210.6h0M392.2 190.3h0M384.2 210.8h0M401.9 206.3h0M389.1 203.2h0M386.9 200.9h0M405.7 212.6h0M396.8 197.2h0M388.1 194h0M393.4 174.7h0M385.7 216.7h0M383.6 194.9h0M388.3 183.8h0M393.4 210.2h0M382.4 178.2h0M383.4 212.9h0M390.9 192.5h0M386.2 207.4h0M382.1 191.8h0M382.9 210.3h0M383.2 173.6h0M382 205.4h0M403.3 214.4h0M388.7 210.9h0M382.3 213.9h0M387.4 217h0M393.3 192.6h0M385.2 207.2h0M399.6 164.6h0M386.4 211.4h0M382.2 187.5h0M399.8 216.9h0M398.4 189.1h0M391.3 213.6h0M393.7 216.5h0M384.7 214.8h0M386.4 215.1h0M392.9 216.6h0M383.7 213h0M383.7 201.5h0M403.7 201.3h0M384.1 214.1h0M383.3 212.4h0M383.3 21.3h0M384.2 21.3h0M410.7 21.3h0M412 21.3h0M397.3 21.3h0M394.9 21.3h0M391.2 21.3h0M412.6 21.3h0M406.3 21.3h0M391.4 21.3h0M396 21.3h0M381.8 21.3h0M388.7 21.3h0M383.6 21.3h0M397.1 21.3h0M403.2 21.3h0M394.9 21.3h0M388.4 21.3h0M396.4 21.3h0M382.9 21.3h0M398.7 21.3h0M391.6 21.3h0M399.1 21.3h0M404.7 21.3h0M393.2 21.3h0M388.4 21.3h0M395.8 21.3h0M392.9 21.3h0M408.8 21.3h0M386 21.3h0M407.3 21.3h0M407 21.3h0M398.4 21.3h0M404.5 21.3h0M395.6 21.3h0M396.4 21.3h0M396.8 21.3h0M390.1 21.3h0M400.8 21.3h0M395.1 21.3h0M411.1 21.3h0M413.3 21.3h0M402.4 21.3h0M384.7 21.3h0M405.3 21.3h0M411.9 21.3h0M391.4 21.3h0M388.7 21.3h0M385.2 21.3h0M410.7 21.3h0M406.7 21.3h0M396.9 21.3h0M411.1 21.3h0M402 21.3h0M389 21.3h0M399.7 21.3h0M387.4 21.3h0M386.5 21.3h0M387.9 21.3h0M410.8 21.3h0M400.9 21.3h0M412.6 21.3h0M397.6 21.3h0M392.7 21.3h0M397.5 21.3h0M412.6 21.3h0M405.4 21.3h0M408.8 21.3h0M394.5 21.3h0M398.2 21.3h0M412.9 21.3h0M390.2 21.3h0M391.2 21.3h0M384.7 21.3h0M410.4 21.3h0M412.7 21.3h0M402.9 21.3h0M409.2 21.3h0M412 21.3h0M387.9 21.3h0M401.6 21.3h0M411.9 21.3h0M405.9 21.3h0M403.6 21.3h0M383.6 21.3h0M403.6 21.3h0M386.3 21.3h0M411.8 21.3h0M387.5 21.3h0M388.2 21.3h0M386.9 21.3h0M401.6 21.3h0M384.9 21.3h0M403.6 21.3h0M407 21.3h0M397.2 21.3h0M392.7 21.3h0M409.7 21.3h0M383.2 21.3h0M386.3 21.3h0M382.8 21.3h0M392.1 21.3h0M388.2 21.3h0M388.4 21.3h0M392.3 21.3h0M408.9 21.3h0M391.3 21.3h0M389.7 21.3h0M408.7 21.3h0M386.1 21.3h0M424.2 21.3h0M424.2 21.3h0M417.8 21.3h0M420.9 21.3h0M414 21.3h0M421.5 21.3h0M426.5 21.3h0M420.3 21.3h0M428.3 21.3h0M421.5 21.3h0" stroke="#ee1c1c" stroke-width="1.85" stroke-linecap="round" fill="none"/>
<path d="M348.5 241.7H400.3" stroke="#5a5a5a" stroke-width="1.8" stroke-linecap="round" fill="none"/>
<path d="M255.4 242H258M255.4 204.6H258M255.4 167.2H258M255.4 129.8H258M255.4 92.4H258M255.4 55H258M255.4 17.6H258M263.1 242V244.6M290.6 242V244.6M318.1 242V244.6M345.6 242V244.6M373.1 242V244.6M400.6 242V244.6M428.1 242V244.6M455.6 242V244.6" stroke="#666" stroke-width="0.6" fill="none"/>
<g class="ss" font-size="5.1" fill="#111" stroke="#111" stroke-width="0.18">
<text x="252.6" y="244" text-anchor="end">0</text>
<text x="252.6" y="206.6" text-anchor="end">2</text>
<text x="252.6" y="169.2" text-anchor="end">4</text>
<text x="252.6" y="131.8" text-anchor="end">6</text>
<text x="252.6" y="94.4" text-anchor="end">8</text>
<text x="252.6" y="57" text-anchor="end">10</text>
<text x="252.6" y="19.6" text-anchor="end">12</text>
<text x="263.1" y="250.9" text-anchor="middle">-20</text>
<text x="290.6" y="250.9" text-anchor="middle">-15</text>
<text x="318.1" y="250.9" text-anchor="middle">-10</text>
<text x="345.6" y="250.9" text-anchor="middle">-5</text>
<text x="373.1" y="250.9" text-anchor="middle">0</text>
<text x="400.6" y="250.9" text-anchor="middle">5</text>
<text x="428.1" y="250.9" text-anchor="middle">10</text>
<text x="455.6" y="250.9" text-anchor="middle">15</text>
</g>
<text x="356.8" y="260" text-anchor="middle" class="ss" font-size="7.2" fill="#111" stroke="#111" stroke-width="0.2">Log2FC</text>
<text transform="translate(238.3 128) rotate(-90)" text-anchor="middle" class="ss" font-size="7.7" fill="#111">-Log10(Padjust)</text>
<text x="319.6" y="35.2" class="sf" font-weight="bold" font-size="14.2" fill="#000" textLength="18.4" lengthAdjust="spacingAndGlyphs">796</text>
<text x="405.2" y="34.7" class="sf" font-weight="bold" font-size="14.2" fill="#000" textLength="18.6" lengthAdjust="spacingAndGlyphs">818</text>
</g>
<g class="sf" font-size="16.5" fill="#111">
<text x="11.5" y="13">A</text>
<text x="227" y="11.5">B</text>
<text x="486.8" y="13">C</text>
</g>
<g id="venn">
<circle cx="538.5" cy="136.8" r="71.8" fill="#f4a79d"/>
<circle cx="610.8" cy="136.8" r="71.8" fill="#a8deec"/>
<path d="M574.65 74.76 A71.8 71.8 0 0 1 574.65 198.84 A71.8 71.8 0 0 1 574.65 74.76Z" fill="#a6c4cd"/>
<circle cx="538.5" cy="136.8" r="71.8" fill="none" stroke="#333" stroke-width="0.85"/>
<circle cx="610.8" cy="136.8" r="71.8" fill="none" stroke="#333" stroke-width="0.85"/>
<g class="sf" font-size="7.3" fill="#222" text-anchor="middle">
<text x="503.2" y="137.5">1015</text><text x="575.2" y="137.5">185</text><text x="647.2" y="137.5">1429</text>
</g>
<g class="sf" font-size="8.9" fill="#111" stroke="#111" stroke-width="0.28">
<text x="469.6" y="48.8" textLength="102.2" lengthAdjust="spacingAndGlyphs">WT VS <tspan font-style="italic">Clbg1</tspan>-L6 (10 DAP)</text>
<text x="579.4" y="48.8" textLength="102.2" lengthAdjust="spacingAndGlyphs">WT VS <tspan font-style="italic">Clbg1</tspan>-L6 (18 DAP)</text>
</g>
</g>
</svg>
</body></html>
